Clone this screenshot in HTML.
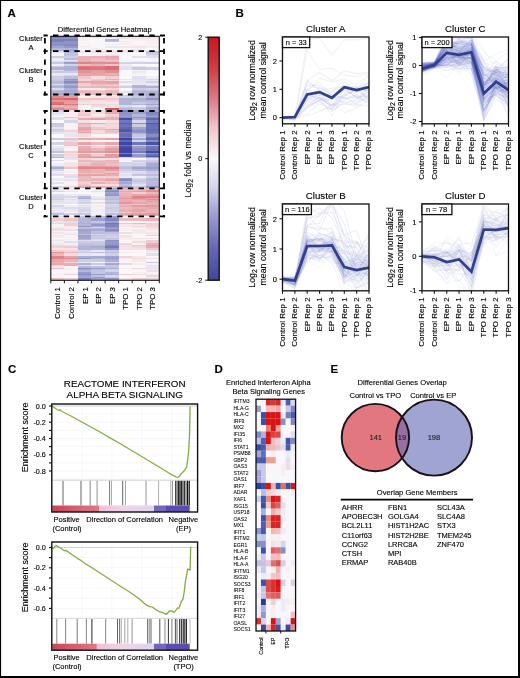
<!DOCTYPE html>
<html><head><meta charset="utf-8"><style>
html,body{margin:0;padding:0;background:#fff;overflow:hidden;}
svg{display:block;font-family:"Liberation Sans", sans-serif;will-change:transform;}
text{stroke:#000;stroke-width:0.12px;}
</style></head><body>
<svg width="520" height="678" viewBox="0 0 520 678">
<rect width="520" height="678" fill="#fff"/>
<text x="7.50" y="17.00" font-size="11.5" text-anchor="start" font-weight="bold" fill="#000" >A</text>
<text x="235.50" y="17.30" font-size="11.5" text-anchor="start" font-weight="bold" fill="#000" >B</text>
<text x="8.00" y="373.00" font-size="11.5" text-anchor="start" font-weight="bold" fill="#000" >C</text>
<text x="214.50" y="372.50" font-size="11.5" text-anchor="start" font-weight="bold" fill="#000" >D</text>
<text x="330.50" y="372.70" font-size="11.5" text-anchor="start" font-weight="bold" fill="#000" >E</text>
<g shape-rendering="crispEdges"><rect x="50.80" y="36.30" width="13.61" height="2.05" fill="#7d83bf"/><rect x="64.36" y="36.30" width="13.61" height="2.05" fill="#8d92c6"/><rect x="77.92" y="36.30" width="13.61" height="2.05" fill="#f6eaec"/><rect x="91.49" y="36.30" width="13.61" height="2.05" fill="#f6e6e9"/><rect x="105.05" y="36.30" width="13.61" height="2.05" fill="#eceaf3"/><rect x="118.61" y="36.30" width="13.61" height="2.05" fill="#f5e3e6"/><rect x="132.18" y="36.30" width="13.61" height="2.05" fill="#f6e7ea"/><rect x="145.74" y="36.30" width="13.61" height="2.05" fill="#f3dde0"/><rect x="50.80" y="38.30" width="13.61" height="0.25" fill="#888dc4"/><rect x="64.36" y="38.30" width="13.61" height="0.25" fill="#8a8fc5"/><rect x="77.92" y="38.30" width="13.61" height="0.25" fill="#f8f0f3"/><rect x="91.49" y="38.30" width="13.61" height="0.25" fill="#f9f5f7"/><rect x="105.05" y="38.30" width="13.61" height="0.25" fill="#ecebf3"/><rect x="118.61" y="38.30" width="13.61" height="0.25" fill="#f5e2e5"/><rect x="132.18" y="38.30" width="13.61" height="0.25" fill="#f4e1e4"/><rect x="145.74" y="38.30" width="13.61" height="0.25" fill="#f6eaec"/><rect x="50.80" y="38.50" width="13.61" height="2.55" fill="#797fbd"/><rect x="64.36" y="38.50" width="13.61" height="2.55" fill="#7b81bd"/><rect x="77.92" y="38.50" width="13.61" height="2.55" fill="#f8f2f4"/><rect x="91.49" y="38.50" width="13.61" height="2.55" fill="#f9f7f9"/><rect x="105.05" y="38.50" width="13.61" height="2.55" fill="#b4b7d9"/><rect x="118.61" y="38.50" width="13.61" height="2.55" fill="#f9f4f6"/><rect x="132.18" y="38.50" width="13.61" height="2.55" fill="#f7eef0"/><rect x="145.74" y="38.50" width="13.61" height="2.55" fill="#f7ebee"/><rect x="50.80" y="41.00" width="13.61" height="0.55" fill="#7d83be"/><rect x="64.36" y="41.00" width="13.61" height="0.55" fill="#8d92c6"/><rect x="77.92" y="41.00" width="13.61" height="0.55" fill="#f7f6f9"/><rect x="91.49" y="41.00" width="13.61" height="0.55" fill="#f6f5f8"/><rect x="105.05" y="41.00" width="13.61" height="0.55" fill="#bdbfdd"/><rect x="118.61" y="41.00" width="13.61" height="0.55" fill="#f7eef0"/><rect x="132.18" y="41.00" width="13.61" height="0.55" fill="#faf8fa"/><rect x="145.74" y="41.00" width="13.61" height="0.55" fill="#f8f3f5"/><rect x="50.80" y="41.50" width="13.61" height="2.55" fill="#8f94c7"/><rect x="64.36" y="41.50" width="13.61" height="2.55" fill="#9095c8"/><rect x="77.92" y="41.50" width="13.61" height="2.55" fill="#f8f2f5"/><rect x="91.49" y="41.50" width="13.61" height="2.55" fill="#f9f7f9"/><rect x="105.05" y="41.50" width="13.61" height="2.55" fill="#faf8fa"/><rect x="118.61" y="41.50" width="13.61" height="2.55" fill="#f4f2f7"/><rect x="132.18" y="41.50" width="13.61" height="2.55" fill="#f9f7f9"/><rect x="145.74" y="41.50" width="13.61" height="2.55" fill="#f1f0f6"/><rect x="50.80" y="44.00" width="13.61" height="1.05" fill="#888dc4"/><rect x="64.36" y="44.00" width="13.61" height="1.05" fill="#888dc4"/><rect x="77.92" y="44.00" width="13.61" height="1.05" fill="#f8f3f5"/><rect x="91.49" y="44.00" width="13.61" height="1.05" fill="#f9f7f9"/><rect x="105.05" y="44.00" width="13.61" height="1.05" fill="#eeedf4"/><rect x="118.61" y="44.00" width="13.61" height="1.05" fill="#f7eef1"/><rect x="132.18" y="44.00" width="13.61" height="1.05" fill="#f9f4f6"/><rect x="145.74" y="44.00" width="13.61" height="1.05" fill="#f9f7f9"/><rect x="50.80" y="45.00" width="13.61" height="1.05" fill="#9195c8"/><rect x="64.36" y="45.00" width="13.61" height="1.05" fill="#8287c1"/><rect x="77.92" y="45.00" width="13.61" height="1.05" fill="#f5f3f7"/><rect x="91.49" y="45.00" width="13.61" height="1.05" fill="#f7f5f8"/><rect x="105.05" y="45.00" width="13.61" height="1.05" fill="#f9f7f9"/><rect x="118.61" y="45.00" width="13.61" height="1.05" fill="#f8f6f9"/><rect x="132.18" y="45.00" width="13.61" height="1.05" fill="#f7eef1"/><rect x="145.74" y="45.00" width="13.61" height="1.05" fill="#f7eff1"/><rect x="50.80" y="46.00" width="13.61" height="2.05" fill="#a1a4cf"/><rect x="64.36" y="46.00" width="13.61" height="2.05" fill="#959aca"/><rect x="77.92" y="46.00" width="13.61" height="2.05" fill="#f7eef1"/><rect x="91.49" y="46.00" width="13.61" height="2.05" fill="#f9f6f8"/><rect x="105.05" y="46.00" width="13.61" height="2.05" fill="#e9e8f2"/><rect x="118.61" y="46.00" width="13.61" height="2.05" fill="#f5e6e9"/><rect x="132.18" y="46.00" width="13.61" height="2.05" fill="#f5e5e8"/><rect x="145.74" y="46.00" width="13.61" height="2.05" fill="#f7ebee"/><rect x="50.80" y="48.00" width="13.61" height="1.55" fill="#b5b8d9"/><rect x="64.36" y="48.00" width="13.61" height="1.55" fill="#b3b5d8"/><rect x="77.92" y="48.00" width="13.61" height="1.55" fill="#f6f4f8"/><rect x="91.49" y="48.00" width="13.61" height="1.55" fill="#f1eff5"/><rect x="105.05" y="48.00" width="13.61" height="1.55" fill="#f8f6f9"/><rect x="118.61" y="48.00" width="13.61" height="1.55" fill="#f9f6f8"/><rect x="132.18" y="48.00" width="13.61" height="1.55" fill="#f2f0f6"/><rect x="145.74" y="48.00" width="13.61" height="1.55" fill="#f8f6f9"/><rect x="50.80" y="49.50" width="13.61" height="1.55" fill="#b1b4d7"/><rect x="64.36" y="49.50" width="13.61" height="1.55" fill="#9b9fcd"/><rect x="77.92" y="49.50" width="13.61" height="1.55" fill="#f7ebed"/><rect x="91.49" y="49.50" width="13.61" height="1.55" fill="#f8f2f5"/><rect x="105.05" y="49.50" width="13.61" height="1.55" fill="#e9e8f2"/><rect x="118.61" y="49.50" width="13.61" height="1.55" fill="#f6e7e9"/><rect x="132.18" y="49.50" width="13.61" height="1.55" fill="#f4dee1"/><rect x="145.74" y="49.50" width="13.61" height="1.55" fill="#f9f5f7"/><rect x="50.80" y="51.00" width="13.61" height="1.55" fill="#e2e1ee"/><rect x="64.36" y="51.00" width="13.61" height="1.55" fill="#b8badb"/><rect x="77.92" y="51.00" width="13.61" height="1.55" fill="#f5e3e6"/><rect x="91.49" y="51.00" width="13.61" height="1.55" fill="#f4dee1"/><rect x="105.05" y="51.00" width="13.61" height="1.55" fill="#f5e3e6"/><rect x="118.61" y="51.00" width="13.61" height="1.55" fill="#edecf4"/><rect x="132.18" y="51.00" width="13.61" height="1.55" fill="#f1f0f6"/><rect x="145.74" y="51.00" width="13.61" height="1.55" fill="#bfc1de"/><rect x="50.80" y="52.50" width="13.61" height="2.05" fill="#f9f7f9"/><rect x="64.36" y="52.50" width="13.61" height="2.05" fill="#c1c2df"/><rect x="77.92" y="52.50" width="13.61" height="2.05" fill="#faf8fa"/><rect x="91.49" y="52.50" width="13.61" height="2.05" fill="#f8f1f3"/><rect x="105.05" y="52.50" width="13.61" height="2.05" fill="#f7edef"/><rect x="118.61" y="52.50" width="13.61" height="2.05" fill="#f7f6f8"/><rect x="132.18" y="52.50" width="13.61" height="2.05" fill="#faf8fa"/><rect x="145.74" y="52.50" width="13.61" height="2.05" fill="#cecfe5"/><rect x="50.80" y="54.50" width="13.61" height="1.55" fill="#f8f6f9"/><rect x="64.36" y="54.50" width="13.61" height="1.55" fill="#c3c5e0"/><rect x="77.92" y="54.50" width="13.61" height="1.55" fill="#f9f7f9"/><rect x="91.49" y="54.50" width="13.61" height="1.55" fill="#f7edef"/><rect x="105.05" y="54.50" width="13.61" height="1.55" fill="#f2d7da"/><rect x="118.61" y="54.50" width="13.61" height="1.55" fill="#f8f3f5"/><rect x="132.18" y="54.50" width="13.61" height="1.55" fill="#faf8fa"/><rect x="145.74" y="54.50" width="13.61" height="1.55" fill="#dcdcec"/><rect x="50.80" y="56.00" width="13.61" height="1.55" fill="#cdcde4"/><rect x="64.36" y="56.00" width="13.61" height="1.55" fill="#cecfe5"/><rect x="77.92" y="56.00" width="13.61" height="1.55" fill="#eab3b7"/><rect x="91.49" y="56.00" width="13.61" height="1.55" fill="#eab2b7"/><rect x="105.05" y="56.00" width="13.61" height="1.55" fill="#e7a7ac"/><rect x="118.61" y="56.00" width="13.61" height="1.55" fill="#faf8fa"/><rect x="132.18" y="56.00" width="13.61" height="1.55" fill="#e2e2ee"/><rect x="145.74" y="56.00" width="13.61" height="1.55" fill="#dedeec"/><rect x="50.80" y="57.50" width="13.61" height="2.05" fill="#edebf3"/><rect x="64.36" y="57.50" width="13.61" height="2.05" fill="#b9bbdb"/><rect x="77.92" y="57.50" width="13.61" height="2.05" fill="#e9b1b5"/><rect x="91.49" y="57.50" width="13.61" height="2.05" fill="#ecbec3"/><rect x="105.05" y="57.50" width="13.61" height="2.05" fill="#e9adb2"/><rect x="118.61" y="57.50" width="13.61" height="2.05" fill="#faf8fa"/><rect x="132.18" y="57.50" width="13.61" height="2.05" fill="#faf8fa"/><rect x="145.74" y="57.50" width="13.61" height="2.05" fill="#f6f4f8"/><rect x="50.80" y="59.50" width="13.61" height="1.55" fill="#f0eef5"/><rect x="64.36" y="59.50" width="13.61" height="1.55" fill="#e4e3ef"/><rect x="77.92" y="59.50" width="13.61" height="1.55" fill="#eab5b9"/><rect x="91.49" y="59.50" width="13.61" height="1.55" fill="#eec5c8"/><rect x="105.05" y="59.50" width="13.61" height="1.55" fill="#eec7cb"/><rect x="118.61" y="59.50" width="13.61" height="1.55" fill="#f1f0f6"/><rect x="132.18" y="59.50" width="13.61" height="1.55" fill="#faf8fa"/><rect x="145.74" y="59.50" width="13.61" height="1.55" fill="#f9f7f9"/><rect x="50.80" y="61.00" width="13.61" height="1.05" fill="#dfdfed"/><rect x="64.36" y="61.00" width="13.61" height="1.05" fill="#d0d0e6"/><rect x="77.92" y="61.00" width="13.61" height="1.05" fill="#e7a9ad"/><rect x="91.49" y="61.00" width="13.61" height="1.05" fill="#e8acb1"/><rect x="105.05" y="61.00" width="13.61" height="1.05" fill="#ebbabe"/><rect x="118.61" y="61.00" width="13.61" height="1.05" fill="#faf8fa"/><rect x="132.18" y="61.00" width="13.61" height="1.05" fill="#ebeaf2"/><rect x="145.74" y="61.00" width="13.61" height="1.05" fill="#f6f5f8"/><rect x="50.80" y="62.00" width="13.61" height="1.55" fill="#c9cae3"/><rect x="64.36" y="62.00" width="13.61" height="1.55" fill="#9b9fcd"/><rect x="77.92" y="62.00" width="13.61" height="1.55" fill="#df848a"/><rect x="91.49" y="62.00" width="13.61" height="1.55" fill="#e18d93"/><rect x="105.05" y="62.00" width="13.61" height="1.55" fill="#e18b91"/><rect x="118.61" y="62.00" width="13.61" height="1.55" fill="#d2d2e7"/><rect x="132.18" y="62.00" width="13.61" height="1.55" fill="#d2d2e7"/><rect x="145.74" y="62.00" width="13.61" height="1.55" fill="#cecfe5"/><rect x="50.80" y="63.50" width="13.61" height="2.05" fill="#f0eef5"/><rect x="64.36" y="63.50" width="13.61" height="2.05" fill="#d3d4e7"/><rect x="77.92" y="63.50" width="13.61" height="2.05" fill="#ecbec2"/><rect x="91.49" y="63.50" width="13.61" height="2.05" fill="#e9afb4"/><rect x="105.05" y="63.50" width="13.61" height="2.05" fill="#eec6ca"/><rect x="118.61" y="63.50" width="13.61" height="2.05" fill="#eeecf4"/><rect x="132.18" y="63.50" width="13.61" height="2.05" fill="#faf8fa"/><rect x="145.74" y="63.50" width="13.61" height="2.05" fill="#faf8fa"/><rect x="50.80" y="65.50" width="13.61" height="0.55" fill="#e1e1ee"/><rect x="64.36" y="65.50" width="13.61" height="0.55" fill="#d3d3e7"/><rect x="77.92" y="65.50" width="13.61" height="0.55" fill="#ebb8bd"/><rect x="91.49" y="65.50" width="13.61" height="0.55" fill="#ebb8bc"/><rect x="105.05" y="65.50" width="13.61" height="0.55" fill="#e4989d"/><rect x="118.61" y="65.50" width="13.61" height="0.55" fill="#e5e4f0"/><rect x="132.18" y="65.50" width="13.61" height="0.55" fill="#e0e0ee"/><rect x="145.74" y="65.50" width="13.61" height="0.55" fill="#d9d9ea"/><rect x="50.80" y="66.00" width="13.61" height="1.05" fill="#cbcce4"/><rect x="64.36" y="66.00" width="13.61" height="1.05" fill="#adb0d5"/><rect x="77.92" y="66.00" width="13.61" height="1.05" fill="#dd7b82"/><rect x="91.49" y="66.00" width="13.61" height="1.05" fill="#df838a"/><rect x="105.05" y="66.00" width="13.61" height="1.05" fill="#d96c73"/><rect x="118.61" y="66.00" width="13.61" height="1.05" fill="#e4e3ef"/><rect x="132.18" y="66.00" width="13.61" height="1.05" fill="#e4e4ef"/><rect x="145.74" y="66.00" width="13.61" height="1.05" fill="#f6f4f8"/><rect x="50.80" y="67.00" width="13.61" height="2.55" fill="#b1b4d7"/><rect x="64.36" y="67.00" width="13.61" height="2.55" fill="#adb0d5"/><rect x="77.92" y="67.00" width="13.61" height="2.55" fill="#da6f76"/><rect x="91.49" y="67.00" width="13.61" height="2.55" fill="#dc767d"/><rect x="105.05" y="67.00" width="13.61" height="2.55" fill="#da6e75"/><rect x="118.61" y="67.00" width="13.61" height="2.55" fill="#e1e0ee"/><rect x="132.18" y="67.00" width="13.61" height="2.55" fill="#c7c8e1"/><rect x="145.74" y="67.00" width="13.61" height="2.55" fill="#cecee5"/><rect x="50.80" y="69.50" width="13.61" height="1.55" fill="#dbdbeb"/><rect x="64.36" y="69.50" width="13.61" height="1.55" fill="#b6b9da"/><rect x="77.92" y="69.50" width="13.61" height="1.55" fill="#e4989e"/><rect x="91.49" y="69.50" width="13.61" height="1.55" fill="#e4999f"/><rect x="105.05" y="69.50" width="13.61" height="1.55" fill="#e18d93"/><rect x="118.61" y="69.50" width="13.61" height="1.55" fill="#faf8fa"/><rect x="132.18" y="69.50" width="13.61" height="1.55" fill="#f5f3f7"/><rect x="145.74" y="69.50" width="13.61" height="1.55" fill="#f5f4f8"/><rect x="50.80" y="71.00" width="13.61" height="1.55" fill="#c9cae2"/><rect x="64.36" y="71.00" width="13.61" height="1.55" fill="#cbcce4"/><rect x="77.92" y="71.00" width="13.61" height="1.55" fill="#e28f95"/><rect x="91.49" y="71.00" width="13.61" height="1.55" fill="#e59ea3"/><rect x="105.05" y="71.00" width="13.61" height="1.55" fill="#e18e94"/><rect x="118.61" y="71.00" width="13.61" height="1.55" fill="#faf8fa"/><rect x="132.18" y="71.00" width="13.61" height="1.55" fill="#eae9f2"/><rect x="145.74" y="71.00" width="13.61" height="1.55" fill="#faf8fa"/><rect x="50.80" y="72.50" width="13.61" height="2.05" fill="#eae9f2"/><rect x="64.36" y="72.50" width="13.61" height="2.05" fill="#e7e6f1"/><rect x="77.92" y="72.50" width="13.61" height="2.05" fill="#e6a4a9"/><rect x="91.49" y="72.50" width="13.61" height="2.05" fill="#e6a2a7"/><rect x="105.05" y="72.50" width="13.61" height="2.05" fill="#e9b0b4"/><rect x="118.61" y="72.50" width="13.61" height="2.05" fill="#faf8fa"/><rect x="132.18" y="72.50" width="13.61" height="2.05" fill="#f4f2f7"/><rect x="145.74" y="72.50" width="13.61" height="2.05" fill="#faf8fa"/><rect x="50.80" y="74.50" width="13.61" height="1.55" fill="#e4e3ef"/><rect x="64.36" y="74.50" width="13.61" height="1.55" fill="#d6d6e9"/><rect x="77.92" y="74.50" width="13.61" height="1.55" fill="#e59fa4"/><rect x="91.49" y="74.50" width="13.61" height="1.55" fill="#e8adb2"/><rect x="105.05" y="74.50" width="13.61" height="1.55" fill="#e7a5aa"/><rect x="118.61" y="74.50" width="13.61" height="1.55" fill="#faf8fa"/><rect x="132.18" y="74.50" width="13.61" height="1.55" fill="#faf8fa"/><rect x="145.74" y="74.50" width="13.61" height="1.55" fill="#faf8fa"/><rect x="50.80" y="76.00" width="13.61" height="2.55" fill="#cdcee4"/><rect x="64.36" y="76.00" width="13.61" height="2.55" fill="#bbbddc"/><rect x="77.92" y="76.00" width="13.61" height="2.55" fill="#efc8cc"/><rect x="91.49" y="76.00" width="13.61" height="2.55" fill="#f4dee1"/><rect x="105.05" y="76.00" width="13.61" height="2.55" fill="#f0ced1"/><rect x="118.61" y="76.00" width="13.61" height="2.55" fill="#faf8fa"/><rect x="132.18" y="76.00" width="13.61" height="2.55" fill="#dfdfed"/><rect x="145.74" y="76.00" width="13.61" height="2.55" fill="#f0eff5"/><rect x="50.80" y="78.50" width="13.61" height="1.05" fill="#c8c9e2"/><rect x="64.36" y="78.50" width="13.61" height="1.05" fill="#9297c9"/><rect x="77.92" y="78.50" width="13.61" height="1.05" fill="#f2d7da"/><rect x="91.49" y="78.50" width="13.61" height="1.05" fill="#efcbcf"/><rect x="105.05" y="78.50" width="13.61" height="1.05" fill="#eab2b7"/><rect x="118.61" y="78.50" width="13.61" height="1.05" fill="#e7e6f1"/><rect x="132.18" y="78.50" width="13.61" height="1.05" fill="#e2e1ee"/><rect x="145.74" y="78.50" width="13.61" height="1.05" fill="#d6d6e9"/><rect x="50.80" y="79.50" width="13.61" height="1.55" fill="#c5c7e1"/><rect x="64.36" y="79.50" width="13.61" height="1.55" fill="#9ea2ce"/><rect x="77.92" y="79.50" width="13.61" height="1.55" fill="#f1d3d6"/><rect x="91.49" y="79.50" width="13.61" height="1.55" fill="#ecbdc1"/><rect x="105.05" y="79.50" width="13.61" height="1.55" fill="#f1d3d6"/><rect x="118.61" y="79.50" width="13.61" height="1.55" fill="#faf8fa"/><rect x="132.18" y="79.50" width="13.61" height="1.55" fill="#e4e3ef"/><rect x="145.74" y="79.50" width="13.61" height="1.55" fill="#e9e8f2"/><rect x="50.80" y="81.00" width="13.61" height="1.55" fill="#b6b8da"/><rect x="64.36" y="81.00" width="13.61" height="1.55" fill="#878dc3"/><rect x="77.92" y="81.00" width="13.61" height="1.55" fill="#e6a3a8"/><rect x="91.49" y="81.00" width="13.61" height="1.55" fill="#e6a3a8"/><rect x="105.05" y="81.00" width="13.61" height="1.55" fill="#e5a0a5"/><rect x="118.61" y="81.00" width="13.61" height="1.55" fill="#dedeed"/><rect x="132.18" y="81.00" width="13.61" height="1.55" fill="#e8e7f1"/><rect x="145.74" y="81.00" width="13.61" height="1.55" fill="#d3d3e7"/><rect x="50.80" y="82.50" width="13.61" height="1.05" fill="#bebfdd"/><rect x="64.36" y="82.50" width="13.61" height="1.05" fill="#989ccb"/><rect x="77.92" y="82.50" width="13.61" height="1.05" fill="#f1d1d4"/><rect x="91.49" y="82.50" width="13.61" height="1.05" fill="#e8adb2"/><rect x="105.05" y="82.50" width="13.61" height="1.05" fill="#e6a4a9"/><rect x="118.61" y="82.50" width="13.61" height="1.05" fill="#f1f0f6"/><rect x="132.18" y="82.50" width="13.61" height="1.05" fill="#e6e5f0"/><rect x="145.74" y="82.50" width="13.61" height="1.05" fill="#e5e5f0"/><rect x="50.80" y="83.50" width="13.61" height="1.55" fill="#d8d8ea"/><rect x="64.36" y="83.50" width="13.61" height="1.55" fill="#b8bada"/><rect x="77.92" y="83.50" width="13.61" height="1.55" fill="#efcace"/><rect x="91.49" y="83.50" width="13.61" height="1.55" fill="#ebbabe"/><rect x="105.05" y="83.50" width="13.61" height="1.55" fill="#ecbcc0"/><rect x="118.61" y="83.50" width="13.61" height="1.55" fill="#f7f5f8"/><rect x="132.18" y="83.50" width="13.61" height="1.55" fill="#ecebf3"/><rect x="145.74" y="83.50" width="13.61" height="1.55" fill="#edecf4"/><rect x="50.80" y="85.00" width="13.61" height="1.05" fill="#bfc1de"/><rect x="64.36" y="85.00" width="13.61" height="1.05" fill="#9fa2cf"/><rect x="77.92" y="85.00" width="13.61" height="1.05" fill="#f2d6d9"/><rect x="91.49" y="85.00" width="13.61" height="1.05" fill="#eec5c9"/><rect x="105.05" y="85.00" width="13.61" height="1.05" fill="#efcbcf"/><rect x="118.61" y="85.00" width="13.61" height="1.05" fill="#e5e4f0"/><rect x="132.18" y="85.00" width="13.61" height="1.05" fill="#b4b6d8"/><rect x="145.74" y="85.00" width="13.61" height="1.05" fill="#d8d8ea"/><rect x="50.80" y="86.00" width="13.61" height="1.55" fill="#b1b4d7"/><rect x="64.36" y="86.00" width="13.61" height="1.55" fill="#9498c9"/><rect x="77.92" y="86.00" width="13.61" height="1.55" fill="#ebb9bd"/><rect x="91.49" y="86.00" width="13.61" height="1.55" fill="#eab5b9"/><rect x="105.05" y="86.00" width="13.61" height="1.55" fill="#eab2b7"/><rect x="118.61" y="86.00" width="13.61" height="1.55" fill="#d0d1e6"/><rect x="132.18" y="86.00" width="13.61" height="1.55" fill="#b0b3d7"/><rect x="145.74" y="86.00" width="13.61" height="1.55" fill="#adb0d5"/><rect x="50.80" y="87.50" width="13.61" height="2.05" fill="#dbdbeb"/><rect x="64.36" y="87.50" width="13.61" height="2.05" fill="#afb2d6"/><rect x="77.92" y="87.50" width="13.61" height="2.05" fill="#f6e7ea"/><rect x="91.49" y="87.50" width="13.61" height="2.05" fill="#f7ebed"/><rect x="105.05" y="87.50" width="13.61" height="2.05" fill="#f2d8db"/><rect x="118.61" y="87.50" width="13.61" height="2.05" fill="#faf8fa"/><rect x="132.18" y="87.50" width="13.61" height="2.05" fill="#c9cae2"/><rect x="145.74" y="87.50" width="13.61" height="2.05" fill="#d3d3e7"/><rect x="50.80" y="89.50" width="13.61" height="1.05" fill="#bcbedc"/><rect x="64.36" y="89.50" width="13.61" height="1.05" fill="#a3a7d1"/><rect x="77.92" y="89.50" width="13.61" height="1.05" fill="#eec4c8"/><rect x="91.49" y="89.50" width="13.61" height="1.05" fill="#f0cdd1"/><rect x="105.05" y="89.50" width="13.61" height="1.05" fill="#ecbec2"/><rect x="118.61" y="89.50" width="13.61" height="1.05" fill="#faf8fa"/><rect x="132.18" y="89.50" width="13.61" height="1.05" fill="#bcbddc"/><rect x="145.74" y="89.50" width="13.61" height="1.05" fill="#c5c6e0"/><rect x="50.80" y="90.50" width="13.61" height="2.55" fill="#b0b2d6"/><rect x="64.36" y="90.50" width="13.61" height="2.55" fill="#a6aad2"/><rect x="77.92" y="90.50" width="13.61" height="2.55" fill="#eab6ba"/><rect x="91.49" y="90.50" width="13.61" height="2.55" fill="#edc1c5"/><rect x="105.05" y="90.50" width="13.61" height="2.55" fill="#ebb7bb"/><rect x="118.61" y="90.50" width="13.61" height="2.55" fill="#e3e3ef"/><rect x="132.18" y="90.50" width="13.61" height="2.55" fill="#b3b5d8"/><rect x="145.74" y="90.50" width="13.61" height="2.55" fill="#afb2d6"/><rect x="50.80" y="93.00" width="13.61" height="1.55" fill="#aaadd4"/><rect x="64.36" y="93.00" width="13.61" height="1.55" fill="#999dcc"/><rect x="77.92" y="93.00" width="13.61" height="1.55" fill="#f1d1d5"/><rect x="91.49" y="93.00" width="13.61" height="1.55" fill="#ebb8bd"/><rect x="105.05" y="93.00" width="13.61" height="1.55" fill="#ecbec2"/><rect x="118.61" y="93.00" width="13.61" height="1.55" fill="#f3f2f7"/><rect x="132.18" y="93.00" width="13.61" height="1.55" fill="#b1b3d7"/><rect x="145.74" y="93.00" width="13.61" height="1.55" fill="#aaadd4"/><rect x="50.80" y="94.50" width="13.61" height="1.05" fill="#e7a9ae"/><rect x="64.36" y="94.50" width="13.61" height="1.05" fill="#e4999f"/><rect x="77.92" y="94.50" width="13.61" height="1.05" fill="#f5e6e9"/><rect x="91.49" y="94.50" width="13.61" height="1.05" fill="#f8f0f3"/><rect x="105.05" y="94.50" width="13.61" height="1.05" fill="#f8f0f2"/><rect x="118.61" y="94.50" width="13.61" height="1.05" fill="#c8c9e2"/><rect x="132.18" y="94.50" width="13.61" height="1.05" fill="#c0c1de"/><rect x="145.74" y="94.50" width="13.61" height="1.05" fill="#a6a9d2"/><rect x="50.80" y="95.50" width="13.61" height="2.55" fill="#e0898f"/><rect x="64.36" y="95.50" width="13.61" height="2.55" fill="#e59da2"/><rect x="77.92" y="95.50" width="13.61" height="2.55" fill="#f7eef0"/><rect x="91.49" y="95.50" width="13.61" height="2.55" fill="#f6e9eb"/><rect x="105.05" y="95.50" width="13.61" height="2.55" fill="#f4e1e3"/><rect x="118.61" y="95.50" width="13.61" height="2.55" fill="#d6d6e9"/><rect x="132.18" y="95.50" width="13.61" height="2.55" fill="#c6c7e1"/><rect x="145.74" y="95.50" width="13.61" height="2.55" fill="#b2b4d7"/><rect x="50.80" y="98.00" width="13.61" height="2.05" fill="#db7178"/><rect x="64.36" y="98.00" width="13.61" height="2.05" fill="#d7626a"/><rect x="77.92" y="98.00" width="13.61" height="2.05" fill="#efc8cb"/><rect x="91.49" y="98.00" width="13.61" height="2.05" fill="#edc1c5"/><rect x="105.05" y="98.00" width="13.61" height="2.05" fill="#f0ccd0"/><rect x="118.61" y="98.00" width="13.61" height="2.05" fill="#aeb1d6"/><rect x="132.18" y="98.00" width="13.61" height="2.05" fill="#abaed4"/><rect x="145.74" y="98.00" width="13.61" height="2.05" fill="#8c91c6"/><rect x="50.80" y="100.00" width="13.61" height="2.05" fill="#e3959a"/><rect x="64.36" y="100.00" width="13.61" height="2.05" fill="#e3979c"/><rect x="77.92" y="100.00" width="13.61" height="2.05" fill="#f2d8db"/><rect x="91.49" y="100.00" width="13.61" height="2.05" fill="#f4e0e3"/><rect x="105.05" y="100.00" width="13.61" height="2.05" fill="#f3dadd"/><rect x="118.61" y="100.00" width="13.61" height="2.05" fill="#b3b5d8"/><rect x="132.18" y="100.00" width="13.61" height="2.05" fill="#b3b5d8"/><rect x="145.74" y="100.00" width="13.61" height="2.05" fill="#b2b4d8"/><rect x="50.80" y="102.00" width="13.61" height="2.05" fill="#db7278"/><rect x="64.36" y="102.00" width="13.61" height="2.05" fill="#e59fa4"/><rect x="77.92" y="102.00" width="13.61" height="2.05" fill="#f5e4e6"/><rect x="91.49" y="102.00" width="13.61" height="2.05" fill="#f5e4e7"/><rect x="105.05" y="102.00" width="13.61" height="2.05" fill="#f6e8eb"/><rect x="118.61" y="102.00" width="13.61" height="2.05" fill="#b2b4d7"/><rect x="132.18" y="102.00" width="13.61" height="2.05" fill="#c9cae2"/><rect x="145.74" y="102.00" width="13.61" height="2.05" fill="#bbbddc"/><rect x="50.80" y="104.00" width="13.61" height="1.05" fill="#d96971"/><rect x="64.36" y="104.00" width="13.61" height="1.05" fill="#dc777e"/><rect x="77.92" y="104.00" width="13.61" height="1.05" fill="#f0cfd2"/><rect x="91.49" y="104.00" width="13.61" height="1.05" fill="#f0ced1"/><rect x="105.05" y="104.00" width="13.61" height="1.05" fill="#f3dbde"/><rect x="118.61" y="104.00" width="13.61" height="1.05" fill="#b2b4d8"/><rect x="132.18" y="104.00" width="13.61" height="1.05" fill="#b0b3d7"/><rect x="145.74" y="104.00" width="13.61" height="1.05" fill="#a1a4cf"/><rect x="50.80" y="105.00" width="13.61" height="1.55" fill="#ebb9bd"/><rect x="64.36" y="105.00" width="13.61" height="1.55" fill="#e7a5aa"/><rect x="77.92" y="105.00" width="13.61" height="1.55" fill="#faf8fa"/><rect x="91.49" y="105.00" width="13.61" height="1.55" fill="#dedeed"/><rect x="105.05" y="105.00" width="13.61" height="1.55" fill="#f3dbde"/><rect x="118.61" y="105.00" width="13.61" height="1.55" fill="#dbdbeb"/><rect x="132.18" y="105.00" width="13.61" height="1.55" fill="#e7e6f1"/><rect x="145.74" y="105.00" width="13.61" height="1.55" fill="#c7c8e1"/><rect x="50.80" y="106.50" width="13.61" height="1.05" fill="#e59da2"/><rect x="64.36" y="106.50" width="13.61" height="1.05" fill="#ebb9bd"/><rect x="77.92" y="106.50" width="13.61" height="1.05" fill="#f7ecee"/><rect x="91.49" y="106.50" width="13.61" height="1.05" fill="#f7ecee"/><rect x="105.05" y="106.50" width="13.61" height="1.05" fill="#faf8fa"/><rect x="118.61" y="106.50" width="13.61" height="1.05" fill="#c4c6e0"/><rect x="132.18" y="106.50" width="13.61" height="1.05" fill="#d4d4e8"/><rect x="145.74" y="106.50" width="13.61" height="1.05" fill="#a9acd3"/><rect x="50.80" y="107.50" width="13.61" height="1.55" fill="#e18b91"/><rect x="64.36" y="107.50" width="13.61" height="1.55" fill="#e59ea3"/><rect x="77.92" y="107.50" width="13.61" height="1.55" fill="#f9f7f9"/><rect x="91.49" y="107.50" width="13.61" height="1.55" fill="#f8f1f3"/><rect x="105.05" y="107.50" width="13.61" height="1.55" fill="#d24c55"/><rect x="118.61" y="107.50" width="13.61" height="1.55" fill="#b6b8d9"/><rect x="132.18" y="107.50" width="13.61" height="1.55" fill="#bfc0de"/><rect x="145.74" y="107.50" width="13.61" height="1.55" fill="#a3a7d1"/><rect x="50.80" y="109.00" width="13.61" height="1.25" fill="#df858b"/><rect x="64.36" y="109.00" width="13.61" height="1.25" fill="#e3979c"/><rect x="77.92" y="109.00" width="13.61" height="1.25" fill="#f7eef1"/><rect x="91.49" y="109.00" width="13.61" height="1.25" fill="#faf8fa"/><rect x="105.05" y="109.00" width="13.61" height="1.25" fill="#d75f67"/><rect x="118.61" y="109.00" width="13.61" height="1.25" fill="#b7b9da"/><rect x="132.18" y="109.00" width="13.61" height="1.25" fill="#cacbe3"/><rect x="145.74" y="109.00" width="13.61" height="1.25" fill="#afb2d6"/><rect x="50.80" y="110.20" width="13.61" height="2.05" fill="#d1d1e6"/><rect x="64.36" y="110.20" width="13.61" height="2.05" fill="#f4e0e3"/><rect x="77.92" y="110.20" width="13.61" height="2.05" fill="#ecbdc1"/><rect x="91.49" y="110.20" width="13.61" height="2.05" fill="#f3d9dd"/><rect x="105.05" y="110.20" width="13.61" height="2.05" fill="#e7a6ab"/><rect x="118.61" y="110.20" width="13.61" height="2.05" fill="#787ebc"/><rect x="132.18" y="110.20" width="13.61" height="2.05" fill="#a6a9d2"/><rect x="145.74" y="110.20" width="13.61" height="2.05" fill="#a4a7d1"/><rect x="50.80" y="112.20" width="13.61" height="2.05" fill="#e1e1ee"/><rect x="64.36" y="112.20" width="13.61" height="2.05" fill="#f7eef0"/><rect x="77.92" y="112.20" width="13.61" height="2.05" fill="#f0d0d3"/><rect x="91.49" y="112.20" width="13.61" height="2.05" fill="#f3d9dc"/><rect x="105.05" y="112.20" width="13.61" height="2.05" fill="#e8acb1"/><rect x="118.61" y="112.20" width="13.61" height="2.05" fill="#8f94c7"/><rect x="132.18" y="112.20" width="13.61" height="2.05" fill="#9b9fcd"/><rect x="145.74" y="112.20" width="13.61" height="2.05" fill="#7e84bf"/><rect x="50.80" y="114.20" width="13.61" height="1.55" fill="#ecebf3"/><rect x="64.36" y="114.20" width="13.61" height="1.55" fill="#f7ecee"/><rect x="77.92" y="114.20" width="13.61" height="1.55" fill="#eec7cb"/><rect x="91.49" y="114.20" width="13.61" height="1.55" fill="#f6eaed"/><rect x="105.05" y="114.20" width="13.61" height="1.55" fill="#f1d3d6"/><rect x="118.61" y="114.20" width="13.61" height="1.55" fill="#9195c8"/><rect x="132.18" y="114.20" width="13.61" height="1.55" fill="#b4b7d9"/><rect x="145.74" y="114.20" width="13.61" height="1.55" fill="#888dc4"/><rect x="50.80" y="115.70" width="13.61" height="1.05" fill="#faf8fa"/><rect x="64.36" y="115.70" width="13.61" height="1.05" fill="#f7ecef"/><rect x="77.92" y="115.70" width="13.61" height="1.05" fill="#f4dfe2"/><rect x="91.49" y="115.70" width="13.61" height="1.05" fill="#f4e0e3"/><rect x="105.05" y="115.70" width="13.61" height="1.05" fill="#f0cdd1"/><rect x="118.61" y="115.70" width="13.61" height="1.05" fill="#989ccb"/><rect x="132.18" y="115.70" width="13.61" height="1.05" fill="#b5b7d9"/><rect x="145.74" y="115.70" width="13.61" height="1.05" fill="#9ca0cd"/><rect x="50.80" y="116.70" width="13.61" height="1.35" fill="#dfdfed"/><rect x="64.36" y="116.70" width="13.61" height="1.35" fill="#edc2c6"/><rect x="77.92" y="116.70" width="13.61" height="1.35" fill="#f3dcdf"/><rect x="91.49" y="116.70" width="13.61" height="1.35" fill="#f1d1d4"/><rect x="105.05" y="116.70" width="13.61" height="1.35" fill="#e9b0b5"/><rect x="118.61" y="116.70" width="13.61" height="1.35" fill="#888dc4"/><rect x="132.18" y="116.70" width="13.61" height="1.35" fill="#9397c9"/><rect x="145.74" y="116.70" width="13.61" height="1.35" fill="#7f84bf"/><rect x="50.80" y="118.00" width="13.61" height="2.05" fill="#e0dfed"/><rect x="64.36" y="118.00" width="13.61" height="2.05" fill="#f6e9ec"/><rect x="77.92" y="118.00" width="13.61" height="2.05" fill="#e8aaaf"/><rect x="91.49" y="118.00" width="13.61" height="2.05" fill="#e59da2"/><rect x="105.05" y="118.00" width="13.61" height="2.05" fill="#e9b1b6"/><rect x="118.61" y="118.00" width="13.61" height="2.05" fill="#424ca3"/><rect x="132.18" y="118.00" width="13.61" height="2.05" fill="#aaadd4"/><rect x="145.74" y="118.00" width="13.61" height="2.05" fill="#5e66b0"/><rect x="50.80" y="120.00" width="13.61" height="2.55" fill="#faf8fa"/><rect x="64.36" y="120.00" width="13.61" height="2.55" fill="#d6d6e9"/><rect x="77.92" y="120.00" width="13.61" height="2.55" fill="#f4e1e4"/><rect x="91.49" y="120.00" width="13.61" height="2.55" fill="#f7edf0"/><rect x="105.05" y="120.00" width="13.61" height="2.55" fill="#f4dfe2"/><rect x="118.61" y="120.00" width="13.61" height="2.55" fill="#6f76b8"/><rect x="132.18" y="120.00" width="13.61" height="2.55" fill="#d9d9ea"/><rect x="145.74" y="120.00" width="13.61" height="2.55" fill="#787ebc"/><rect x="50.80" y="122.50" width="13.61" height="1.55" fill="#c2c3df"/><rect x="64.36" y="122.50" width="13.61" height="1.55" fill="#f8f1f3"/><rect x="77.92" y="122.50" width="13.61" height="1.55" fill="#e7a9ae"/><rect x="91.49" y="122.50" width="13.61" height="1.55" fill="#e7a6ab"/><rect x="105.05" y="122.50" width="13.61" height="1.55" fill="#f1d1d4"/><rect x="118.61" y="122.50" width="13.61" height="1.55" fill="#5860ad"/><rect x="132.18" y="122.50" width="13.61" height="1.55" fill="#898ec4"/><rect x="145.74" y="122.50" width="13.61" height="1.55" fill="#5058a9"/><rect x="50.80" y="124.00" width="13.61" height="2.55" fill="#cbcce3"/><rect x="64.36" y="124.00" width="13.61" height="2.55" fill="#f8f2f5"/><rect x="77.92" y="124.00" width="13.61" height="2.55" fill="#edc1c5"/><rect x="91.49" y="124.00" width="13.61" height="2.55" fill="#f4e0e3"/><rect x="105.05" y="124.00" width="13.61" height="2.55" fill="#f2d8db"/><rect x="118.61" y="124.00" width="13.61" height="2.55" fill="#6c72b6"/><rect x="132.18" y="124.00" width="13.61" height="2.55" fill="#cccde4"/><rect x="145.74" y="124.00" width="13.61" height="2.55" fill="#6870b5"/><rect x="50.80" y="126.50" width="13.61" height="2.05" fill="#e2e2ef"/><rect x="64.36" y="126.50" width="13.61" height="2.05" fill="#f7f5f8"/><rect x="77.92" y="126.50" width="13.61" height="2.05" fill="#e7a6ab"/><rect x="91.49" y="126.50" width="13.61" height="2.05" fill="#efcacd"/><rect x="105.05" y="126.50" width="13.61" height="2.05" fill="#f2d8dc"/><rect x="118.61" y="126.50" width="13.61" height="2.05" fill="#6168b1"/><rect x="132.18" y="126.50" width="13.61" height="2.05" fill="#a2a5d0"/><rect x="145.74" y="126.50" width="13.61" height="2.05" fill="#6a71b6"/><rect x="50.80" y="128.50" width="13.61" height="1.05" fill="#cccde4"/><rect x="64.36" y="128.50" width="13.61" height="1.05" fill="#f5e6e8"/><rect x="77.92" y="128.50" width="13.61" height="1.05" fill="#e49a9f"/><rect x="91.49" y="128.50" width="13.61" height="1.05" fill="#ebb9bd"/><rect x="105.05" y="128.50" width="13.61" height="1.05" fill="#e8acb0"/><rect x="118.61" y="128.50" width="13.61" height="1.05" fill="#545dab"/><rect x="132.18" y="128.50" width="13.61" height="1.05" fill="#9a9ecc"/><rect x="145.74" y="128.50" width="13.61" height="1.05" fill="#5e66b0"/><rect x="50.80" y="129.50" width="13.61" height="2.05" fill="#d3d4e7"/><rect x="64.36" y="129.50" width="13.61" height="2.05" fill="#f1d4d7"/><rect x="77.92" y="129.50" width="13.61" height="2.05" fill="#eab5ba"/><rect x="91.49" y="129.50" width="13.61" height="2.05" fill="#f3d9dc"/><rect x="105.05" y="129.50" width="13.61" height="2.05" fill="#ecbdc1"/><rect x="118.61" y="129.50" width="13.61" height="2.05" fill="#4c55a7"/><rect x="132.18" y="129.50" width="13.61" height="2.05" fill="#8c91c6"/><rect x="145.74" y="129.50" width="13.61" height="2.05" fill="#656db3"/><rect x="50.80" y="131.50" width="13.61" height="1.05" fill="#e7e6f1"/><rect x="64.36" y="131.50" width="13.61" height="1.05" fill="#f5e3e6"/><rect x="77.92" y="131.50" width="13.61" height="1.05" fill="#e6a0a6"/><rect x="91.49" y="131.50" width="13.61" height="1.05" fill="#f3dadd"/><rect x="105.05" y="131.50" width="13.61" height="1.05" fill="#edc0c4"/><rect x="118.61" y="131.50" width="13.61" height="1.05" fill="#777dbc"/><rect x="132.18" y="131.50" width="13.61" height="1.05" fill="#9297c9"/><rect x="145.74" y="131.50" width="13.61" height="1.05" fill="#676fb4"/><rect x="50.80" y="132.50" width="13.61" height="1.55" fill="#e3e3ef"/><rect x="64.36" y="132.50" width="13.61" height="1.55" fill="#f5e6e8"/><rect x="77.92" y="132.50" width="13.61" height="1.55" fill="#f0d0d3"/><rect x="91.49" y="132.50" width="13.61" height="1.55" fill="#f2d7da"/><rect x="105.05" y="132.50" width="13.61" height="1.55" fill="#f2d6d9"/><rect x="118.61" y="132.50" width="13.61" height="1.55" fill="#666eb4"/><rect x="132.18" y="132.50" width="13.61" height="1.55" fill="#aeb1d6"/><rect x="145.74" y="132.50" width="13.61" height="1.55" fill="#737aba"/><rect x="50.80" y="134.00" width="13.61" height="2.55" fill="#faf8fa"/><rect x="64.36" y="134.00" width="13.61" height="2.55" fill="#e6e5f0"/><rect x="77.92" y="134.00" width="13.61" height="2.55" fill="#f3dadd"/><rect x="91.49" y="134.00" width="13.61" height="2.55" fill="#f9f5f7"/><rect x="105.05" y="134.00" width="13.61" height="2.55" fill="#f9f7f9"/><rect x="118.61" y="134.00" width="13.61" height="2.55" fill="#676eb4"/><rect x="132.18" y="134.00" width="13.61" height="2.55" fill="#c6c7e1"/><rect x="145.74" y="134.00" width="13.61" height="2.55" fill="#888dc4"/><rect x="50.80" y="136.50" width="13.61" height="1.55" fill="#faf8fa"/><rect x="64.36" y="136.50" width="13.61" height="1.55" fill="#f5f3f7"/><rect x="77.92" y="136.50" width="13.61" height="1.55" fill="#f9f4f6"/><rect x="91.49" y="136.50" width="13.61" height="1.55" fill="#f5e4e7"/><rect x="105.05" y="136.50" width="13.61" height="1.55" fill="#f8eff1"/><rect x="118.61" y="136.50" width="13.61" height="1.55" fill="#757bbb"/><rect x="132.18" y="136.50" width="13.61" height="1.55" fill="#d7d7e9"/><rect x="145.74" y="136.50" width="13.61" height="1.55" fill="#6c73b7"/><rect x="50.80" y="138.00" width="13.61" height="1.55" fill="#cacbe3"/><rect x="64.36" y="138.00" width="13.61" height="1.55" fill="#edc0c4"/><rect x="77.92" y="138.00" width="13.61" height="1.55" fill="#e8acb1"/><rect x="91.49" y="138.00" width="13.61" height="1.55" fill="#e9b1b6"/><rect x="105.05" y="138.00" width="13.61" height="1.55" fill="#e6a2a7"/><rect x="118.61" y="138.00" width="13.61" height="1.55" fill="#3c46a0"/><rect x="132.18" y="138.00" width="13.61" height="1.55" fill="#a4a7d1"/><rect x="145.74" y="138.00" width="13.61" height="1.55" fill="#6067b1"/><rect x="50.80" y="139.50" width="13.61" height="2.55" fill="#faf8fa"/><rect x="64.36" y="139.50" width="13.61" height="2.55" fill="#dedeed"/><rect x="77.92" y="139.50" width="13.61" height="2.55" fill="#f6e8ea"/><rect x="91.49" y="139.50" width="13.61" height="2.55" fill="#f8f2f4"/><rect x="105.05" y="139.50" width="13.61" height="2.55" fill="#faf8fa"/><rect x="118.61" y="139.50" width="13.61" height="2.55" fill="#6068b1"/><rect x="132.18" y="139.50" width="13.61" height="2.55" fill="#d3d4e7"/><rect x="145.74" y="139.50" width="13.61" height="2.55" fill="#878cc3"/><rect x="50.80" y="142.00" width="13.61" height="2.55" fill="#d3d3e7"/><rect x="64.36" y="142.00" width="13.61" height="2.55" fill="#eec7cb"/><rect x="77.92" y="142.00" width="13.61" height="2.55" fill="#e6a3a8"/><rect x="91.49" y="142.00" width="13.61" height="2.55" fill="#ebb6bb"/><rect x="105.05" y="142.00" width="13.61" height="2.55" fill="#e7a5aa"/><rect x="118.61" y="142.00" width="13.61" height="2.55" fill="#3c46a0"/><rect x="132.18" y="142.00" width="13.61" height="2.55" fill="#7077b9"/><rect x="145.74" y="142.00" width="13.61" height="2.55" fill="#4952a6"/><rect x="50.80" y="144.50" width="13.61" height="0.55" fill="#f7f5f8"/><rect x="64.36" y="144.50" width="13.61" height="0.55" fill="#e5e4f0"/><rect x="77.92" y="144.50" width="13.61" height="0.55" fill="#f0ccd0"/><rect x="91.49" y="144.50" width="13.61" height="0.55" fill="#f5e4e7"/><rect x="105.05" y="144.50" width="13.61" height="0.55" fill="#f6eaed"/><rect x="118.61" y="144.50" width="13.61" height="0.55" fill="#646bb3"/><rect x="132.18" y="144.50" width="13.61" height="0.55" fill="#c7c8e2"/><rect x="145.74" y="144.50" width="13.61" height="0.55" fill="#999dcc"/><rect x="50.80" y="145.00" width="13.61" height="1.05" fill="#faf8fa"/><rect x="64.36" y="145.00" width="13.61" height="1.05" fill="#cacbe3"/><rect x="77.92" y="145.00" width="13.61" height="1.05" fill="#f7eef1"/><rect x="91.49" y="145.00" width="13.61" height="1.05" fill="#faf8fa"/><rect x="105.05" y="145.00" width="13.61" height="1.05" fill="#faf8fa"/><rect x="118.61" y="145.00" width="13.61" height="1.05" fill="#6b72b6"/><rect x="132.18" y="145.00" width="13.61" height="1.05" fill="#d4d4e8"/><rect x="145.74" y="145.00" width="13.61" height="1.05" fill="#acafd5"/><rect x="50.80" y="146.00" width="13.61" height="2.05" fill="#eae9f2"/><rect x="64.36" y="146.00" width="13.61" height="2.05" fill="#f7edf0"/><rect x="77.92" y="146.00" width="13.61" height="2.05" fill="#e9b0b4"/><rect x="91.49" y="146.00" width="13.61" height="2.05" fill="#f1d3d6"/><rect x="105.05" y="146.00" width="13.61" height="2.05" fill="#eab5b9"/><rect x="118.61" y="146.00" width="13.61" height="2.05" fill="#454fa4"/><rect x="132.18" y="146.00" width="13.61" height="2.05" fill="#999dcc"/><rect x="145.74" y="146.00" width="13.61" height="2.05" fill="#7279b9"/><rect x="50.80" y="148.00" width="13.61" height="2.55" fill="#dbdbeb"/><rect x="64.36" y="148.00" width="13.61" height="2.55" fill="#f8f2f4"/><rect x="77.92" y="148.00" width="13.61" height="2.55" fill="#e7a7ac"/><rect x="91.49" y="148.00" width="13.61" height="2.55" fill="#ebb6bb"/><rect x="105.05" y="148.00" width="13.61" height="2.55" fill="#e59da2"/><rect x="118.61" y="148.00" width="13.61" height="2.55" fill="#3c46a0"/><rect x="132.18" y="148.00" width="13.61" height="2.55" fill="#8b90c5"/><rect x="145.74" y="148.00" width="13.61" height="2.55" fill="#6a71b6"/><rect x="50.80" y="150.50" width="13.61" height="2.05" fill="#c0c2de"/><rect x="64.36" y="150.50" width="13.61" height="2.05" fill="#f0ced1"/><rect x="77.92" y="150.50" width="13.61" height="2.05" fill="#e49ba0"/><rect x="91.49" y="150.50" width="13.61" height="2.05" fill="#e59ea3"/><rect x="105.05" y="150.50" width="13.61" height="2.05" fill="#e18e94"/><rect x="118.61" y="150.50" width="13.61" height="2.05" fill="#3c46a0"/><rect x="132.18" y="150.50" width="13.61" height="2.05" fill="#747aba"/><rect x="145.74" y="150.50" width="13.61" height="2.05" fill="#414ba2"/><rect x="50.80" y="152.50" width="13.61" height="1.55" fill="#faf8fa"/><rect x="64.36" y="152.50" width="13.61" height="1.55" fill="#e8e7f1"/><rect x="77.92" y="152.50" width="13.61" height="1.55" fill="#f4e0e3"/><rect x="91.49" y="152.50" width="13.61" height="1.55" fill="#f8eff1"/><rect x="105.05" y="152.50" width="13.61" height="1.55" fill="#f6e7e9"/><rect x="118.61" y="152.50" width="13.61" height="1.55" fill="#7379ba"/><rect x="132.18" y="152.50" width="13.61" height="1.55" fill="#c7c8e2"/><rect x="145.74" y="152.50" width="13.61" height="1.55" fill="#858ac2"/><rect x="50.80" y="154.00" width="13.61" height="1.55" fill="#cacbe3"/><rect x="64.36" y="154.00" width="13.61" height="1.55" fill="#f2d7da"/><rect x="77.92" y="154.00" width="13.61" height="1.55" fill="#e6a4a9"/><rect x="91.49" y="154.00" width="13.61" height="1.55" fill="#efcacd"/><rect x="105.05" y="154.00" width="13.61" height="1.55" fill="#e4989d"/><rect x="118.61" y="154.00" width="13.61" height="1.55" fill="#3c46a0"/><rect x="132.18" y="154.00" width="13.61" height="1.55" fill="#9599ca"/><rect x="145.74" y="154.00" width="13.61" height="1.55" fill="#6a71b5"/><rect x="50.80" y="155.50" width="13.61" height="1.55" fill="#d3d4e7"/><rect x="64.36" y="155.50" width="13.61" height="1.55" fill="#f4e2e4"/><rect x="77.92" y="155.50" width="13.61" height="1.55" fill="#e59ea4"/><rect x="91.49" y="155.50" width="13.61" height="1.55" fill="#eab6ba"/><rect x="105.05" y="155.50" width="13.61" height="1.55" fill="#e5a0a5"/><rect x="118.61" y="155.50" width="13.61" height="1.55" fill="#3c46a0"/><rect x="132.18" y="155.50" width="13.61" height="1.55" fill="#8e93c7"/><rect x="145.74" y="155.50" width="13.61" height="1.55" fill="#4d56a8"/><rect x="50.80" y="157.00" width="13.61" height="1.05" fill="#b4b6d9"/><rect x="64.36" y="157.00" width="13.61" height="1.05" fill="#f1d1d5"/><rect x="77.92" y="157.00" width="13.61" height="1.05" fill="#e6a1a6"/><rect x="91.49" y="157.00" width="13.61" height="1.05" fill="#e08a90"/><rect x="105.05" y="157.00" width="13.61" height="1.05" fill="#e4999e"/><rect x="118.61" y="157.00" width="13.61" height="1.05" fill="#d5d5e8"/><rect x="132.18" y="157.00" width="13.61" height="1.05" fill="#c2c3df"/><rect x="145.74" y="157.00" width="13.61" height="1.05" fill="#a5a9d2"/><rect x="50.80" y="158.00" width="13.61" height="1.55" fill="#faf8fa"/><rect x="64.36" y="158.00" width="13.61" height="1.55" fill="#e5e4f0"/><rect x="77.92" y="158.00" width="13.61" height="1.55" fill="#f0d0d3"/><rect x="91.49" y="158.00" width="13.61" height="1.55" fill="#f4e1e4"/><rect x="105.05" y="158.00" width="13.61" height="1.55" fill="#f3dde0"/><rect x="118.61" y="158.00" width="13.61" height="1.55" fill="#f1f0f6"/><rect x="132.18" y="158.00" width="13.61" height="1.55" fill="#faf8fa"/><rect x="145.74" y="158.00" width="13.61" height="1.55" fill="#ddddec"/><rect x="50.80" y="159.50" width="13.61" height="1.05" fill="#dbdbeb"/><rect x="64.36" y="159.50" width="13.61" height="1.05" fill="#f9f4f6"/><rect x="77.92" y="159.50" width="13.61" height="1.05" fill="#ebb8bd"/><rect x="91.49" y="159.50" width="13.61" height="1.05" fill="#eec6ca"/><rect x="105.05" y="159.50" width="13.61" height="1.05" fill="#e9b0b5"/><rect x="118.61" y="159.50" width="13.61" height="1.05" fill="#f2f0f6"/><rect x="132.18" y="159.50" width="13.61" height="1.05" fill="#d6d6e9"/><rect x="145.74" y="159.50" width="13.61" height="1.05" fill="#cecee5"/><rect x="50.80" y="160.50" width="13.61" height="1.05" fill="#faf8fa"/><rect x="64.36" y="160.50" width="13.61" height="1.05" fill="#f7f6f8"/><rect x="77.92" y="160.50" width="13.61" height="1.05" fill="#eab3b8"/><rect x="91.49" y="160.50" width="13.61" height="1.05" fill="#e9b0b4"/><rect x="105.05" y="160.50" width="13.61" height="1.05" fill="#ecbcc1"/><rect x="118.61" y="160.50" width="13.61" height="1.05" fill="#f7f5f8"/><rect x="132.18" y="160.50" width="13.61" height="1.05" fill="#d1d2e7"/><rect x="145.74" y="160.50" width="13.61" height="1.05" fill="#c5c6e1"/><rect x="50.80" y="161.50" width="13.61" height="1.55" fill="#faf8fa"/><rect x="64.36" y="161.50" width="13.61" height="1.55" fill="#f6e8ea"/><rect x="77.92" y="161.50" width="13.61" height="1.55" fill="#f1d2d6"/><rect x="91.49" y="161.50" width="13.61" height="1.55" fill="#edc0c4"/><rect x="105.05" y="161.50" width="13.61" height="1.55" fill="#eab5b9"/><rect x="118.61" y="161.50" width="13.61" height="1.55" fill="#cfd0e6"/><rect x="132.18" y="161.50" width="13.61" height="1.55" fill="#dbdbeb"/><rect x="145.74" y="161.50" width="13.61" height="1.55" fill="#bcbedd"/><rect x="50.80" y="163.00" width="13.61" height="2.55" fill="#f0eef5"/><rect x="64.36" y="163.00" width="13.61" height="2.55" fill="#f5e5e8"/><rect x="77.92" y="163.00" width="13.61" height="2.55" fill="#eec3c7"/><rect x="91.49" y="163.00" width="13.61" height="2.55" fill="#e9b1b6"/><rect x="105.05" y="163.00" width="13.61" height="2.55" fill="#ecbdc1"/><rect x="118.61" y="163.00" width="13.61" height="2.55" fill="#d4d5e8"/><rect x="132.18" y="163.00" width="13.61" height="2.55" fill="#d3d3e7"/><rect x="145.74" y="163.00" width="13.61" height="2.55" fill="#a6a9d2"/><rect x="50.80" y="165.50" width="13.61" height="1.05" fill="#c7c8e1"/><rect x="64.36" y="165.50" width="13.61" height="1.05" fill="#f2d8db"/><rect x="77.92" y="165.50" width="13.61" height="1.05" fill="#e3979d"/><rect x="91.49" y="165.50" width="13.61" height="1.05" fill="#e59ca1"/><rect x="105.05" y="165.50" width="13.61" height="1.05" fill="#e7a7ac"/><rect x="118.61" y="165.50" width="13.61" height="1.05" fill="#c4c5e0"/><rect x="132.18" y="165.50" width="13.61" height="1.05" fill="#b9bbdb"/><rect x="145.74" y="165.50" width="13.61" height="1.05" fill="#a6aad2"/><rect x="50.80" y="166.50" width="13.61" height="2.55" fill="#abaed5"/><rect x="64.36" y="166.50" width="13.61" height="2.55" fill="#eec5c9"/><rect x="77.92" y="166.50" width="13.61" height="2.55" fill="#e0878d"/><rect x="91.49" y="166.50" width="13.61" height="2.55" fill="#e0888e"/><rect x="105.05" y="166.50" width="13.61" height="2.55" fill="#df838a"/><rect x="118.61" y="166.50" width="13.61" height="2.55" fill="#bbbddc"/><rect x="132.18" y="166.50" width="13.61" height="2.55" fill="#a3a6d1"/><rect x="145.74" y="166.50" width="13.61" height="2.55" fill="#999dcc"/><rect x="50.80" y="169.00" width="13.61" height="1.55" fill="#d7d7e9"/><rect x="64.36" y="169.00" width="13.61" height="1.55" fill="#f9f7f9"/><rect x="77.92" y="169.00" width="13.61" height="1.55" fill="#e7a8ad"/><rect x="91.49" y="169.00" width="13.61" height="1.55" fill="#eab3b8"/><rect x="105.05" y="169.00" width="13.61" height="1.55" fill="#e59fa4"/><rect x="118.61" y="169.00" width="13.61" height="1.55" fill="#cccde4"/><rect x="132.18" y="169.00" width="13.61" height="1.55" fill="#babcdc"/><rect x="145.74" y="169.00" width="13.61" height="1.55" fill="#a9acd3"/><rect x="50.80" y="170.50" width="13.61" height="2.05" fill="#eeedf4"/><rect x="64.36" y="170.50" width="13.61" height="2.05" fill="#f7eef0"/><rect x="77.92" y="170.50" width="13.61" height="2.05" fill="#e9aeb3"/><rect x="91.49" y="170.50" width="13.61" height="2.05" fill="#e9b1b6"/><rect x="105.05" y="170.50" width="13.61" height="2.05" fill="#edc1c5"/><rect x="118.61" y="170.50" width="13.61" height="2.05" fill="#ddddec"/><rect x="132.18" y="170.50" width="13.61" height="2.05" fill="#ddddec"/><rect x="145.74" y="170.50" width="13.61" height="2.05" fill="#cacbe3"/><rect x="50.80" y="172.50" width="13.61" height="1.55" fill="#e8e7f1"/><rect x="64.36" y="172.50" width="13.61" height="1.55" fill="#f8f6f9"/><rect x="77.92" y="172.50" width="13.61" height="1.55" fill="#edbfc3"/><rect x="91.49" y="172.50" width="13.61" height="1.55" fill="#eec4c7"/><rect x="105.05" y="172.50" width="13.61" height="1.55" fill="#e6a1a6"/><rect x="118.61" y="172.50" width="13.61" height="1.55" fill="#e8e7f1"/><rect x="132.18" y="172.50" width="13.61" height="1.55" fill="#dadaea"/><rect x="145.74" y="172.50" width="13.61" height="1.55" fill="#cecfe5"/><rect x="50.80" y="174.00" width="13.61" height="2.05" fill="#dedeec"/><rect x="64.36" y="174.00" width="13.61" height="2.05" fill="#f3dcdf"/><rect x="77.92" y="174.00" width="13.61" height="2.05" fill="#e6a4a9"/><rect x="91.49" y="174.00" width="13.61" height="2.05" fill="#e6a1a6"/><rect x="105.05" y="174.00" width="13.61" height="2.05" fill="#e8acb1"/><rect x="118.61" y="174.00" width="13.61" height="2.05" fill="#e2e1ee"/><rect x="132.18" y="174.00" width="13.61" height="2.05" fill="#c4c5e0"/><rect x="145.74" y="174.00" width="13.61" height="2.05" fill="#babcdb"/><rect x="50.80" y="176.00" width="13.61" height="2.05" fill="#faf8fa"/><rect x="64.36" y="176.00" width="13.61" height="2.05" fill="#dedeec"/><rect x="77.92" y="176.00" width="13.61" height="2.05" fill="#ebb9bd"/><rect x="91.49" y="176.00" width="13.61" height="2.05" fill="#f1d3d7"/><rect x="105.05" y="176.00" width="13.61" height="2.05" fill="#f0cfd2"/><rect x="118.61" y="176.00" width="13.61" height="2.05" fill="#ebeaf3"/><rect x="132.18" y="176.00" width="13.61" height="2.05" fill="#f0eff5"/><rect x="145.74" y="176.00" width="13.61" height="2.05" fill="#d2d2e7"/><rect x="50.80" y="178.00" width="13.61" height="1.05" fill="#efedf4"/><rect x="64.36" y="178.00" width="13.61" height="1.05" fill="#f4f2f7"/><rect x="77.92" y="178.00" width="13.61" height="1.05" fill="#edc1c5"/><rect x="91.49" y="178.00" width="13.61" height="1.05" fill="#ecbec2"/><rect x="105.05" y="178.00" width="13.61" height="1.05" fill="#eab4b8"/><rect x="118.61" y="178.00" width="13.61" height="1.05" fill="#989ccb"/><rect x="132.18" y="178.00" width="13.61" height="1.05" fill="#dbdbeb"/><rect x="145.74" y="178.00" width="13.61" height="1.05" fill="#b7b9da"/><rect x="50.80" y="179.00" width="13.61" height="1.55" fill="#e9e8f2"/><rect x="64.36" y="179.00" width="13.61" height="1.55" fill="#f4e0e2"/><rect x="77.92" y="179.00" width="13.61" height="1.55" fill="#ebb7bc"/><rect x="91.49" y="179.00" width="13.61" height="1.55" fill="#e9b1b6"/><rect x="105.05" y="179.00" width="13.61" height="1.55" fill="#e6a4a9"/><rect x="118.61" y="179.00" width="13.61" height="1.55" fill="#858bc2"/><rect x="132.18" y="179.00" width="13.61" height="1.55" fill="#c9cae3"/><rect x="145.74" y="179.00" width="13.61" height="1.55" fill="#b4b7d9"/><rect x="50.80" y="180.50" width="13.61" height="1.55" fill="#faf8fa"/><rect x="64.36" y="180.50" width="13.61" height="1.55" fill="#f7edef"/><rect x="77.92" y="180.50" width="13.61" height="1.55" fill="#efc9cd"/><rect x="91.49" y="180.50" width="13.61" height="1.55" fill="#f1d4d7"/><rect x="105.05" y="180.50" width="13.61" height="1.55" fill="#eec6ca"/><rect x="118.61" y="180.50" width="13.61" height="1.55" fill="#afb2d6"/><rect x="132.18" y="180.50" width="13.61" height="1.55" fill="#c4c5e0"/><rect x="145.74" y="180.50" width="13.61" height="1.55" fill="#c1c2df"/><rect x="50.80" y="182.00" width="13.61" height="2.05" fill="#e2e1ee"/><rect x="64.36" y="182.00" width="13.61" height="2.05" fill="#f6f4f8"/><rect x="77.92" y="182.00" width="13.61" height="2.05" fill="#f1d2d6"/><rect x="91.49" y="182.00" width="13.61" height="2.05" fill="#e9b0b4"/><rect x="105.05" y="182.00" width="13.61" height="2.05" fill="#edbfc3"/><rect x="118.61" y="182.00" width="13.61" height="2.05" fill="#a5a8d1"/><rect x="132.18" y="182.00" width="13.61" height="2.05" fill="#d2d2e7"/><rect x="145.74" y="182.00" width="13.61" height="2.05" fill="#b8bbdb"/><rect x="50.80" y="184.00" width="13.61" height="2.05" fill="#f6f5f8"/><rect x="64.36" y="184.00" width="13.61" height="2.05" fill="#f7eff1"/><rect x="77.92" y="184.00" width="13.61" height="2.05" fill="#eec5c9"/><rect x="91.49" y="184.00" width="13.61" height="2.05" fill="#f4e1e4"/><rect x="105.05" y="184.00" width="13.61" height="2.05" fill="#f3dde0"/><rect x="118.61" y="184.00" width="13.61" height="2.05" fill="#bcbedc"/><rect x="132.18" y="184.00" width="13.61" height="2.05" fill="#e3e2ef"/><rect x="145.74" y="184.00" width="13.61" height="2.05" fill="#b8badb"/><rect x="50.80" y="186.00" width="13.61" height="1.55" fill="#d7d7e9"/><rect x="64.36" y="186.00" width="13.61" height="1.55" fill="#f3dbde"/><rect x="77.92" y="186.00" width="13.61" height="1.55" fill="#e7a6ab"/><rect x="91.49" y="186.00" width="13.61" height="1.55" fill="#e8adb2"/><rect x="105.05" y="186.00" width="13.61" height="1.55" fill="#ebb9bd"/><rect x="118.61" y="186.00" width="13.61" height="1.55" fill="#a1a5d0"/><rect x="132.18" y="186.00" width="13.61" height="1.55" fill="#c5c7e1"/><rect x="145.74" y="186.00" width="13.61" height="1.55" fill="#9398c9"/><rect x="50.80" y="187.50" width="13.61" height="0.95" fill="#dfdfed"/><rect x="64.36" y="187.50" width="13.61" height="0.95" fill="#edc1c5"/><rect x="77.92" y="187.50" width="13.61" height="0.95" fill="#e49a9f"/><rect x="91.49" y="187.50" width="13.61" height="0.95" fill="#df848a"/><rect x="105.05" y="187.50" width="13.61" height="0.95" fill="#e18e93"/><rect x="118.61" y="187.50" width="13.61" height="0.95" fill="#7379ba"/><rect x="132.18" y="187.50" width="13.61" height="0.95" fill="#c1c3df"/><rect x="145.74" y="187.50" width="13.61" height="0.95" fill="#898ec4"/><rect x="50.80" y="188.40" width="13.61" height="1.55" fill="#eae9f2"/><rect x="64.36" y="188.40" width="13.61" height="1.55" fill="#efeef5"/><rect x="77.92" y="188.40" width="13.61" height="1.55" fill="#faf8fa"/><rect x="91.49" y="188.40" width="13.61" height="1.55" fill="#f8f0f2"/><rect x="105.05" y="188.40" width="13.61" height="1.55" fill="#a8abd3"/><rect x="118.61" y="188.40" width="13.61" height="1.55" fill="#eab4b8"/><rect x="132.18" y="188.40" width="13.61" height="1.55" fill="#edc2c6"/><rect x="145.74" y="188.40" width="13.61" height="1.55" fill="#ebb8bc"/><rect x="50.80" y="189.90" width="13.61" height="1.55" fill="#ecebf3"/><rect x="64.36" y="189.90" width="13.61" height="1.55" fill="#f0eff5"/><rect x="77.92" y="189.90" width="13.61" height="1.55" fill="#faf8fa"/><rect x="91.49" y="189.90" width="13.61" height="1.55" fill="#f8f3f5"/><rect x="105.05" y="189.90" width="13.61" height="1.55" fill="#9599ca"/><rect x="118.61" y="189.90" width="13.61" height="1.55" fill="#edc1c5"/><rect x="132.18" y="189.90" width="13.61" height="1.55" fill="#ebb7bb"/><rect x="145.74" y="189.90" width="13.61" height="1.55" fill="#e29398"/><rect x="50.80" y="191.40" width="13.61" height="1.05" fill="#d4d4e8"/><rect x="64.36" y="191.40" width="13.61" height="1.05" fill="#eae9f2"/><rect x="77.92" y="191.40" width="13.61" height="1.05" fill="#f3f1f6"/><rect x="91.49" y="191.40" width="13.61" height="1.05" fill="#e1e1ee"/><rect x="105.05" y="191.40" width="13.61" height="1.05" fill="#858bc2"/><rect x="118.61" y="191.40" width="13.61" height="1.05" fill="#e7a9ae"/><rect x="132.18" y="191.40" width="13.61" height="1.05" fill="#e6a1a6"/><rect x="145.74" y="191.40" width="13.61" height="1.05" fill="#e18e93"/><rect x="50.80" y="192.40" width="13.61" height="2.05" fill="#f5f4f8"/><rect x="64.36" y="192.40" width="13.61" height="2.05" fill="#faf8fa"/><rect x="77.92" y="192.40" width="13.61" height="2.05" fill="#faf8fa"/><rect x="91.49" y="192.40" width="13.61" height="2.05" fill="#f8f2f4"/><rect x="105.05" y="192.40" width="13.61" height="2.05" fill="#a1a4d0"/><rect x="118.61" y="192.40" width="13.61" height="2.05" fill="#ebb9bd"/><rect x="132.18" y="192.40" width="13.61" height="2.05" fill="#f0ced1"/><rect x="145.74" y="192.40" width="13.61" height="2.05" fill="#ebb9bd"/><rect x="50.80" y="194.40" width="13.61" height="1.65" fill="#ddddec"/><rect x="64.36" y="194.40" width="13.61" height="1.65" fill="#eae9f2"/><rect x="77.92" y="194.40" width="13.61" height="1.65" fill="#e8e7f1"/><rect x="91.49" y="194.40" width="13.61" height="1.65" fill="#f9f7f9"/><rect x="105.05" y="194.40" width="13.61" height="1.65" fill="#9297c9"/><rect x="118.61" y="194.40" width="13.61" height="1.65" fill="#eab2b7"/><rect x="132.18" y="194.40" width="13.61" height="1.65" fill="#e7a8ad"/><rect x="145.74" y="194.40" width="13.61" height="1.65" fill="#e5a0a5"/><rect x="50.80" y="196.00" width="13.61" height="1.55" fill="#d5d5e8"/><rect x="64.36" y="196.00" width="13.61" height="1.55" fill="#d7d7e9"/><rect x="77.92" y="196.00" width="13.61" height="1.55" fill="#b7b9da"/><rect x="91.49" y="196.00" width="13.61" height="1.55" fill="#ebeaf3"/><rect x="105.05" y="196.00" width="13.61" height="1.55" fill="#bec0dd"/><rect x="118.61" y="196.00" width="13.61" height="1.55" fill="#e8aaaf"/><rect x="132.18" y="196.00" width="13.61" height="1.55" fill="#df8288"/><rect x="145.74" y="196.00" width="13.61" height="1.55" fill="#df8289"/><rect x="50.80" y="197.50" width="13.61" height="1.05" fill="#d5d6e8"/><rect x="64.36" y="197.50" width="13.61" height="1.05" fill="#edecf4"/><rect x="77.92" y="197.50" width="13.61" height="1.05" fill="#a9acd3"/><rect x="91.49" y="197.50" width="13.61" height="1.05" fill="#e0e0ee"/><rect x="105.05" y="197.50" width="13.61" height="1.05" fill="#bec0dd"/><rect x="118.61" y="197.50" width="13.61" height="1.05" fill="#e4999e"/><rect x="132.18" y="197.50" width="13.61" height="1.05" fill="#e18d93"/><rect x="145.74" y="197.50" width="13.61" height="1.05" fill="#e7a7ac"/><rect x="50.80" y="198.50" width="13.61" height="1.05" fill="#cdcee4"/><rect x="64.36" y="198.50" width="13.61" height="1.05" fill="#e0dfed"/><rect x="77.92" y="198.50" width="13.61" height="1.05" fill="#d5d6e8"/><rect x="91.49" y="198.50" width="13.61" height="1.05" fill="#dcdceb"/><rect x="105.05" y="198.50" width="13.61" height="1.05" fill="#b8bada"/><rect x="118.61" y="198.50" width="13.61" height="1.05" fill="#e8acb0"/><rect x="132.18" y="198.50" width="13.61" height="1.05" fill="#e59fa4"/><rect x="145.74" y="198.50" width="13.61" height="1.05" fill="#e29197"/><rect x="50.80" y="199.50" width="13.61" height="2.05" fill="#e1e1ee"/><rect x="64.36" y="199.50" width="13.61" height="2.05" fill="#eae9f2"/><rect x="77.92" y="199.50" width="13.61" height="2.05" fill="#d7d7e9"/><rect x="91.49" y="199.50" width="13.61" height="2.05" fill="#f8f2f4"/><rect x="105.05" y="199.50" width="13.61" height="2.05" fill="#c8cae2"/><rect x="118.61" y="199.50" width="13.61" height="2.05" fill="#e8abb0"/><rect x="132.18" y="199.50" width="13.61" height="2.05" fill="#eab4b8"/><rect x="145.74" y="199.50" width="13.61" height="2.05" fill="#e6a4a9"/><rect x="50.80" y="201.50" width="13.61" height="2.55" fill="#e4e4ef"/><rect x="64.36" y="201.50" width="13.61" height="2.55" fill="#e6e5f0"/><rect x="77.92" y="201.50" width="13.61" height="2.55" fill="#d2d3e7"/><rect x="91.49" y="201.50" width="13.61" height="2.55" fill="#e3e2ef"/><rect x="105.05" y="201.50" width="13.61" height="2.55" fill="#bcbedc"/><rect x="118.61" y="201.50" width="13.61" height="2.55" fill="#e3979c"/><rect x="132.18" y="201.50" width="13.61" height="2.55" fill="#e7a8ad"/><rect x="145.74" y="201.50" width="13.61" height="2.55" fill="#e9aeb3"/><rect x="50.80" y="204.00" width="13.61" height="1.05" fill="#f2f0f6"/><rect x="64.36" y="204.00" width="13.61" height="1.05" fill="#faf8fa"/><rect x="77.92" y="204.00" width="13.61" height="1.05" fill="#f0eff5"/><rect x="91.49" y="204.00" width="13.61" height="1.05" fill="#f9f7f9"/><rect x="105.05" y="204.00" width="13.61" height="1.05" fill="#d8d9ea"/><rect x="118.61" y="204.00" width="13.61" height="1.05" fill="#ebb9be"/><rect x="132.18" y="204.00" width="13.61" height="1.05" fill="#edc3c7"/><rect x="145.74" y="204.00" width="13.61" height="1.05" fill="#eab6ba"/><rect x="50.80" y="205.00" width="13.61" height="2.05" fill="#d7d7e9"/><rect x="64.36" y="205.00" width="13.61" height="2.05" fill="#f0eef5"/><rect x="77.92" y="205.00" width="13.61" height="2.05" fill="#e4e3ef"/><rect x="91.49" y="205.00" width="13.61" height="2.05" fill="#f6eaed"/><rect x="105.05" y="205.00" width="13.61" height="2.05" fill="#d3d4e7"/><rect x="118.61" y="205.00" width="13.61" height="2.05" fill="#e9aeb3"/><rect x="132.18" y="205.00" width="13.61" height="2.05" fill="#e59ca1"/><rect x="145.74" y="205.00" width="13.61" height="2.05" fill="#e4999e"/><rect x="50.80" y="207.00" width="13.61" height="2.05" fill="#e3e2ef"/><rect x="64.36" y="207.00" width="13.61" height="2.05" fill="#dddcec"/><rect x="77.92" y="207.00" width="13.61" height="2.05" fill="#dbdbeb"/><rect x="91.49" y="207.00" width="13.61" height="2.05" fill="#f8f1f3"/><rect x="105.05" y="207.00" width="13.61" height="2.05" fill="#cbcce3"/><rect x="118.61" y="207.00" width="13.61" height="2.05" fill="#ebbabe"/><rect x="132.18" y="207.00" width="13.61" height="2.05" fill="#eab2b6"/><rect x="145.74" y="207.00" width="13.61" height="2.05" fill="#e7a9ae"/><rect x="50.80" y="209.00" width="13.61" height="2.55" fill="#edecf4"/><rect x="64.36" y="209.00" width="13.61" height="2.55" fill="#e8e7f1"/><rect x="77.92" y="209.00" width="13.61" height="2.55" fill="#d4d5e8"/><rect x="91.49" y="209.00" width="13.61" height="2.55" fill="#f0eef5"/><rect x="105.05" y="209.00" width="13.61" height="2.55" fill="#d0d1e6"/><rect x="118.61" y="209.00" width="13.61" height="2.55" fill="#e9b1b5"/><rect x="132.18" y="209.00" width="13.61" height="2.55" fill="#e6a4a9"/><rect x="145.74" y="209.00" width="13.61" height="2.55" fill="#eab2b7"/><rect x="50.80" y="211.50" width="13.61" height="1.55" fill="#e1e1ee"/><rect x="64.36" y="211.50" width="13.61" height="1.55" fill="#faf8fa"/><rect x="77.92" y="211.50" width="13.61" height="1.55" fill="#e2e2ef"/><rect x="91.49" y="211.50" width="13.61" height="1.55" fill="#f7eff1"/><rect x="105.05" y="211.50" width="13.61" height="1.55" fill="#dfdeed"/><rect x="118.61" y="211.50" width="13.61" height="1.55" fill="#efcbcf"/><rect x="132.18" y="211.50" width="13.61" height="1.55" fill="#ecbdc1"/><rect x="145.74" y="211.50" width="13.61" height="1.55" fill="#eab3b8"/><rect x="50.80" y="213.00" width="13.61" height="1.55" fill="#c4c6e0"/><rect x="64.36" y="213.00" width="13.61" height="1.55" fill="#d2d2e7"/><rect x="77.92" y="213.00" width="13.61" height="1.55" fill="#c9cae3"/><rect x="91.49" y="213.00" width="13.61" height="1.55" fill="#f1f0f5"/><rect x="105.05" y="213.00" width="13.61" height="1.55" fill="#bec0dd"/><rect x="118.61" y="213.00" width="13.61" height="1.55" fill="#e6a4a9"/><rect x="132.18" y="213.00" width="13.61" height="1.55" fill="#e59ca2"/><rect x="145.74" y="213.00" width="13.61" height="1.55" fill="#e49ba1"/><rect x="50.80" y="214.50" width="13.61" height="1.85" fill="#f0eff5"/><rect x="64.36" y="214.50" width="13.61" height="1.85" fill="#faf8fa"/><rect x="77.92" y="214.50" width="13.61" height="1.85" fill="#f0eef5"/><rect x="91.49" y="214.50" width="13.61" height="1.85" fill="#f6e9ec"/><rect x="105.05" y="214.50" width="13.61" height="1.85" fill="#d7d7e9"/><rect x="118.61" y="214.50" width="13.61" height="1.85" fill="#ebbabe"/><rect x="132.18" y="214.50" width="13.61" height="1.85" fill="#e8abaf"/><rect x="145.74" y="214.50" width="13.61" height="1.85" fill="#e9b1b6"/><rect x="50.80" y="216.30" width="13.61" height="1.05" fill="#dedeed"/><rect x="64.36" y="216.30" width="13.61" height="1.05" fill="#edecf4"/><rect x="77.92" y="216.30" width="13.61" height="1.05" fill="#c9cae3"/><rect x="91.49" y="216.30" width="13.61" height="1.05" fill="#b9bbdb"/><rect x="105.05" y="216.30" width="13.61" height="1.05" fill="#9a9ecc"/><rect x="118.61" y="216.30" width="13.61" height="1.05" fill="#faf8fa"/><rect x="132.18" y="216.30" width="13.61" height="1.05" fill="#faf8fa"/><rect x="145.74" y="216.30" width="13.61" height="1.05" fill="#faf8fa"/><rect x="50.80" y="217.30" width="13.61" height="1.05" fill="#eeedf4"/><rect x="64.36" y="217.30" width="13.61" height="1.05" fill="#f3f1f6"/><rect x="77.92" y="217.30" width="13.61" height="1.05" fill="#c7c8e2"/><rect x="91.49" y="217.30" width="13.61" height="1.05" fill="#b7b9da"/><rect x="105.05" y="217.30" width="13.61" height="1.05" fill="#959aca"/><rect x="118.61" y="217.30" width="13.61" height="1.05" fill="#faf8fa"/><rect x="132.18" y="217.30" width="13.61" height="1.05" fill="#f7ecef"/><rect x="145.74" y="217.30" width="13.61" height="1.05" fill="#faf8fa"/><rect x="50.80" y="218.30" width="13.61" height="2.55" fill="#f0cfd3"/><rect x="64.36" y="218.30" width="13.61" height="2.55" fill="#eec4c8"/><rect x="77.92" y="218.30" width="13.61" height="2.55" fill="#b5b7d9"/><rect x="91.49" y="218.30" width="13.61" height="2.55" fill="#9da0ce"/><rect x="105.05" y="218.30" width="13.61" height="2.55" fill="#8186c0"/><rect x="118.61" y="218.30" width="13.61" height="2.55" fill="#ecbec2"/><rect x="132.18" y="218.30" width="13.61" height="2.55" fill="#ebbabe"/><rect x="145.74" y="218.30" width="13.61" height="2.55" fill="#e9b2b6"/><rect x="50.80" y="220.80" width="13.61" height="2.05" fill="#e7e7f1"/><rect x="64.36" y="220.80" width="13.61" height="2.05" fill="#e1e0ee"/><rect x="77.92" y="220.80" width="13.61" height="2.05" fill="#b2b4d8"/><rect x="91.49" y="220.80" width="13.61" height="2.05" fill="#c5c6e1"/><rect x="105.05" y="220.80" width="13.61" height="2.05" fill="#9fa2ce"/><rect x="118.61" y="220.80" width="13.61" height="2.05" fill="#faf8fa"/><rect x="132.18" y="220.80" width="13.61" height="2.05" fill="#faf8fa"/><rect x="145.74" y="220.80" width="13.61" height="2.05" fill="#f7ecef"/><rect x="50.80" y="222.80" width="13.61" height="1.55" fill="#f2d6d9"/><rect x="64.36" y="222.80" width="13.61" height="1.55" fill="#f0d0d3"/><rect x="77.92" y="222.80" width="13.61" height="1.55" fill="#adb0d5"/><rect x="91.49" y="222.80" width="13.61" height="1.55" fill="#a7aad2"/><rect x="105.05" y="222.80" width="13.61" height="1.55" fill="#6e75b8"/><rect x="118.61" y="222.80" width="13.61" height="1.55" fill="#eec8cb"/><rect x="132.18" y="222.80" width="13.61" height="1.55" fill="#ebbabf"/><rect x="145.74" y="222.80" width="13.61" height="1.55" fill="#f0ced2"/><rect x="50.80" y="224.30" width="13.61" height="1.55" fill="#f8f2f5"/><rect x="64.36" y="224.30" width="13.61" height="1.55" fill="#f0ced2"/><rect x="77.92" y="224.30" width="13.61" height="1.55" fill="#b5b8d9"/><rect x="91.49" y="224.30" width="13.61" height="1.55" fill="#9599ca"/><rect x="105.05" y="224.30" width="13.61" height="1.55" fill="#7e84bf"/><rect x="118.61" y="224.30" width="13.61" height="1.55" fill="#f6e7e9"/><rect x="132.18" y="224.30" width="13.61" height="1.55" fill="#f5e5e7"/><rect x="145.74" y="224.30" width="13.61" height="1.55" fill="#f1d2d5"/><rect x="50.80" y="225.80" width="13.61" height="1.05" fill="#f8f0f2"/><rect x="64.36" y="225.80" width="13.61" height="1.05" fill="#f6e8ea"/><rect x="77.92" y="225.80" width="13.61" height="1.05" fill="#8f94c7"/><rect x="91.49" y="225.80" width="13.61" height="1.05" fill="#a6a9d2"/><rect x="105.05" y="225.80" width="13.61" height="1.05" fill="#8388c1"/><rect x="118.61" y="225.80" width="13.61" height="1.05" fill="#f5e2e5"/><rect x="132.18" y="225.80" width="13.61" height="1.05" fill="#f4dee1"/><rect x="145.74" y="225.80" width="13.61" height="1.05" fill="#f1d4d7"/><rect x="50.80" y="226.80" width="13.61" height="1.05" fill="#f7ebee"/><rect x="64.36" y="226.80" width="13.61" height="1.05" fill="#f7eef0"/><rect x="77.92" y="226.80" width="13.61" height="1.05" fill="#c0c1de"/><rect x="91.49" y="226.80" width="13.61" height="1.05" fill="#d5d6e8"/><rect x="105.05" y="226.80" width="13.61" height="1.05" fill="#8c91c6"/><rect x="118.61" y="226.80" width="13.61" height="1.05" fill="#f9f6f8"/><rect x="132.18" y="226.80" width="13.61" height="1.05" fill="#f5e2e5"/><rect x="145.74" y="226.80" width="13.61" height="1.05" fill="#f4e0e3"/><rect x="50.80" y="227.80" width="13.61" height="1.05" fill="#e2e1ee"/><rect x="64.36" y="227.80" width="13.61" height="1.05" fill="#f7eef1"/><rect x="77.92" y="227.80" width="13.61" height="1.05" fill="#babcdb"/><rect x="91.49" y="227.80" width="13.61" height="1.05" fill="#b1b4d7"/><rect x="105.05" y="227.80" width="13.61" height="1.05" fill="#a1a5d0"/><rect x="118.61" y="227.80" width="13.61" height="1.05" fill="#f7ecef"/><rect x="132.18" y="227.80" width="13.61" height="1.05" fill="#faf8fa"/><rect x="145.74" y="227.80" width="13.61" height="1.05" fill="#f3dbde"/><rect x="50.80" y="228.80" width="13.61" height="2.55" fill="#f3dbde"/><rect x="64.36" y="228.80" width="13.61" height="2.55" fill="#f3dde0"/><rect x="77.92" y="228.80" width="13.61" height="2.55" fill="#9da1ce"/><rect x="91.49" y="228.80" width="13.61" height="2.55" fill="#a8abd3"/><rect x="105.05" y="228.80" width="13.61" height="2.55" fill="#858ac2"/><rect x="118.61" y="228.80" width="13.61" height="2.55" fill="#f8eff2"/><rect x="132.18" y="228.80" width="13.61" height="2.55" fill="#f6e8ea"/><rect x="145.74" y="228.80" width="13.61" height="2.55" fill="#f6eaec"/><rect x="50.80" y="231.30" width="13.61" height="0.75" fill="#f5f3f7"/><rect x="64.36" y="231.30" width="13.61" height="0.75" fill="#f8f6f9"/><rect x="77.92" y="231.30" width="13.61" height="0.75" fill="#a3a7d1"/><rect x="91.49" y="231.30" width="13.61" height="0.75" fill="#bcbedc"/><rect x="105.05" y="231.30" width="13.61" height="0.75" fill="#9b9fcd"/><rect x="118.61" y="231.30" width="13.61" height="0.75" fill="#faf8fa"/><rect x="132.18" y="231.30" width="13.61" height="0.75" fill="#f6e7ea"/><rect x="145.74" y="231.30" width="13.61" height="0.75" fill="#f8f0f2"/><rect x="50.80" y="232.00" width="13.61" height="2.05" fill="#f5e3e6"/><rect x="64.36" y="232.00" width="13.61" height="2.05" fill="#f0eff5"/><rect x="77.92" y="232.00" width="13.61" height="2.05" fill="#a6a9d2"/><rect x="91.49" y="232.00" width="13.61" height="2.05" fill="#bbbddc"/><rect x="105.05" y="232.00" width="13.61" height="2.05" fill="#bfc0de"/><rect x="118.61" y="232.00" width="13.61" height="2.05" fill="#f3dadd"/><rect x="132.18" y="232.00" width="13.61" height="2.05" fill="#f6eaed"/><rect x="145.74" y="232.00" width="13.61" height="2.05" fill="#f6e8ea"/><rect x="50.80" y="234.00" width="13.61" height="1.05" fill="#f9f5f7"/><rect x="64.36" y="234.00" width="13.61" height="1.05" fill="#e5e5f0"/><rect x="77.92" y="234.00" width="13.61" height="1.05" fill="#bcbedc"/><rect x="91.49" y="234.00" width="13.61" height="1.05" fill="#d4d4e8"/><rect x="105.05" y="234.00" width="13.61" height="1.05" fill="#cdcee4"/><rect x="118.61" y="234.00" width="13.61" height="1.05" fill="#faf8fa"/><rect x="132.18" y="234.00" width="13.61" height="1.05" fill="#faf8fa"/><rect x="145.74" y="234.00" width="13.61" height="1.05" fill="#f7ecee"/><rect x="50.80" y="235.00" width="13.61" height="1.05" fill="#f5e4e7"/><rect x="64.36" y="235.00" width="13.61" height="1.05" fill="#f8f3f5"/><rect x="77.92" y="235.00" width="13.61" height="1.05" fill="#999dcc"/><rect x="91.49" y="235.00" width="13.61" height="1.05" fill="#c1c3df"/><rect x="105.05" y="235.00" width="13.61" height="1.05" fill="#c6c7e1"/><rect x="118.61" y="235.00" width="13.61" height="1.05" fill="#f4dee1"/><rect x="132.18" y="235.00" width="13.61" height="1.05" fill="#f9f6f8"/><rect x="145.74" y="235.00" width="13.61" height="1.05" fill="#f0cdd1"/><rect x="50.80" y="236.00" width="13.61" height="2.05" fill="#f1eff5"/><rect x="64.36" y="236.00" width="13.61" height="2.05" fill="#f8f2f4"/><rect x="77.92" y="236.00" width="13.61" height="2.05" fill="#9ea2ce"/><rect x="91.49" y="236.00" width="13.61" height="2.05" fill="#cbcce3"/><rect x="105.05" y="236.00" width="13.61" height="2.05" fill="#d1d1e6"/><rect x="118.61" y="236.00" width="13.61" height="2.05" fill="#f5e3e6"/><rect x="132.18" y="236.00" width="13.61" height="2.05" fill="#faf8fa"/><rect x="145.74" y="236.00" width="13.61" height="2.05" fill="#faf8fa"/><rect x="50.80" y="238.00" width="13.61" height="1.05" fill="#f9f7f9"/><rect x="64.36" y="238.00" width="13.61" height="1.05" fill="#f9f7f9"/><rect x="77.92" y="238.00" width="13.61" height="1.05" fill="#a1a4cf"/><rect x="91.49" y="238.00" width="13.61" height="1.05" fill="#c4c5e0"/><rect x="105.05" y="238.00" width="13.61" height="1.05" fill="#c1c2df"/><rect x="118.61" y="238.00" width="13.61" height="1.05" fill="#f7ecef"/><rect x="132.18" y="238.00" width="13.61" height="1.05" fill="#f5e2e5"/><rect x="145.74" y="238.00" width="13.61" height="1.05" fill="#f4e0e3"/><rect x="50.80" y="239.00" width="13.61" height="1.05" fill="#f7edf0"/><rect x="64.36" y="239.00" width="13.61" height="1.05" fill="#f0eff5"/><rect x="77.92" y="239.00" width="13.61" height="1.05" fill="#b2b4d8"/><rect x="91.49" y="239.00" width="13.61" height="1.05" fill="#d7d7e9"/><rect x="105.05" y="239.00" width="13.61" height="1.05" fill="#c5c6e1"/><rect x="118.61" y="239.00" width="13.61" height="1.05" fill="#f7edf0"/><rect x="132.18" y="239.00" width="13.61" height="1.05" fill="#f8f2f4"/><rect x="145.74" y="239.00" width="13.61" height="1.05" fill="#faf8fa"/><rect x="50.80" y="240.00" width="13.61" height="1.05" fill="#e8e7f1"/><rect x="64.36" y="240.00" width="13.61" height="1.05" fill="#f6f4f8"/><rect x="77.92" y="240.00" width="13.61" height="1.05" fill="#dcdcec"/><rect x="91.49" y="240.00" width="13.61" height="1.05" fill="#e2e2ee"/><rect x="105.05" y="240.00" width="13.61" height="1.05" fill="#8d92c6"/><rect x="118.61" y="240.00" width="13.61" height="1.05" fill="#faf8fa"/><rect x="132.18" y="240.00" width="13.61" height="1.05" fill="#f8eff1"/><rect x="145.74" y="240.00" width="13.61" height="1.05" fill="#f0cdd1"/><rect x="50.80" y="241.00" width="13.61" height="2.05" fill="#f2f1f6"/><rect x="64.36" y="241.00" width="13.61" height="2.05" fill="#dedeec"/><rect x="77.92" y="241.00" width="13.61" height="2.05" fill="#cecfe5"/><rect x="91.49" y="241.00" width="13.61" height="2.05" fill="#c9cae3"/><rect x="105.05" y="241.00" width="13.61" height="2.05" fill="#979bcb"/><rect x="118.61" y="241.00" width="13.61" height="2.05" fill="#faf8fa"/><rect x="132.18" y="241.00" width="13.61" height="2.05" fill="#f3dadd"/><rect x="145.74" y="241.00" width="13.61" height="2.05" fill="#f0cdd0"/><rect x="50.80" y="243.00" width="13.61" height="1.55" fill="#f6e9eb"/><rect x="64.36" y="243.00" width="13.61" height="1.55" fill="#f2f0f6"/><rect x="77.92" y="243.00" width="13.61" height="1.55" fill="#c1c2df"/><rect x="91.49" y="243.00" width="13.61" height="1.55" fill="#c3c4e0"/><rect x="105.05" y="243.00" width="13.61" height="1.55" fill="#9397c9"/><rect x="118.61" y="243.00" width="13.61" height="1.55" fill="#f2d6d9"/><rect x="132.18" y="243.00" width="13.61" height="1.55" fill="#f8f0f2"/><rect x="145.74" y="243.00" width="13.61" height="1.55" fill="#e9b1b6"/><rect x="50.80" y="244.50" width="13.61" height="1.05" fill="#f1d3d6"/><rect x="64.36" y="244.50" width="13.61" height="1.05" fill="#f4e1e4"/><rect x="77.92" y="244.50" width="13.61" height="1.05" fill="#b9bbdb"/><rect x="91.49" y="244.50" width="13.61" height="1.05" fill="#b9bbdb"/><rect x="105.05" y="244.50" width="13.61" height="1.05" fill="#8287c1"/><rect x="118.61" y="244.50" width="13.61" height="1.05" fill="#f4e0e3"/><rect x="132.18" y="244.50" width="13.61" height="1.05" fill="#efcace"/><rect x="145.74" y="244.50" width="13.61" height="1.05" fill="#e6a2a7"/><rect x="50.80" y="245.50" width="13.61" height="2.05" fill="#f1d2d6"/><rect x="64.36" y="245.50" width="13.61" height="2.05" fill="#efc9cd"/><rect x="77.92" y="245.50" width="13.61" height="2.05" fill="#b2b5d8"/><rect x="91.49" y="245.50" width="13.61" height="2.05" fill="#a9add4"/><rect x="105.05" y="245.50" width="13.61" height="2.05" fill="#7379ba"/><rect x="118.61" y="245.50" width="13.61" height="2.05" fill="#f5e3e6"/><rect x="132.18" y="245.50" width="13.61" height="2.05" fill="#f3d9dc"/><rect x="145.74" y="245.50" width="13.61" height="2.05" fill="#e8aaaf"/><rect x="50.80" y="247.50" width="13.61" height="2.55" fill="#f5e2e5"/><rect x="64.36" y="247.50" width="13.61" height="2.55" fill="#f5e3e6"/><rect x="77.92" y="247.50" width="13.61" height="2.55" fill="#b1b4d7"/><rect x="91.49" y="247.50" width="13.61" height="2.55" fill="#b4b6d8"/><rect x="105.05" y="247.50" width="13.61" height="2.55" fill="#9095c7"/><rect x="118.61" y="247.50" width="13.61" height="2.55" fill="#f5e2e5"/><rect x="132.18" y="247.50" width="13.61" height="2.55" fill="#f5e4e7"/><rect x="145.74" y="247.50" width="13.61" height="2.55" fill="#eec7cb"/><rect x="50.80" y="250.00" width="13.61" height="1.55" fill="#f0cdd1"/><rect x="64.36" y="250.00" width="13.61" height="1.55" fill="#f2d6d9"/><rect x="77.92" y="250.00" width="13.61" height="1.55" fill="#d7d7e9"/><rect x="91.49" y="250.00" width="13.61" height="1.55" fill="#e9e8f2"/><rect x="105.05" y="250.00" width="13.61" height="1.55" fill="#cacbe3"/><rect x="118.61" y="250.00" width="13.61" height="1.55" fill="#faf8fa"/><rect x="132.18" y="250.00" width="13.61" height="1.55" fill="#faf8fa"/><rect x="145.74" y="250.00" width="13.61" height="1.55" fill="#ebeaf3"/><rect x="50.80" y="251.50" width="13.61" height="1.55" fill="#e3979c"/><rect x="64.36" y="251.50" width="13.61" height="1.55" fill="#ebb6bb"/><rect x="77.92" y="251.50" width="13.61" height="1.55" fill="#c9cae2"/><rect x="91.49" y="251.50" width="13.61" height="1.55" fill="#bcbedc"/><rect x="105.05" y="251.50" width="13.61" height="1.55" fill="#bbbddc"/><rect x="118.61" y="251.50" width="13.61" height="1.55" fill="#f6e9ec"/><rect x="132.18" y="251.50" width="13.61" height="1.55" fill="#f8f2f5"/><rect x="145.74" y="251.50" width="13.61" height="1.55" fill="#f2f1f6"/><rect x="50.80" y="253.00" width="13.61" height="2.55" fill="#eab5b9"/><rect x="64.36" y="253.00" width="13.61" height="2.55" fill="#f3dcdf"/><rect x="77.92" y="253.00" width="13.61" height="2.55" fill="#e5e5f0"/><rect x="91.49" y="253.00" width="13.61" height="2.55" fill="#e9e9f2"/><rect x="105.05" y="253.00" width="13.61" height="2.55" fill="#cfd0e5"/><rect x="118.61" y="253.00" width="13.61" height="2.55" fill="#faf8fa"/><rect x="132.18" y="253.00" width="13.61" height="2.55" fill="#faf8fa"/><rect x="145.74" y="253.00" width="13.61" height="2.55" fill="#e1e0ee"/><rect x="50.80" y="255.50" width="13.61" height="2.05" fill="#df848b"/><rect x="64.36" y="255.50" width="13.61" height="2.05" fill="#e6a3a8"/><rect x="77.92" y="255.50" width="13.61" height="2.05" fill="#acafd5"/><rect x="91.49" y="255.50" width="13.61" height="2.05" fill="#a7aad2"/><rect x="105.05" y="255.50" width="13.61" height="2.05" fill="#9da1ce"/><rect x="118.61" y="255.50" width="13.61" height="2.05" fill="#f1d3d7"/><rect x="132.18" y="255.50" width="13.61" height="2.05" fill="#f6e7e9"/><rect x="145.74" y="255.50" width="13.61" height="2.05" fill="#f9f7f9"/><rect x="50.80" y="257.50" width="13.61" height="1.55" fill="#de8188"/><rect x="64.36" y="257.50" width="13.61" height="1.55" fill="#e08a90"/><rect x="77.92" y="257.50" width="13.61" height="1.55" fill="#9297c9"/><rect x="91.49" y="257.50" width="13.61" height="1.55" fill="#b0b3d7"/><rect x="105.05" y="257.50" width="13.61" height="1.55" fill="#989ccb"/><rect x="118.61" y="257.50" width="13.61" height="1.55" fill="#f6e8ea"/><rect x="132.18" y="257.50" width="13.61" height="1.55" fill="#f3dadd"/><rect x="145.74" y="257.50" width="13.61" height="1.55" fill="#f4e0e2"/><rect x="50.80" y="259.00" width="13.61" height="2.55" fill="#e7a6ab"/><rect x="64.36" y="259.00" width="13.61" height="2.55" fill="#eab3b8"/><rect x="77.92" y="259.00" width="13.61" height="2.55" fill="#cdcde4"/><rect x="91.49" y="259.00" width="13.61" height="2.55" fill="#c9cae3"/><rect x="105.05" y="259.00" width="13.61" height="2.55" fill="#aaadd4"/><rect x="118.61" y="259.00" width="13.61" height="2.55" fill="#f9f5f7"/><rect x="132.18" y="259.00" width="13.61" height="2.55" fill="#f6e8eb"/><rect x="145.74" y="259.00" width="13.61" height="2.55" fill="#f9f7f9"/><rect x="50.80" y="261.50" width="13.61" height="1.55" fill="#eab5b9"/><rect x="64.36" y="261.50" width="13.61" height="1.55" fill="#f2d7db"/><rect x="77.92" y="261.50" width="13.61" height="1.55" fill="#e9e8f2"/><rect x="91.49" y="261.50" width="13.61" height="1.55" fill="#f7f5f8"/><rect x="105.05" y="261.50" width="13.61" height="1.55" fill="#e0e0ee"/><rect x="118.61" y="261.50" width="13.61" height="1.55" fill="#faf8fa"/><rect x="132.18" y="261.50" width="13.61" height="1.55" fill="#faf8fa"/><rect x="145.74" y="261.50" width="13.61" height="1.55" fill="#cbcce3"/><rect x="50.80" y="263.00" width="13.61" height="1.55" fill="#e7a7ac"/><rect x="64.36" y="263.00" width="13.61" height="1.55" fill="#e8acb1"/><rect x="77.92" y="263.00" width="13.61" height="1.55" fill="#aeb0d6"/><rect x="91.49" y="263.00" width="13.61" height="1.55" fill="#c9cae3"/><rect x="105.05" y="263.00" width="13.61" height="1.55" fill="#a2a5d0"/><rect x="118.61" y="263.00" width="13.61" height="1.55" fill="#f2d6d9"/><rect x="132.18" y="263.00" width="13.61" height="1.55" fill="#f7ebed"/><rect x="145.74" y="263.00" width="13.61" height="1.55" fill="#f6f4f8"/><rect x="50.80" y="264.50" width="13.61" height="1.55" fill="#f1d2d5"/><rect x="64.36" y="264.50" width="13.61" height="1.55" fill="#e9aeb3"/><rect x="77.92" y="264.50" width="13.61" height="1.55" fill="#ddddec"/><rect x="91.49" y="264.50" width="13.61" height="1.55" fill="#efedf4"/><rect x="105.05" y="264.50" width="13.61" height="1.55" fill="#cbcce3"/><rect x="118.61" y="264.50" width="13.61" height="1.55" fill="#faf8fa"/><rect x="132.18" y="264.50" width="13.61" height="1.55" fill="#faf8fa"/><rect x="145.74" y="264.50" width="13.61" height="1.55" fill="#e4e4f0"/><rect x="50.80" y="266.00" width="13.61" height="2.05" fill="#f5e6e9"/><rect x="64.36" y="266.00" width="13.61" height="2.05" fill="#faf8fa"/><rect x="77.92" y="266.00" width="13.61" height="2.05" fill="#b7b9da"/><rect x="91.49" y="266.00" width="13.61" height="2.05" fill="#bfc0de"/><rect x="105.05" y="266.00" width="13.61" height="2.05" fill="#c2c4df"/><rect x="118.61" y="266.00" width="13.61" height="2.05" fill="#faf8fa"/><rect x="132.18" y="266.00" width="13.61" height="2.05" fill="#faf8fa"/><rect x="145.74" y="266.00" width="13.61" height="2.05" fill="#e9e8f2"/><rect x="50.80" y="268.00" width="13.61" height="1.05" fill="#edc1c5"/><rect x="64.36" y="268.00" width="13.61" height="1.05" fill="#f7eef0"/><rect x="77.92" y="268.00" width="13.61" height="1.05" fill="#8b90c5"/><rect x="91.49" y="268.00" width="13.61" height="1.05" fill="#9a9ecc"/><rect x="105.05" y="268.00" width="13.61" height="1.05" fill="#acafd5"/><rect x="118.61" y="268.00" width="13.61" height="1.05" fill="#f7eef0"/><rect x="132.18" y="268.00" width="13.61" height="1.05" fill="#f3d9dc"/><rect x="145.74" y="268.00" width="13.61" height="1.05" fill="#f4dfe2"/><rect x="50.80" y="269.00" width="13.61" height="1.05" fill="#f8f3f5"/><rect x="64.36" y="269.00" width="13.61" height="1.05" fill="#f7ebee"/><rect x="77.92" y="269.00" width="13.61" height="1.05" fill="#a6a9d2"/><rect x="91.49" y="269.00" width="13.61" height="1.05" fill="#bbbddc"/><rect x="105.05" y="269.00" width="13.61" height="1.05" fill="#d0d1e6"/><rect x="118.61" y="269.00" width="13.61" height="1.05" fill="#faf8fa"/><rect x="132.18" y="269.00" width="13.61" height="1.05" fill="#f8f1f4"/><rect x="145.74" y="269.00" width="13.61" height="1.05" fill="#f6e9eb"/><rect x="50.80" y="270.00" width="13.61" height="1.55" fill="#faf8fa"/><rect x="64.36" y="270.00" width="13.61" height="1.55" fill="#faf8fa"/><rect x="77.92" y="270.00" width="13.61" height="1.55" fill="#b2b4d8"/><rect x="91.49" y="270.00" width="13.61" height="1.55" fill="#c3c4e0"/><rect x="105.05" y="270.00" width="13.61" height="1.55" fill="#d3d4e7"/><rect x="118.61" y="270.00" width="13.61" height="1.55" fill="#faf8fa"/><rect x="132.18" y="270.00" width="13.61" height="1.55" fill="#faf8fa"/><rect x="145.74" y="270.00" width="13.61" height="1.55" fill="#e4e3ef"/><rect x="50.80" y="271.50" width="13.61" height="2.55" fill="#faf8fa"/><rect x="64.36" y="271.50" width="13.61" height="2.55" fill="#f8f2f4"/><rect x="77.92" y="271.50" width="13.61" height="2.55" fill="#969aca"/><rect x="91.49" y="271.50" width="13.61" height="2.55" fill="#c4c5e0"/><rect x="105.05" y="271.50" width="13.61" height="2.55" fill="#b3b6d8"/><rect x="118.61" y="271.50" width="13.61" height="2.55" fill="#faf8fa"/><rect x="132.18" y="271.50" width="13.61" height="2.55" fill="#f7eef1"/><rect x="145.74" y="271.50" width="13.61" height="2.55" fill="#f8f2f5"/><rect x="50.80" y="274.00" width="13.61" height="1.05" fill="#f7ebee"/><rect x="64.36" y="274.00" width="13.61" height="1.05" fill="#f1d3d6"/><rect x="77.92" y="274.00" width="13.61" height="1.05" fill="#888dc4"/><rect x="91.49" y="274.00" width="13.61" height="1.05" fill="#999dcc"/><rect x="105.05" y="274.00" width="13.61" height="1.05" fill="#adb0d5"/><rect x="118.61" y="274.00" width="13.61" height="1.05" fill="#f0cfd3"/><rect x="132.18" y="274.00" width="13.61" height="1.05" fill="#f3dde0"/><rect x="145.74" y="274.00" width="13.61" height="1.05" fill="#f6e8eb"/><rect x="50.80" y="275.00" width="13.61" height="2.05" fill="#faf8fa"/><rect x="64.36" y="275.00" width="13.61" height="2.05" fill="#faf8fa"/><rect x="77.92" y="275.00" width="13.61" height="2.05" fill="#9fa2ce"/><rect x="91.49" y="275.00" width="13.61" height="2.05" fill="#c0c2de"/><rect x="105.05" y="275.00" width="13.61" height="2.05" fill="#d4d5e8"/><rect x="118.61" y="275.00" width="13.61" height="2.05" fill="#faf8fa"/><rect x="132.18" y="275.00" width="13.61" height="2.05" fill="#faf8fa"/><rect x="145.74" y="275.00" width="13.61" height="2.05" fill="#dcdceb"/><rect x="50.80" y="277.00" width="13.61" height="1.05" fill="#f9f4f6"/><rect x="64.36" y="277.00" width="13.61" height="1.05" fill="#faf8fa"/><rect x="77.92" y="277.00" width="13.61" height="1.05" fill="#abaed4"/><rect x="91.49" y="277.00" width="13.61" height="1.05" fill="#9b9fcd"/><rect x="105.05" y="277.00" width="13.61" height="1.05" fill="#cbcce3"/><rect x="118.61" y="277.00" width="13.61" height="1.05" fill="#faf8fa"/><rect x="132.18" y="277.00" width="13.61" height="1.05" fill="#faf8fa"/><rect x="145.74" y="277.00" width="13.61" height="1.05" fill="#eceaf3"/><rect x="50.80" y="278.00" width="13.61" height="1.55" fill="#ecbdc1"/><rect x="64.36" y="278.00" width="13.61" height="1.55" fill="#f0d0d4"/><rect x="77.92" y="278.00" width="13.61" height="1.55" fill="#777dbc"/><rect x="91.49" y="278.00" width="13.61" height="1.55" fill="#9ca0cd"/><rect x="105.05" y="278.00" width="13.61" height="1.55" fill="#9095c8"/><rect x="118.61" y="278.00" width="13.61" height="1.55" fill="#f4e0e3"/><rect x="132.18" y="278.00" width="13.61" height="1.55" fill="#efcccf"/><rect x="145.74" y="278.00" width="13.61" height="1.55" fill="#f1d1d5"/><rect x="50.80" y="279.50" width="13.61" height="0.85" fill="#f9f5f7"/><rect x="64.36" y="279.50" width="13.61" height="0.85" fill="#f7eef1"/><rect x="77.92" y="279.50" width="13.61" height="0.85" fill="#b0b3d7"/><rect x="91.49" y="279.50" width="13.61" height="0.85" fill="#c1c2df"/><rect x="105.05" y="279.50" width="13.61" height="0.85" fill="#b9bbdb"/><rect x="118.61" y="279.50" width="13.61" height="0.85" fill="#f9f3f5"/><rect x="132.18" y="279.50" width="13.61" height="0.85" fill="#faf8fa"/><rect x="145.74" y="279.50" width="13.61" height="0.85" fill="#f4e1e4"/></g>
<rect x="50.8" y="36.3" width="108.50000000000001" height="244.0" fill="none" stroke="#111" stroke-width="1.1"/>
<line x1="50.80" y1="280.3" x2="50.80" y2="283.3" stroke="#111" stroke-width="1"/>
<line x1="64.36" y1="280.3" x2="64.36" y2="283.3" stroke="#111" stroke-width="1"/>
<line x1="77.92" y1="280.3" x2="77.92" y2="283.3" stroke="#111" stroke-width="1"/>
<line x1="91.49" y1="280.3" x2="91.49" y2="283.3" stroke="#111" stroke-width="1"/>
<line x1="105.05" y1="280.3" x2="105.05" y2="283.3" stroke="#111" stroke-width="1"/>
<line x1="118.61" y1="280.3" x2="118.61" y2="283.3" stroke="#111" stroke-width="1"/>
<line x1="132.18" y1="280.3" x2="132.18" y2="283.3" stroke="#111" stroke-width="1"/>
<line x1="145.74" y1="280.3" x2="145.74" y2="283.3" stroke="#111" stroke-width="1"/>
<line x1="159.30" y1="280.3" x2="159.30" y2="283.3" stroke="#111" stroke-width="1"/>
<line x1="43.5" y1="35.5" x2="165" y2="35.5" stroke="#000" stroke-width="1.8" stroke-dasharray="5.4 5.3" fill="none" stroke-dashoffset="-9.5"/>
<line x1="43.5" y1="51.1" x2="165" y2="51.1" stroke="#000" stroke-width="1.8" stroke-dasharray="5.4 5.3" fill="none" stroke-dashoffset="-9.5"/>
<line x1="43.5" y1="94.5" x2="165" y2="94.5" stroke="#000" stroke-width="1.8" stroke-dasharray="5.4 5.3" fill="none" stroke-dashoffset="-9.5"/>
<line x1="43.5" y1="111" x2="165" y2="111" stroke="#000" stroke-width="1.8" stroke-dasharray="5.4 5.3" fill="none" stroke-dashoffset="-9.5"/>
<line x1="43.5" y1="188.4" x2="165" y2="188.4" stroke="#000" stroke-width="1.8" stroke-dasharray="5.4 5.3" fill="none" stroke-dashoffset="-9.5"/>
<line x1="43.5" y1="216.3" x2="165" y2="216.3" stroke="#000" stroke-width="1.8" stroke-dasharray="5.4 5.3" fill="none" stroke-dashoffset="-9.5"/>
<line x1="44.9" y1="34.5" x2="44.9" y2="95.5" stroke="#000" stroke-width="1.8" stroke-dasharray="5.4 5.3" fill="none" stroke-dashoffset="7.2"/>
<line x1="44.9" y1="110" x2="44.9" y2="217.3" stroke="#000" stroke-width="1.8" stroke-dasharray="5.4 5.3" fill="none" stroke-dashoffset="1.9"/>
<line x1="164.0" y1="34.5" x2="164.0" y2="95.5" stroke="#000" stroke-width="1.8" stroke-dasharray="5.4 5.3" fill="none" stroke-dashoffset="7.2"/>
<line x1="164.0" y1="110" x2="164.0" y2="217.3" stroke="#000" stroke-width="1.8" stroke-dasharray="5.4 5.3" fill="none" stroke-dashoffset="1.9"/>
<text x="104.80" y="32.10" font-size="7.63" text-anchor="middle" font-weight="normal" fill="#000" >Differential Genes Heatmap</text>
<text x="30.90" y="41.00" font-size="7.5" text-anchor="middle" font-weight="normal" fill="#000" >Cluster</text>
<text x="30.90" y="49.60" font-size="7.5" text-anchor="middle" font-weight="normal" fill="#000" >A</text>
<text x="30.90" y="73.30" font-size="7.5" text-anchor="middle" font-weight="normal" fill="#000" >Cluster</text>
<text x="30.90" y="82.00" font-size="7.5" text-anchor="middle" font-weight="normal" fill="#000" >B</text>
<text x="30.90" y="149.40" font-size="7.5" text-anchor="middle" font-weight="normal" fill="#000" >Cluster</text>
<text x="30.90" y="158.00" font-size="7.5" text-anchor="middle" font-weight="normal" fill="#000" >C</text>
<text x="30.90" y="200.10" font-size="7.5" text-anchor="middle" font-weight="normal" fill="#000" >Cluster</text>
<text x="30.90" y="209.00" font-size="7.5" text-anchor="middle" font-weight="normal" fill="#000" >D</text>
<text transform="translate(60.48,287.00) rotate(-90)" font-size="7.9" text-anchor="end" fill="#000" >Control 1</text>
<text transform="translate(74.04,287.00) rotate(-90)" font-size="7.9" text-anchor="end" fill="#000" >Control 2</text>
<text transform="translate(87.61,287.00) rotate(-90)" font-size="7.9" text-anchor="end" fill="#000" >EP 1</text>
<text transform="translate(101.17,287.00) rotate(-90)" font-size="7.9" text-anchor="end" fill="#000" >EP 2</text>
<text transform="translate(114.73,287.00) rotate(-90)" font-size="7.9" text-anchor="end" fill="#000" >EP 3</text>
<text transform="translate(128.29,287.00) rotate(-90)" font-size="7.9" text-anchor="end" fill="#000" >TPO 1</text>
<text transform="translate(141.86,287.00) rotate(-90)" font-size="7.9" text-anchor="end" fill="#000" >TPO 2</text>
<text transform="translate(155.42,287.00) rotate(-90)" font-size="7.9" text-anchor="end" fill="#000" >TPO 3</text>
<defs><linearGradient id="cb" x1="0" y1="0" x2="0" y2="1"><stop offset="0" stop-color="#cc1420"/><stop offset="0.125" stop-color="#d03c46"/><stop offset="0.25" stop-color="#dc7882"/><stop offset="0.375" stop-color="#f0c6cc"/><stop offset="0.5" stop-color="#faf8fa"/><stop offset="0.625" stop-color="#d2d2ee"/><stop offset="0.75" stop-color="#9494d0"/><stop offset="0.875" stop-color="#6464b4"/><stop offset="1" stop-color="#40479c"/></linearGradient></defs>
<rect x="208.2" y="37.2" width="11" height="243" fill="url(#cb)" stroke="#111" stroke-width="1.4"/>
<line x1="205.2" y1="37.2" x2="208.2" y2="37.2" stroke="#111" stroke-width="1"/>
<text x="202.20" y="39.80" font-size="7.2" text-anchor="end" font-weight="normal" fill="#000" >2</text>
<line x1="205.2" y1="158.7" x2="208.2" y2="158.7" stroke="#111" stroke-width="1"/>
<text x="202.20" y="161.30" font-size="7.2" text-anchor="end" font-weight="normal" fill="#000" >0</text>
<line x1="205.2" y1="280.2" x2="208.2" y2="280.2" stroke="#111" stroke-width="1"/>
<text x="202.20" y="282.80" font-size="7.2" text-anchor="end" font-weight="normal" fill="#000" >-2</text>
<text transform="translate(191.2,158.6) rotate(-90)" font-size="8.8" text-anchor="middle" fill="#111">Log<tspan font-size="6.9" dy="2.2">2</tspan><tspan dy="-2.2"> fold vs median</tspan></text>
<defs><clipPath id="cpA"><rect x="282.5" y="37.0" width="86.5" height="86.8"/></clipPath></defs>
<g clip-path="url(#cpA)" fill="none"><polyline points="282.5,117.6 294.9,116.6 307.2,86.0 319.6,88.2 331.9,94.1 344.3,87.5 356.6,91.7 369.0,85.3" stroke="#a4acd6" stroke-opacity="0.3" stroke-width="0.6"/><polyline points="282.5,117.3 294.9,117.7 307.2,102.2 319.6,97.3 331.9,106.1 344.3,93.5 356.6,92.0 369.0,90.2" stroke="#a4acd6" stroke-opacity="0.3" stroke-width="0.6"/><polyline points="282.5,117.8 294.9,117.0 307.2,95.2 319.6,98.8 331.9,97.5 344.3,89.9 356.6,88.2 369.0,91.4" stroke="#a4acd6" stroke-opacity="0.3" stroke-width="0.6"/><polyline points="282.5,118.1 294.9,119.3 307.2,97.3 319.6,101.6 331.9,111.7 344.3,101.1 356.6,104.8 369.0,106.0" stroke="#a4acd6" stroke-opacity="0.3" stroke-width="0.6"/><polyline points="282.5,117.7 294.9,117.9 307.2,99.3 319.6,95.4 331.9,105.4 344.3,96.1 356.6,88.0 369.0,90.9" stroke="#a4acd6" stroke-opacity="0.3" stroke-width="0.6"/><polyline points="282.5,117.7 294.9,118.1 307.2,106.2 319.6,101.0 331.9,98.1 344.3,96.8 356.6,103.9 369.0,94.5" stroke="#a4acd6" stroke-opacity="0.3" stroke-width="0.6"/><polyline points="282.5,117.9 294.9,117.8 307.2,100.8 319.6,86.2 331.9,96.2 344.3,103.5 356.6,100.1 369.0,91.4" stroke="#a4acd6" stroke-opacity="0.3" stroke-width="0.6"/><polyline points="282.5,117.7 294.9,119.3 307.2,94.0 319.6,94.9 331.9,97.5 344.3,98.1 356.6,95.9 369.0,93.0" stroke="#a4acd6" stroke-opacity="0.3" stroke-width="0.6"/><polyline points="282.5,119.2 294.9,118.7 307.2,108.5 319.6,99.4 331.9,105.3 344.3,100.3 356.6,94.3 369.0,105.6" stroke="#a4acd6" stroke-opacity="0.3" stroke-width="0.6"/><polyline points="282.5,117.1 294.9,117.5 307.2,93.3 319.6,100.4 331.9,91.6 344.3,80.7 356.6,91.6 369.0,82.3" stroke="#a4acd6" stroke-opacity="0.3" stroke-width="0.6"/><polyline points="282.5,118.2 294.9,117.6 307.2,113.8 319.6,103.1 331.9,109.6 344.3,89.5 356.6,97.0 369.0,101.1" stroke="#a4acd6" stroke-opacity="0.3" stroke-width="0.6"/><polyline points="282.5,118.4 294.9,118.4 307.2,115.9 319.6,111.4 331.9,104.9 344.3,104.5 356.6,104.1 369.0,87.1" stroke="#a4acd6" stroke-opacity="0.3" stroke-width="0.6"/><polyline points="282.5,118.1 294.9,116.5 307.2,84.7 319.6,85.6 331.9,92.3 344.3,86.8 356.6,86.3 369.0,99.6" stroke="#a4acd6" stroke-opacity="0.3" stroke-width="0.6"/><polyline points="282.5,117.8 294.9,117.1 307.2,94.6 319.6,98.4 331.9,100.5 344.3,82.0 356.6,96.3 369.0,96.2" stroke="#a4acd6" stroke-opacity="0.3" stroke-width="0.6"/><polyline points="282.5,118.7 294.9,119.4 307.2,107.8 319.6,99.2 331.9,102.4 344.3,112.8 356.6,107.9 369.0,99.3" stroke="#a4acd6" stroke-opacity="0.3" stroke-width="0.6"/><polyline points="282.5,117.6 294.9,115.4 307.2,89.5 319.6,82.5 331.9,96.2 344.3,89.1 356.6,87.8 369.0,82.7" stroke="#a4acd6" stroke-opacity="0.3" stroke-width="0.6"/><polyline points="282.5,117.3 294.9,115.9 307.2,91.4 319.6,78.0 331.9,82.0 344.3,78.9 356.6,84.9 369.0,74.5" stroke="#a4acd6" stroke-opacity="0.3" stroke-width="0.6"/><polyline points="282.5,118.3 294.9,118.4 307.2,105.1 319.6,96.7 331.9,108.6 344.3,93.9 356.6,100.2 369.0,86.6" stroke="#a4acd6" stroke-opacity="0.3" stroke-width="0.6"/><polyline points="282.5,118.9 294.9,118.2 307.2,97.7 319.6,105.1 331.9,98.4 344.3,87.4 356.6,98.1 369.0,88.7" stroke="#a4acd6" stroke-opacity="0.3" stroke-width="0.6"/><polyline points="282.5,118.0 294.9,117.8 307.2,97.2 319.6,93.0 331.9,105.7 344.3,86.6 356.6,92.9 369.0,81.6" stroke="#a4acd6" stroke-opacity="0.3" stroke-width="0.6"/><polyline points="282.5,117.4 294.9,118.0 307.2,95.9 319.6,89.7 331.9,98.3 344.3,95.5 356.6,89.5 369.0,98.6" stroke="#a4acd6" stroke-opacity="0.3" stroke-width="0.6"/><polyline points="282.5,116.9 294.9,116.7 307.2,82.0 319.6,89.4 331.9,88.4 344.3,86.5 356.6,87.4 369.0,83.1" stroke="#a4acd6" stroke-opacity="0.3" stroke-width="0.6"/><polyline points="282.5,117.6 294.9,117.9 307.2,89.5 319.6,92.4 331.9,99.1 344.3,86.7 356.6,97.6 369.0,94.0" stroke="#a4acd6" stroke-opacity="0.3" stroke-width="0.6"/><polyline points="282.5,117.5 294.9,118.3 307.2,93.7 319.6,93.7 331.9,109.3 344.3,96.8 356.6,88.5 369.0,86.0" stroke="#a4acd6" stroke-opacity="0.3" stroke-width="0.6"/><polyline points="282.5,117.3 294.9,119.6 307.2,106.4 319.6,100.6 331.9,110.4 344.3,102.6 356.6,107.0 369.0,94.2" stroke="#a4acd6" stroke-opacity="0.3" stroke-width="0.6"/><polyline points="282.5,118.0 294.9,120.5 307.2,99.8 319.6,110.2 331.9,107.6 344.3,98.7 356.6,101.8 369.0,98.0" stroke="#a4acd6" stroke-opacity="0.3" stroke-width="0.6"/><polyline points="282.5,117.4 294.9,115.7 307.2,79.8 319.6,91.1 331.9,91.0 344.3,85.1 356.6,90.0 369.0,74.8" stroke="#a4acd6" stroke-opacity="0.3" stroke-width="0.6"/><polyline points="282.5,117.5 294.9,118.1 307.2,89.4 319.6,98.2 331.9,106.4 344.3,89.5 356.6,97.7 369.0,103.1" stroke="#a4acd6" stroke-opacity="0.3" stroke-width="0.6"/><polyline points="282.5,117.8 294.9,118.1 307.2,98.7 319.6,94.9 331.9,94.7 344.3,98.2 356.6,97.8 369.0,96.2" stroke="#a4acd6" stroke-opacity="0.3" stroke-width="0.6"/><polyline points="282.5,118.2 294.9,117.9 307.2,106.1 319.6,97.0 331.9,116.0 344.3,92.8 356.6,89.1 369.0,100.7" stroke="#a4acd6" stroke-opacity="0.3" stroke-width="0.6"/><polyline points="282.5,117.6 294.9,117.0 307.2,39.8 319.6,38.4 331.9,55.3 344.3,39.8 356.6,39.8 369.0,38.4" stroke="#e0e2ea" stroke-opacity="0.9" stroke-width="0.6"/><polyline points="282.5,117.6 294.9,117.6 307.2,80.8 319.6,72.3 331.9,80.8 344.3,70.9 356.6,73.7 369.0,72.3" stroke="#d8dbe8" stroke-opacity="0.9" stroke-width="0.6"/><polyline points="282.5,117.6 294.9,117.0 307.2,49.7 319.6,69.5 331.9,68.1 344.3,75.1 356.6,76.6 369.0,73.7" stroke="#e2e4ec" stroke-opacity="0.9" stroke-width="0.6"/><polyline points="282.5,117.6 294.9,117.0 307.2,94.4 319.6,92.1 331.9,97.8 344.3,87.3 356.6,90.1 369.0,87.0" stroke="#343f8c" stroke-width="2.7" stroke-linejoin="miter"/></g>
<rect x="282.5" y="37.0" width="86.5" height="86.8" fill="none" stroke="#111" stroke-width="1.3"/>
<rect x="282.5" y="37.0" width="27.2" height="10.6" fill="#fff" stroke="#111" stroke-width="1.3"/>
<text x="285.70" y="44.60" font-size="7.5" text-anchor="start" font-weight="normal" fill="#000" >n = 33</text>
<text x="325.75" y="31.70" font-size="9.7" text-anchor="middle" font-weight="normal" fill="#000" >Cluster A</text>
<line x1="279.5" y1="61.00" x2="282.5" y2="61.00" stroke="#111" stroke-width="1.1"/>
<text x="277.00" y="63.70" font-size="7.5" text-anchor="end" font-weight="normal" fill="#000" >2</text>
<line x1="279.5" y1="89.30" x2="282.5" y2="89.30" stroke="#111" stroke-width="1.1"/>
<text x="277.00" y="92.00" font-size="7.5" text-anchor="end" font-weight="normal" fill="#000" >1</text>
<line x1="279.5" y1="117.60" x2="282.5" y2="117.60" stroke="#111" stroke-width="1.1"/>
<text x="277.00" y="120.30" font-size="7.5" text-anchor="end" font-weight="normal" fill="#000" >0</text>
<line x1="282.50" y1="123.8" x2="282.50" y2="126.8" stroke="#111" stroke-width="1.1"/>
<text transform="translate(284.80,130.40) rotate(-90)" font-size="8.0" text-anchor="end" fill="#000" >Control Rep 1</text>
<line x1="294.86" y1="123.8" x2="294.86" y2="126.8" stroke="#111" stroke-width="1.1"/>
<text transform="translate(297.16,130.40) rotate(-90)" font-size="8.0" text-anchor="end" fill="#000" >Control Rep 2</text>
<line x1="307.21" y1="123.8" x2="307.21" y2="126.8" stroke="#111" stroke-width="1.1"/>
<text transform="translate(309.51,130.40) rotate(-90)" font-size="8.0" text-anchor="end" fill="#000" >EP Rep 2</text>
<line x1="319.57" y1="123.8" x2="319.57" y2="126.8" stroke="#111" stroke-width="1.1"/>
<text transform="translate(321.87,130.40) rotate(-90)" font-size="8.0" text-anchor="end" fill="#000" >EP Rep 1</text>
<line x1="331.93" y1="123.8" x2="331.93" y2="126.8" stroke="#111" stroke-width="1.1"/>
<text transform="translate(334.23,130.40) rotate(-90)" font-size="8.0" text-anchor="end" fill="#000" >EP Rep 3</text>
<line x1="344.29" y1="123.8" x2="344.29" y2="126.8" stroke="#111" stroke-width="1.1"/>
<text transform="translate(346.59,130.40) rotate(-90)" font-size="8.0" text-anchor="end" fill="#000" >TPO Rep 1</text>
<line x1="356.64" y1="123.8" x2="356.64" y2="126.8" stroke="#111" stroke-width="1.1"/>
<text transform="translate(358.94,130.40) rotate(-90)" font-size="8.0" text-anchor="end" fill="#000" >TPO Rep 2</text>
<line x1="369.00" y1="123.8" x2="369.00" y2="126.8" stroke="#111" stroke-width="1.1"/>
<text transform="translate(371.30,130.40) rotate(-90)" font-size="8.0" text-anchor="end" fill="#000" >TPO Rep 3</text>
<text transform="translate(255.10,80.40) rotate(-90)" font-size="8.8" text-anchor="middle" fill="#000">Log<tspan font-size="6.9" dy="2.2">2</tspan><tspan dy="-2.2"> row normalized</tspan></text>
<text transform="translate(265.70,80.40) rotate(-90)" font-size="8.8" text-anchor="middle" fill="#000">mean control signal</text>
<defs><clipPath id="cpC"><rect x="422.0" y="37.0" width="86.5" height="86.8"/></clipPath></defs>
<g clip-path="url(#cpC)" fill="none"><polyline points="422.0,71.8 434.4,67.2 446.7,70.2 459.1,67.8 471.4,68.6 483.8,119.5 496.1,99.9 508.5,105.9" stroke="#5a6cc4" stroke-opacity="0.11" stroke-width="0.7"/><polyline points="422.0,67.9 434.4,67.4 446.7,65.4 459.1,65.3 471.4,52.0 483.8,98.5 496.1,95.1 508.5,97.6" stroke="#5a6cc4" stroke-opacity="0.11" stroke-width="0.7"/><polyline points="422.0,65.1 434.4,64.8 446.7,40.9 459.1,47.2 471.4,42.5 483.8,74.4 496.1,79.5 508.5,76.0" stroke="#5a6cc4" stroke-opacity="0.11" stroke-width="0.7"/><polyline points="422.0,65.9 434.4,63.8 446.7,51.1 459.1,50.5 471.4,45.4 483.8,86.0 496.1,70.3 508.5,74.3" stroke="#5a6cc4" stroke-opacity="0.11" stroke-width="0.7"/><polyline points="422.0,68.9 434.4,66.8 446.7,57.4 459.1,55.5 471.4,67.4 483.8,110.6 496.1,88.8 508.5,83.4" stroke="#5a6cc4" stroke-opacity="0.11" stroke-width="0.7"/><polyline points="422.0,63.4 434.4,63.8 446.7,45.5 459.1,42.9 471.4,44.3 483.8,68.2 496.1,75.5 508.5,74.2" stroke="#5a6cc4" stroke-opacity="0.11" stroke-width="0.7"/><polyline points="422.0,68.7 434.4,62.7 446.7,38.0 459.1,50.7 471.4,41.0 483.8,83.0 496.1,71.5 508.5,70.3" stroke="#5a6cc4" stroke-opacity="0.11" stroke-width="0.7"/><polyline points="422.0,73.3 434.4,66.8 446.7,63.5 459.1,68.6 471.4,68.5 483.8,110.1 496.1,93.9 508.5,114.1" stroke="#5a6cc4" stroke-opacity="0.11" stroke-width="0.7"/><polyline points="422.0,66.5 434.4,66.1 446.7,58.0 459.1,47.5 471.4,57.1 483.8,88.1 496.1,83.7 508.5,79.3" stroke="#5a6cc4" stroke-opacity="0.11" stroke-width="0.7"/><polyline points="422.0,66.0 434.4,64.1 446.7,45.6 459.1,46.0 471.4,46.9 483.8,86.2 496.1,66.3 508.5,89.0" stroke="#5a6cc4" stroke-opacity="0.11" stroke-width="0.7"/><polyline points="422.0,70.0 434.4,66.2 446.7,52.0 459.1,58.4 471.4,59.2 483.8,111.6 496.1,82.6 508.5,88.1" stroke="#5a6cc4" stroke-opacity="0.11" stroke-width="0.7"/><polyline points="422.0,65.3 434.4,62.6 446.7,44.1 459.1,47.0 471.4,46.9 483.8,87.5 496.1,69.9 508.5,81.6" stroke="#5a6cc4" stroke-opacity="0.11" stroke-width="0.7"/><polyline points="422.0,64.2 434.4,61.5 446.7,34.7 459.1,37.9 471.4,26.8 483.8,50.0 496.1,68.6 508.5,59.1" stroke="#5a6cc4" stroke-opacity="0.11" stroke-width="0.7"/><polyline points="422.0,68.8 434.4,66.4 446.7,53.0 459.1,55.7 471.4,59.9 483.8,99.5 496.1,86.9 508.5,98.6" stroke="#5a6cc4" stroke-opacity="0.11" stroke-width="0.7"/><polyline points="422.0,67.0 434.4,65.3 446.7,54.9 459.1,56.6 471.4,46.3 483.8,87.5 496.1,81.1 508.5,76.5" stroke="#5a6cc4" stroke-opacity="0.11" stroke-width="0.7"/><polyline points="422.0,69.6 434.4,64.2 446.7,61.5 459.1,63.5 471.4,56.9 483.8,88.4 496.1,87.6 508.5,90.7" stroke="#5a6cc4" stroke-opacity="0.11" stroke-width="0.7"/><polyline points="422.0,65.8 434.4,65.6 446.7,49.1 459.1,51.8 471.4,52.5 483.8,72.8 496.1,70.7 508.5,88.1" stroke="#5a6cc4" stroke-opacity="0.11" stroke-width="0.7"/><polyline points="422.0,67.8 434.4,63.9 446.7,59.1 459.1,54.4 471.4,52.7 483.8,91.9 496.1,87.7 508.5,95.9" stroke="#5a6cc4" stroke-opacity="0.11" stroke-width="0.7"/><polyline points="422.0,71.5 434.4,64.0 446.7,57.4 459.1,57.3 471.4,58.3 483.8,114.8 496.1,82.9 508.5,99.3" stroke="#5a6cc4" stroke-opacity="0.11" stroke-width="0.7"/><polyline points="422.0,76.5 434.4,68.0 446.7,67.7 459.1,62.3 471.4,69.1 483.8,113.1 496.1,89.5 508.5,95.3" stroke="#5a6cc4" stroke-opacity="0.11" stroke-width="0.7"/><polyline points="422.0,67.8 434.4,66.4 446.7,61.8 459.1,60.0 471.4,58.5 483.8,105.5 496.1,86.5 508.5,99.8" stroke="#5a6cc4" stroke-opacity="0.11" stroke-width="0.7"/><polyline points="422.0,70.6 434.4,65.2 446.7,51.6 459.1,58.6 471.4,43.0 483.8,89.5 496.1,83.9 508.5,92.4" stroke="#5a6cc4" stroke-opacity="0.11" stroke-width="0.7"/><polyline points="422.0,67.4 434.4,62.9 446.7,50.2 459.1,54.4 471.4,52.7 483.8,75.2 496.1,73.7 508.5,77.4" stroke="#5a6cc4" stroke-opacity="0.11" stroke-width="0.7"/><polyline points="422.0,67.4 434.4,64.6 446.7,48.6 459.1,50.5 471.4,50.7 483.8,85.4 496.1,68.4 508.5,89.3" stroke="#5a6cc4" stroke-opacity="0.11" stroke-width="0.7"/><polyline points="422.0,67.4 434.4,66.2 446.7,56.9 459.1,57.6 471.4,47.8 483.8,71.4 496.1,86.3 508.5,88.2" stroke="#5a6cc4" stroke-opacity="0.11" stroke-width="0.7"/><polyline points="422.0,68.8 434.4,66.7 446.7,56.7 459.1,51.4 471.4,56.1 483.8,99.1 496.1,88.7 508.5,84.3" stroke="#5a6cc4" stroke-opacity="0.11" stroke-width="0.7"/><polyline points="422.0,68.3 434.4,66.8 446.7,57.0 459.1,63.3 471.4,63.0 483.8,107.8 496.1,88.0 508.5,116.2" stroke="#5a6cc4" stroke-opacity="0.11" stroke-width="0.7"/><polyline points="422.0,72.5 434.4,64.6 446.7,51.4 459.1,48.8 471.4,59.4 483.8,91.1 496.1,87.7 508.5,79.6" stroke="#5a6cc4" stroke-opacity="0.11" stroke-width="0.7"/><polyline points="422.0,67.0 434.4,63.8 446.7,51.5 459.1,57.5 471.4,54.7 483.8,94.0 496.1,85.8 508.5,82.7" stroke="#5a6cc4" stroke-opacity="0.11" stroke-width="0.7"/><polyline points="422.0,69.4 434.4,66.9 446.7,50.8 459.1,60.2 471.4,53.0 483.8,101.9 496.1,88.1 508.5,96.9" stroke="#5a6cc4" stroke-opacity="0.11" stroke-width="0.7"/><polyline points="422.0,64.6 434.4,64.8 446.7,40.7 459.1,43.4 471.4,44.0 483.8,60.4 496.1,86.3 508.5,84.0" stroke="#5a6cc4" stroke-opacity="0.11" stroke-width="0.7"/><polyline points="422.0,66.4 434.4,64.3 446.7,45.5 459.1,43.7 471.4,48.3 483.8,67.9 496.1,66.8 508.5,69.4" stroke="#5a6cc4" stroke-opacity="0.11" stroke-width="0.7"/><polyline points="422.0,66.5 434.4,63.9 446.7,52.4 459.1,52.2 471.4,50.2 483.8,75.2 496.1,83.5 508.5,82.9" stroke="#5a6cc4" stroke-opacity="0.11" stroke-width="0.7"/><polyline points="422.0,66.9 434.4,63.1 446.7,52.8 459.1,52.3 471.4,37.9 483.8,78.6 496.1,69.2 508.5,78.8" stroke="#5a6cc4" stroke-opacity="0.11" stroke-width="0.7"/><polyline points="422.0,66.6 434.4,65.1 446.7,60.6 459.1,59.5 471.4,52.4 483.8,90.3 496.1,88.0 508.5,80.9" stroke="#5a6cc4" stroke-opacity="0.11" stroke-width="0.7"/><polyline points="422.0,68.3 434.4,64.5 446.7,44.2 459.1,57.9 471.4,53.0 483.8,92.8 496.1,83.3 508.5,74.6" stroke="#5a6cc4" stroke-opacity="0.11" stroke-width="0.7"/><polyline points="422.0,66.6 434.4,65.8 446.7,49.0 459.1,65.6 471.4,51.3 483.8,94.9 496.1,89.3 508.5,91.8" stroke="#5a6cc4" stroke-opacity="0.11" stroke-width="0.7"/><polyline points="422.0,68.4 434.4,65.7 446.7,50.6 459.1,53.7 471.4,51.2 483.8,80.0 496.1,88.2 508.5,86.0" stroke="#5a6cc4" stroke-opacity="0.11" stroke-width="0.7"/><polyline points="422.0,67.0 434.4,64.0 446.7,44.5 459.1,57.8 471.4,43.9 483.8,74.5 496.1,81.4 508.5,85.8" stroke="#5a6cc4" stroke-opacity="0.11" stroke-width="0.7"/><polyline points="422.0,69.9 434.4,66.2 446.7,64.6 459.1,63.2 471.4,63.9 483.8,101.8 496.1,94.5 508.5,105.0" stroke="#5a6cc4" stroke-opacity="0.11" stroke-width="0.7"/><polyline points="422.0,67.4 434.4,68.6 446.7,62.4 459.1,67.2 471.4,65.6 483.8,101.5 496.1,93.5 508.5,92.7" stroke="#5a6cc4" stroke-opacity="0.11" stroke-width="0.7"/><polyline points="422.0,67.2 434.4,65.3 446.7,52.1 459.1,54.5 471.4,62.1 483.8,106.4 496.1,85.8 508.5,93.2" stroke="#5a6cc4" stroke-opacity="0.11" stroke-width="0.7"/><polyline points="422.0,64.2 434.4,64.9 446.7,46.0 459.1,45.6 471.4,40.4 483.8,69.6 496.1,69.5 508.5,67.2" stroke="#5a6cc4" stroke-opacity="0.11" stroke-width="0.7"/><polyline points="422.0,67.4 434.4,63.9 446.7,37.8 459.1,47.7 471.4,40.0 483.8,67.8 496.1,72.4 508.5,75.1" stroke="#5a6cc4" stroke-opacity="0.11" stroke-width="0.7"/><polyline points="422.0,70.6 434.4,65.9 446.7,60.5 459.1,56.7 471.4,62.2 483.8,111.3 496.1,88.2 508.5,94.1" stroke="#5a6cc4" stroke-opacity="0.11" stroke-width="0.7"/><polyline points="422.0,71.7 434.4,67.5 446.7,59.9 459.1,60.6 471.4,61.8 483.8,102.6 496.1,98.1 508.5,108.5" stroke="#5a6cc4" stroke-opacity="0.11" stroke-width="0.7"/><polyline points="422.0,67.2 434.4,64.1 446.7,44.0 459.1,48.5 471.4,49.6 483.8,96.8 496.1,72.9 508.5,81.3" stroke="#5a6cc4" stroke-opacity="0.11" stroke-width="0.7"/><polyline points="422.0,67.4 434.4,64.2 446.7,48.7 459.1,48.0 471.4,51.5 483.8,87.4 496.1,76.3 508.5,91.2" stroke="#5a6cc4" stroke-opacity="0.11" stroke-width="0.7"/><polyline points="422.0,68.6 434.4,63.9 446.7,66.5 459.1,51.9 471.4,53.7 483.8,101.8 496.1,92.0 508.5,98.2" stroke="#5a6cc4" stroke-opacity="0.11" stroke-width="0.7"/><polyline points="422.0,66.7 434.4,64.5 446.7,47.9 459.1,52.4 471.4,46.5 483.8,76.3 496.1,66.1 508.5,81.2" stroke="#5a6cc4" stroke-opacity="0.11" stroke-width="0.7"/><polyline points="422.0,68.5 434.4,66.7 446.7,49.2 459.1,63.1 471.4,51.1 483.8,89.2 496.1,87.7 508.5,86.0" stroke="#5a6cc4" stroke-opacity="0.11" stroke-width="0.7"/><polyline points="422.0,70.7 434.4,65.1 446.7,60.4 459.1,54.3 471.4,57.0 483.8,94.8 496.1,84.3 508.5,97.1" stroke="#5a6cc4" stroke-opacity="0.11" stroke-width="0.7"/><polyline points="422.0,65.9 434.4,65.9 446.7,52.3 459.1,56.6 471.4,51.2 483.8,82.5 496.1,81.5 508.5,85.6" stroke="#5a6cc4" stroke-opacity="0.11" stroke-width="0.7"/><polyline points="422.0,68.5 434.4,63.7 446.7,53.1 459.1,52.9 471.4,52.2 483.8,82.7 496.1,72.1 508.5,89.7" stroke="#5a6cc4" stroke-opacity="0.11" stroke-width="0.7"/><polyline points="422.0,62.5 434.4,62.0 446.7,33.9 459.1,26.0 471.4,30.7 483.8,60.8 496.1,53.7 508.5,49.2" stroke="#5a6cc4" stroke-opacity="0.11" stroke-width="0.7"/><polyline points="422.0,65.4 434.4,63.9 446.7,40.0 459.1,53.0 471.4,44.3 483.8,78.1 496.1,73.0 508.5,79.6" stroke="#5a6cc4" stroke-opacity="0.11" stroke-width="0.7"/><polyline points="422.0,64.0 434.4,63.7 446.7,50.6 459.1,43.4 471.4,38.6 483.8,69.3 496.1,70.9 508.5,62.0" stroke="#5a6cc4" stroke-opacity="0.11" stroke-width="0.7"/><polyline points="422.0,69.8 434.4,66.5 446.7,59.6 459.1,62.7 471.4,60.8 483.8,84.7 496.1,91.6 508.5,91.1" stroke="#5a6cc4" stroke-opacity="0.11" stroke-width="0.7"/><polyline points="422.0,67.9 434.4,65.1 446.7,53.8 459.1,42.4 471.4,57.1 483.8,78.7 496.1,71.8 508.5,77.8" stroke="#5a6cc4" stroke-opacity="0.11" stroke-width="0.7"/><polyline points="422.0,70.7 434.4,66.7 446.7,64.3 459.1,69.5 471.4,57.0 483.8,105.6 496.1,89.3 508.5,101.3" stroke="#5a6cc4" stroke-opacity="0.11" stroke-width="0.7"/><polyline points="422.0,66.9 434.4,65.6 446.7,56.5 459.1,57.9 471.4,58.3 483.8,98.5 496.1,86.0 508.5,88.2" stroke="#5a6cc4" stroke-opacity="0.11" stroke-width="0.7"/><polyline points="422.0,69.2 434.4,66.7 446.7,65.1 459.1,66.9 471.4,59.6 483.8,98.2 496.1,91.6 508.5,91.6" stroke="#5a6cc4" stroke-opacity="0.11" stroke-width="0.7"/><polyline points="422.0,65.9 434.4,65.2 446.7,49.3 459.1,38.8 471.4,37.9 483.8,84.5 496.1,80.9 508.5,68.3" stroke="#5a6cc4" stroke-opacity="0.11" stroke-width="0.7"/><polyline points="422.0,71.4 434.4,68.1 446.7,59.8 459.1,61.9 471.4,62.3 483.8,86.6 496.1,94.3 508.5,82.6" stroke="#5a6cc4" stroke-opacity="0.11" stroke-width="0.7"/><polyline points="422.0,69.6 434.4,65.4 446.7,62.6 459.1,62.8 471.4,55.9 483.8,117.3 496.1,80.5 508.5,105.1" stroke="#5a6cc4" stroke-opacity="0.11" stroke-width="0.7"/><polyline points="422.0,69.6 434.4,64.6 446.7,47.0 459.1,58.1 471.4,57.7 483.8,86.4 496.1,76.4 508.5,73.9" stroke="#5a6cc4" stroke-opacity="0.11" stroke-width="0.7"/><polyline points="422.0,67.9 434.4,64.4 446.7,46.0 459.1,38.7 471.4,48.5 483.8,83.1 496.1,75.0 508.5,71.6" stroke="#5a6cc4" stroke-opacity="0.11" stroke-width="0.7"/><polyline points="422.0,64.3 434.4,62.6 446.7,39.9 459.1,45.0 471.4,43.6 483.8,69.6 496.1,72.1 508.5,75.9" stroke="#5a6cc4" stroke-opacity="0.11" stroke-width="0.7"/><polyline points="422.0,70.5 434.4,66.8 446.7,55.1 459.1,49.6 471.4,55.1 483.8,86.3 496.1,78.4 508.5,91.7" stroke="#5a6cc4" stroke-opacity="0.11" stroke-width="0.7"/><polyline points="422.0,69.5 434.4,66.6 446.7,55.9 459.1,50.6 471.4,51.8 483.8,89.0 496.1,77.0 508.5,94.7" stroke="#5a6cc4" stroke-opacity="0.11" stroke-width="0.7"/><polyline points="422.0,60.4 434.4,62.7 446.7,46.7 459.1,41.7 471.4,34.4 483.8,62.1 496.1,69.2 508.5,58.7" stroke="#5a6cc4" stroke-opacity="0.11" stroke-width="0.7"/><polyline points="422.0,66.7 434.4,63.9 446.7,53.7 459.1,38.4 471.4,45.6 483.8,75.1 496.1,80.8 508.5,83.7" stroke="#5a6cc4" stroke-opacity="0.11" stroke-width="0.7"/><polyline points="422.0,68.6 434.4,67.6 446.7,52.1 459.1,64.5 471.4,53.5 483.8,99.3 496.1,75.3 508.5,89.9" stroke="#5a6cc4" stroke-opacity="0.11" stroke-width="0.7"/><polyline points="422.0,62.7 434.4,63.6 446.7,42.3 459.1,49.0 471.4,44.1 483.8,70.4 496.1,72.3 508.5,64.6" stroke="#5a6cc4" stroke-opacity="0.11" stroke-width="0.7"/><polyline points="422.0,70.7 434.4,65.3 446.7,55.8 459.1,55.6 471.4,54.7 483.8,95.1 496.1,80.4 508.5,99.8" stroke="#5a6cc4" stroke-opacity="0.11" stroke-width="0.7"/><polyline points="422.0,67.0 434.4,63.1 446.7,41.2 459.1,43.7 471.4,40.5 483.8,75.3 496.1,71.3 508.5,74.0" stroke="#5a6cc4" stroke-opacity="0.11" stroke-width="0.7"/><polyline points="422.0,70.3 434.4,65.5 446.7,54.0 459.1,49.7 471.4,60.8 483.8,95.7 496.1,83.1 508.5,82.1" stroke="#5a6cc4" stroke-opacity="0.11" stroke-width="0.7"/><polyline points="422.0,58.9 434.4,65.4 446.7,46.7 459.1,45.8 471.4,43.7 483.8,68.1 496.1,75.0 508.5,98.4" stroke="#5a6cc4" stroke-opacity="0.11" stroke-width="0.7"/><polyline points="422.0,71.7 434.4,65.8 446.7,57.6 459.1,57.2 471.4,54.4 483.8,120.9 496.1,80.3 508.5,92.0" stroke="#5a6cc4" stroke-opacity="0.11" stroke-width="0.7"/><polyline points="422.0,69.5 434.4,65.2 446.7,52.3 459.1,59.1 471.4,55.5 483.8,108.3 496.1,86.2 508.5,92.7" stroke="#5a6cc4" stroke-opacity="0.11" stroke-width="0.7"/><polyline points="422.0,63.5 434.4,63.0 446.7,44.1 459.1,31.8 471.4,41.7 483.8,66.7 496.1,62.6 508.5,73.7" stroke="#5a6cc4" stroke-opacity="0.11" stroke-width="0.7"/><polyline points="422.0,66.8 434.4,66.1 446.7,57.6 459.1,56.2 471.4,57.8 483.8,91.3 496.1,86.4 508.5,82.3" stroke="#5a6cc4" stroke-opacity="0.11" stroke-width="0.7"/><polyline points="422.0,69.3 434.4,66.3 446.7,51.6 459.1,49.0 471.4,50.6 483.8,95.1 496.1,88.6 508.5,94.9" stroke="#5a6cc4" stroke-opacity="0.11" stroke-width="0.7"/><polyline points="422.0,71.6 434.4,65.8 446.7,61.7 459.1,63.9 471.4,55.5 483.8,109.2 496.1,95.6 508.5,105.9" stroke="#5a6cc4" stroke-opacity="0.11" stroke-width="0.7"/><polyline points="422.0,64.4 434.4,64.8 446.7,53.7 459.1,58.0 471.4,53.5 483.8,78.7 496.1,80.7 508.5,83.5" stroke="#5a6cc4" stroke-opacity="0.11" stroke-width="0.7"/><polyline points="422.0,65.4 434.4,63.1 446.7,42.3 459.1,47.7 471.4,45.1 483.8,83.2 496.1,69.1 508.5,85.2" stroke="#5a6cc4" stroke-opacity="0.11" stroke-width="0.7"/><polyline points="422.0,64.2 434.4,64.5 446.7,52.6 459.1,56.5 471.4,46.9 483.8,87.4 496.1,85.1 508.5,74.1" stroke="#5a6cc4" stroke-opacity="0.11" stroke-width="0.7"/><polyline points="422.0,67.8 434.4,66.7 446.7,56.8 459.1,61.6 471.4,63.0 483.8,97.3 496.1,79.0 508.5,106.6" stroke="#5a6cc4" stroke-opacity="0.11" stroke-width="0.7"/><polyline points="422.0,74.8 434.4,67.9 446.7,65.4 459.1,68.7 471.4,70.1 483.8,103.9 496.1,94.4 508.5,105.4" stroke="#5a6cc4" stroke-opacity="0.11" stroke-width="0.7"/><polyline points="422.0,69.2 434.4,64.0 446.7,53.7 459.1,53.0 471.4,44.3 483.8,85.1 496.1,74.7 508.5,87.9" stroke="#5a6cc4" stroke-opacity="0.11" stroke-width="0.7"/><polyline points="422.0,66.2 434.4,64.2 446.7,51.4 459.1,48.3 471.4,49.9 483.8,74.7 496.1,72.4 508.5,86.9" stroke="#5a6cc4" stroke-opacity="0.11" stroke-width="0.7"/><polyline points="422.0,64.4 434.4,65.4 446.7,47.9 459.1,50.0 471.4,47.4 483.8,74.6 496.1,82.0 508.5,80.4" stroke="#5a6cc4" stroke-opacity="0.11" stroke-width="0.7"/><polyline points="422.0,67.8 434.4,65.4 446.7,62.0 459.1,61.9 471.4,53.7 483.8,99.1 496.1,86.9 508.5,88.7" stroke="#5a6cc4" stroke-opacity="0.11" stroke-width="0.7"/><polyline points="422.0,70.2 434.4,64.4 446.7,40.6 459.1,55.0 471.4,63.3 483.8,88.3 496.1,85.9 508.5,89.9" stroke="#5a6cc4" stroke-opacity="0.11" stroke-width="0.7"/><polyline points="422.0,66.9 434.4,63.4 446.7,57.4 459.1,59.1 471.4,60.9 483.8,95.1 496.1,83.3 508.5,75.4" stroke="#5a6cc4" stroke-opacity="0.11" stroke-width="0.7"/><polyline points="422.0,68.0 434.4,64.1 446.7,37.0 459.1,52.0 471.4,58.3 483.8,88.8 496.1,71.1 508.5,84.2" stroke="#5a6cc4" stroke-opacity="0.11" stroke-width="0.7"/><polyline points="422.0,63.9 434.4,64.2 446.7,49.9 459.1,38.7 471.4,55.0 483.8,78.6 496.1,77.5 508.5,73.2" stroke="#5a6cc4" stroke-opacity="0.11" stroke-width="0.7"/><polyline points="422.0,63.7 434.4,62.2 446.7,40.4 459.1,38.3 471.4,30.8 483.8,52.7 496.1,60.6 508.5,52.1" stroke="#5a6cc4" stroke-opacity="0.11" stroke-width="0.7"/><polyline points="422.0,69.5 434.4,67.0 446.7,51.4 459.1,57.0 471.4,49.0 483.8,96.7 496.1,81.4 508.5,87.5" stroke="#5a6cc4" stroke-opacity="0.11" stroke-width="0.7"/><polyline points="422.0,65.0 434.4,63.4 446.7,39.6 459.1,43.3 471.4,40.0 483.8,64.4 496.1,61.2 508.5,68.5" stroke="#5a6cc4" stroke-opacity="0.11" stroke-width="0.7"/><polyline points="422.0,71.4 434.4,65.4 446.7,54.9 459.1,52.9 471.4,65.8 483.8,98.0 496.1,87.4 508.5,105.0" stroke="#5a6cc4" stroke-opacity="0.11" stroke-width="0.7"/><polyline points="422.0,64.0 434.4,63.4 446.7,48.0 459.1,54.0 471.4,47.6 483.8,87.2 496.1,64.3 508.5,73.7" stroke="#5a6cc4" stroke-opacity="0.11" stroke-width="0.7"/><polyline points="422.0,67.6 434.4,65.1 446.7,59.4 459.1,52.2 471.4,61.5 483.8,101.7 496.1,77.4 508.5,97.7" stroke="#5a6cc4" stroke-opacity="0.11" stroke-width="0.7"/><polyline points="422.0,71.4 434.4,68.0 446.7,58.0 459.1,72.2 471.4,61.7 483.8,109.9 496.1,90.9 508.5,89.4" stroke="#5a6cc4" stroke-opacity="0.11" stroke-width="0.7"/><polyline points="422.0,70.3 434.4,66.6 446.7,50.9 459.1,51.5 471.4,58.5 483.8,86.4 496.1,77.6 508.5,90.9" stroke="#5a6cc4" stroke-opacity="0.11" stroke-width="0.7"/><polyline points="422.0,67.2 434.4,65.3 446.7,41.2 459.1,44.1 471.4,37.6 483.8,79.8 496.1,73.2 508.5,68.9" stroke="#5a6cc4" stroke-opacity="0.11" stroke-width="0.7"/><polyline points="422.0,72.7 434.4,68.3 446.7,77.9 459.1,63.3 471.4,74.4 483.8,120.6 496.1,96.5 508.5,103.0" stroke="#5a6cc4" stroke-opacity="0.11" stroke-width="0.7"/><polyline points="422.0,69.3 434.4,67.0 446.7,57.9 459.1,58.4 471.4,52.2 483.8,95.0 496.1,82.9 508.5,96.7" stroke="#5a6cc4" stroke-opacity="0.11" stroke-width="0.7"/><polyline points="422.0,68.8 434.4,65.4 446.7,54.3 459.1,56.3 471.4,54.3 483.8,80.6 496.1,79.8 508.5,100.1" stroke="#5a6cc4" stroke-opacity="0.11" stroke-width="0.7"/><polyline points="422.0,68.0 434.4,65.7 446.7,58.3 459.1,59.9 471.4,57.8 483.8,95.7 496.1,90.8 508.5,80.8" stroke="#5a6cc4" stroke-opacity="0.11" stroke-width="0.7"/><polyline points="422.0,64.9 434.4,64.8 446.7,51.0 459.1,42.1 471.4,35.8 483.8,75.5 496.1,74.9 508.5,85.1" stroke="#5a6cc4" stroke-opacity="0.11" stroke-width="0.7"/><polyline points="422.0,68.6 434.4,66.3 446.7,50.9 459.1,65.6 471.4,55.6 483.8,100.7 496.1,91.6 508.5,101.4" stroke="#5a6cc4" stroke-opacity="0.11" stroke-width="0.7"/><polyline points="422.0,69.4 434.4,66.2 446.7,64.5 459.1,60.0 471.4,61.0 483.8,120.3 496.1,92.5 508.5,102.6" stroke="#5a6cc4" stroke-opacity="0.11" stroke-width="0.7"/><polyline points="422.0,67.5 434.4,63.1 446.7,46.0 459.1,51.5 471.4,40.8 483.8,82.3 496.1,74.7 508.5,70.6" stroke="#5a6cc4" stroke-opacity="0.11" stroke-width="0.7"/><polyline points="422.0,68.5 434.4,63.3 446.7,48.5 459.1,55.0 471.4,54.6 483.8,87.3 496.1,84.4 508.5,87.9" stroke="#5a6cc4" stroke-opacity="0.11" stroke-width="0.7"/><polyline points="422.0,65.8 434.4,63.3 446.7,48.7 459.1,48.8 471.4,41.0 483.8,100.3 496.1,69.7 508.5,70.4" stroke="#5a6cc4" stroke-opacity="0.11" stroke-width="0.7"/><polyline points="422.0,70.1 434.4,66.4 446.7,70.8 459.1,64.9 471.4,63.1 483.8,110.5 496.1,88.1 508.5,107.3" stroke="#5a6cc4" stroke-opacity="0.11" stroke-width="0.7"/><polyline points="422.0,65.0 434.4,65.2 446.7,36.9 459.1,52.3 471.4,42.1 483.8,84.2 496.1,76.1 508.5,65.8" stroke="#5a6cc4" stroke-opacity="0.11" stroke-width="0.7"/><polyline points="422.0,70.7 434.4,66.6 446.7,54.5 459.1,62.7 471.4,67.7 483.8,106.5 496.1,84.9 508.5,93.3" stroke="#5a6cc4" stroke-opacity="0.11" stroke-width="0.7"/><polyline points="422.0,64.2 434.4,64.5 446.7,44.8 459.1,56.6 471.4,52.9 483.8,81.7 496.1,87.5 508.5,74.0" stroke="#5a6cc4" stroke-opacity="0.11" stroke-width="0.7"/><polyline points="422.0,68.3 434.4,66.0 446.7,60.8 459.1,53.4 471.4,58.3 483.8,100.5 496.1,83.3 508.5,99.1" stroke="#5a6cc4" stroke-opacity="0.11" stroke-width="0.7"/><polyline points="422.0,66.3 434.4,62.2 446.7,60.8 459.1,47.9 471.4,44.6 483.8,88.1 496.1,65.8 508.5,82.8" stroke="#5a6cc4" stroke-opacity="0.11" stroke-width="0.7"/><polyline points="422.0,66.8 434.4,64.5 446.7,47.3 459.1,40.6 471.4,48.6 483.8,83.5 496.1,72.5 508.5,94.8" stroke="#5a6cc4" stroke-opacity="0.11" stroke-width="0.7"/><polyline points="422.0,71.2 434.4,66.5 446.7,61.7 459.1,74.7 471.4,63.2 483.8,109.8 496.1,91.5 508.5,108.0" stroke="#5a6cc4" stroke-opacity="0.11" stroke-width="0.7"/><polyline points="422.0,68.5 434.4,64.3 446.7,59.3 459.1,56.7 471.4,58.4 483.8,91.1 496.1,86.0 508.5,93.6" stroke="#5a6cc4" stroke-opacity="0.11" stroke-width="0.7"/><polyline points="422.0,66.9 434.4,62.6 446.7,50.3 459.1,45.7 471.4,51.0 483.8,70.6 496.1,75.6 508.5,82.3" stroke="#5a6cc4" stroke-opacity="0.11" stroke-width="0.7"/><polyline points="422.0,67.1 434.4,66.6 446.7,61.9 459.1,62.2 471.4,60.3 483.8,94.0 496.1,83.3 508.5,105.5" stroke="#5a6cc4" stroke-opacity="0.11" stroke-width="0.7"/><polyline points="422.0,69.4 434.4,66.0 446.7,56.2 459.1,60.2 471.4,47.3 483.8,83.7 496.1,79.5 508.5,94.3" stroke="#5a6cc4" stroke-opacity="0.11" stroke-width="0.7"/><polyline points="422.0,66.1 434.4,65.3 446.7,49.9 459.1,64.8 471.4,52.1 483.8,97.1 496.1,77.7 508.5,77.5" stroke="#5a6cc4" stroke-opacity="0.11" stroke-width="0.7"/><polyline points="422.0,64.7 434.4,65.4 446.7,50.1 459.1,55.6 471.4,46.0 483.8,84.7 496.1,77.4 508.5,86.9" stroke="#5a6cc4" stroke-opacity="0.11" stroke-width="0.7"/><polyline points="422.0,66.5 434.4,62.8 446.7,45.9 459.1,46.2 471.4,49.2 483.8,83.2 496.1,74.9 508.5,85.9" stroke="#5a6cc4" stroke-opacity="0.11" stroke-width="0.7"/><polyline points="422.0,68.1 434.4,63.9 446.7,43.0 459.1,53.1 471.4,51.4 483.8,78.0 496.1,84.3 508.5,86.1" stroke="#5a6cc4" stroke-opacity="0.11" stroke-width="0.7"/><polyline points="422.0,63.2 434.4,62.7 446.7,52.4 459.1,42.0 471.4,50.0 483.8,77.6 496.1,67.5 508.5,67.4" stroke="#5a6cc4" stroke-opacity="0.11" stroke-width="0.7"/><polyline points="422.0,68.6 434.4,67.6 446.7,50.2 459.1,61.7 471.4,47.1 483.8,84.5 496.1,73.3 508.5,85.2" stroke="#5a6cc4" stroke-opacity="0.11" stroke-width="0.7"/><polyline points="422.0,68.9 434.4,66.5 446.7,65.0 459.1,64.2 471.4,64.3 483.8,109.6 496.1,91.4 508.5,100.6" stroke="#5a6cc4" stroke-opacity="0.11" stroke-width="0.7"/><polyline points="422.0,70.9 434.4,65.1 446.7,65.8 459.1,53.9 471.4,55.8 483.8,115.8 496.1,88.6 508.5,92.6" stroke="#5a6cc4" stroke-opacity="0.11" stroke-width="0.7"/><polyline points="422.0,66.2 434.4,64.9 446.7,55.6 459.1,41.0 471.4,43.2 483.8,90.4 496.1,85.8 508.5,79.0" stroke="#5a6cc4" stroke-opacity="0.11" stroke-width="0.7"/><polyline points="422.0,67.7 434.4,67.2 446.7,62.0 459.1,54.0 471.4,75.1 483.8,111.9 496.1,78.2 508.5,88.9" stroke="#5a6cc4" stroke-opacity="0.11" stroke-width="0.7"/><polyline points="422.0,67.9 434.4,65.0 446.7,51.7 459.1,58.6 471.4,57.9 483.8,97.0 496.1,86.9 508.5,78.0" stroke="#5a6cc4" stroke-opacity="0.11" stroke-width="0.7"/><polyline points="422.0,71.3 434.4,67.2 446.7,59.3 459.1,54.3 471.4,53.1 483.8,103.2 496.1,92.6 508.5,86.6" stroke="#5a6cc4" stroke-opacity="0.11" stroke-width="0.7"/><polyline points="422.0,68.1 434.4,66.2 446.7,62.7 459.1,61.2 471.4,49.8 483.8,97.9 496.1,81.3 508.5,95.6" stroke="#5a6cc4" stroke-opacity="0.11" stroke-width="0.7"/><polyline points="422.0,69.2 434.4,65.8 446.7,49.0 459.1,47.8 471.4,48.6 483.8,87.3 496.1,87.6 508.5,84.4" stroke="#5a6cc4" stroke-opacity="0.11" stroke-width="0.7"/><polyline points="422.0,71.1 434.4,65.7 446.7,62.4 459.1,60.4 471.4,58.3 483.8,99.8 496.1,80.0 508.5,97.3" stroke="#5a6cc4" stroke-opacity="0.11" stroke-width="0.7"/><polyline points="422.0,64.0 434.4,63.9 446.7,45.5 459.1,41.0 471.4,50.2 483.8,77.7 496.1,70.1 508.5,74.1" stroke="#5a6cc4" stroke-opacity="0.11" stroke-width="0.7"/><polyline points="422.0,66.3 434.4,63.7 446.7,58.6 459.1,49.9 471.4,51.8 483.8,66.8 496.1,72.8 508.5,72.3" stroke="#5a6cc4" stroke-opacity="0.11" stroke-width="0.7"/><polyline points="422.0,69.2 434.4,65.6 446.7,53.5 459.1,45.9 471.4,48.9 483.8,83.1 496.1,71.9 508.5,90.1" stroke="#5a6cc4" stroke-opacity="0.11" stroke-width="0.7"/><polyline points="422.0,68.7 434.4,64.8 446.7,45.5 459.1,51.6 471.4,51.8 483.8,99.7 496.1,79.7 508.5,80.5" stroke="#5a6cc4" stroke-opacity="0.11" stroke-width="0.7"/><polyline points="422.0,68.8 434.4,66.0 446.7,67.5 459.1,62.7 471.4,57.8 483.8,104.2 496.1,81.6 508.5,91.7" stroke="#5a6cc4" stroke-opacity="0.11" stroke-width="0.7"/><polyline points="422.0,65.0 434.4,63.0 446.7,40.4 459.1,44.4 471.4,45.9 483.8,75.7 496.1,67.9 508.5,73.2" stroke="#5a6cc4" stroke-opacity="0.11" stroke-width="0.7"/><polyline points="422.0,69.4 434.4,64.6 446.7,57.5 459.1,56.3 471.4,51.1 483.8,102.4 496.1,77.3 508.5,89.1" stroke="#5a6cc4" stroke-opacity="0.11" stroke-width="0.7"/><polyline points="422.0,67.8 434.4,66.0 446.7,47.5 459.1,50.2 471.4,45.3 483.8,77.9 496.1,83.2 508.5,83.1" stroke="#5a6cc4" stroke-opacity="0.11" stroke-width="0.7"/><polyline points="422.0,71.0 434.4,66.4 446.7,59.1 459.1,65.1 471.4,66.7 483.8,105.9 496.1,91.3 508.5,104.2" stroke="#5a6cc4" stroke-opacity="0.11" stroke-width="0.7"/><polyline points="422.0,70.9 434.4,65.5 446.7,58.2 459.1,64.4 471.4,63.9 483.8,116.3 496.1,82.5 508.5,99.4" stroke="#5a6cc4" stroke-opacity="0.11" stroke-width="0.7"/><polyline points="422.0,69.5 434.4,65.0 446.7,63.9 459.1,57.1 471.4,58.5 483.8,93.8 496.1,84.4 508.5,84.0" stroke="#5a6cc4" stroke-opacity="0.11" stroke-width="0.7"/><polyline points="422.0,65.8 434.4,63.6 446.7,46.6 459.1,41.2 471.4,45.3 483.8,87.1 496.1,69.1 508.5,80.2" stroke="#5a6cc4" stroke-opacity="0.11" stroke-width="0.7"/><polyline points="422.0,70.2 434.4,66.5 446.7,53.3 459.1,66.4 471.4,58.2 483.8,103.5 496.1,94.2 508.5,97.2" stroke="#5a6cc4" stroke-opacity="0.11" stroke-width="0.7"/><polyline points="422.0,61.8 434.4,64.8 446.7,51.6 459.1,50.2 471.4,51.1 483.8,80.2 496.1,72.8 508.5,78.2" stroke="#5a6cc4" stroke-opacity="0.11" stroke-width="0.7"/><polyline points="422.0,66.4 434.4,64.1 446.7,53.3 459.1,62.4 471.4,47.0 483.8,92.6 496.1,84.0 508.5,94.1" stroke="#5a6cc4" stroke-opacity="0.11" stroke-width="0.7"/><polyline points="422.0,64.5 434.4,64.6 446.7,60.0 459.1,55.2 471.4,51.0 483.8,83.7 496.1,87.2 508.5,91.4" stroke="#5a6cc4" stroke-opacity="0.11" stroke-width="0.7"/><polyline points="422.0,67.8 434.4,64.7 446.7,50.3 459.1,54.0 471.4,49.2 483.8,102.0 496.1,87.0 508.5,85.0" stroke="#5a6cc4" stroke-opacity="0.11" stroke-width="0.7"/><polyline points="422.0,67.1 434.4,62.9 446.7,40.4 459.1,52.0 471.4,39.2 483.8,61.5 496.1,76.7 508.5,75.6" stroke="#5a6cc4" stroke-opacity="0.11" stroke-width="0.7"/><polyline points="422.0,71.7 434.4,66.1 446.7,66.6 459.1,65.7 471.4,55.6 483.8,110.7 496.1,90.2 508.5,82.2" stroke="#5a6cc4" stroke-opacity="0.11" stroke-width="0.7"/><polyline points="422.0,67.5 434.4,65.6 446.7,47.6 459.1,57.3 471.4,57.3 483.8,89.2 496.1,80.1 508.5,92.3" stroke="#5a6cc4" stroke-opacity="0.11" stroke-width="0.7"/><polyline points="422.0,64.3 434.4,63.8 446.7,48.9 459.1,51.3 471.4,49.9 483.8,88.0 496.1,69.0 508.5,75.2" stroke="#5a6cc4" stroke-opacity="0.11" stroke-width="0.7"/><polyline points="422.0,63.5 434.4,61.6 446.7,48.4 459.1,41.4 471.4,36.8 483.8,73.5 496.1,61.7 508.5,70.8" stroke="#5a6cc4" stroke-opacity="0.11" stroke-width="0.7"/><polyline points="422.0,72.1 434.4,65.4 446.7,56.4 459.1,69.7 471.4,60.6 483.8,100.2 496.1,87.9 508.5,94.0" stroke="#5a6cc4" stroke-opacity="0.11" stroke-width="0.7"/><polyline points="422.0,66.3 434.4,63.8 446.7,45.0 459.1,47.7 471.4,43.8 483.8,89.4 496.1,75.6 508.5,82.7" stroke="#5a6cc4" stroke-opacity="0.11" stroke-width="0.7"/><polyline points="422.0,65.4 434.4,65.9 446.7,51.4 459.1,57.3 471.4,49.9 483.8,89.3 496.1,75.5 508.5,77.5" stroke="#5a6cc4" stroke-opacity="0.11" stroke-width="0.7"/><polyline points="422.0,67.0 434.4,65.4 446.7,53.5 459.1,54.2 471.4,55.4 483.8,84.5 496.1,80.7 508.5,85.6" stroke="#5a6cc4" stroke-opacity="0.11" stroke-width="0.7"/><polyline points="422.0,72.9 434.4,65.8 446.7,63.3 459.1,64.9 471.4,69.1 483.8,120.0 496.1,93.8 508.5,96.0" stroke="#5a6cc4" stroke-opacity="0.11" stroke-width="0.7"/><polyline points="422.0,65.7 434.4,63.9 446.7,45.7 459.1,54.7 471.4,49.6 483.8,82.5 496.1,69.8 508.5,76.3" stroke="#5a6cc4" stroke-opacity="0.11" stroke-width="0.7"/><polyline points="422.0,66.0 434.4,64.9 446.7,65.6 459.1,58.1 471.4,44.2 483.8,94.4 496.1,83.3 508.5,85.8" stroke="#5a6cc4" stroke-opacity="0.11" stroke-width="0.7"/><polyline points="422.0,66.4 434.4,63.1 446.7,47.3 459.1,52.7 471.4,53.0 483.8,85.1 496.1,80.4 508.5,76.9" stroke="#5a6cc4" stroke-opacity="0.11" stroke-width="0.7"/><polyline points="422.0,62.2 434.4,63.1 446.7,43.3 459.1,44.7 471.4,43.3 483.8,72.2 496.1,70.7 508.5,75.4" stroke="#5a6cc4" stroke-opacity="0.11" stroke-width="0.7"/><polyline points="422.0,64.7 434.4,66.4 446.7,53.2 459.1,53.0 471.4,53.6 483.8,90.5 496.1,78.3 508.5,83.3" stroke="#5a6cc4" stroke-opacity="0.11" stroke-width="0.7"/><polyline points="422.0,63.3 434.4,62.4 446.7,34.3 459.1,38.7 471.4,43.7 483.8,73.4 496.1,74.0 508.5,57.3" stroke="#5a6cc4" stroke-opacity="0.11" stroke-width="0.7"/><polyline points="422.0,68.0 434.4,64.8 446.7,55.3 459.1,56.9 471.4,52.2 483.8,84.4 496.1,89.3 508.5,81.6" stroke="#5a6cc4" stroke-opacity="0.11" stroke-width="0.7"/><polyline points="422.0,63.9 434.4,63.7 446.7,37.9 459.1,39.5 471.4,36.7 483.8,66.5 496.1,70.0 508.5,67.9" stroke="#5a6cc4" stroke-opacity="0.11" stroke-width="0.7"/><polyline points="422.0,64.0 434.4,62.0 446.7,40.7 459.1,41.4 471.4,42.6 483.8,85.8 496.1,67.9 508.5,66.7" stroke="#5a6cc4" stroke-opacity="0.11" stroke-width="0.7"/><polyline points="422.0,67.6 434.4,66.1 446.7,53.7 459.1,61.7 471.4,54.4 483.8,79.1 496.1,83.2 508.5,86.5" stroke="#5a6cc4" stroke-opacity="0.11" stroke-width="0.7"/><polyline points="422.0,71.0 434.4,67.1 446.7,67.2 459.1,71.3 471.4,59.2 483.8,99.3 496.1,95.7 508.5,102.0" stroke="#5a6cc4" stroke-opacity="0.11" stroke-width="0.7"/><polyline points="422.0,72.1 434.4,67.4 446.7,53.9 459.1,59.7 471.4,58.6 483.8,117.6 496.1,88.2 508.5,102.6" stroke="#5a6cc4" stroke-opacity="0.11" stroke-width="0.7"/><polyline points="422.0,71.3 434.4,65.4 446.7,64.8 459.1,52.0 471.4,64.0 483.8,89.8 496.1,86.3 508.5,103.8" stroke="#5a6cc4" stroke-opacity="0.11" stroke-width="0.7"/><polyline points="422.0,65.6 434.4,64.7 446.7,56.0 459.1,40.1 471.4,45.5 483.8,67.2 496.1,72.7 508.5,88.4" stroke="#5a6cc4" stroke-opacity="0.11" stroke-width="0.7"/><polyline points="422.0,66.8 434.4,64.2 446.7,43.0 459.1,58.3 471.4,54.0 483.8,72.7 496.1,78.9 508.5,83.5" stroke="#5a6cc4" stroke-opacity="0.11" stroke-width="0.7"/><polyline points="422.0,65.5 434.4,63.6 446.7,45.5 459.1,48.8 471.4,50.6 483.8,83.8 496.1,86.3 508.5,64.5" stroke="#5a6cc4" stroke-opacity="0.11" stroke-width="0.7"/><polyline points="422.0,62.7 434.4,64.9 446.7,44.0 459.1,48.7 471.4,43.4 483.8,86.0 496.1,78.9 508.5,74.0" stroke="#5a6cc4" stroke-opacity="0.11" stroke-width="0.7"/><polyline points="422.0,69.6 434.4,65.2 446.7,54.6 459.1,54.3 471.4,52.2 483.8,111.9 496.1,80.7 508.5,93.3" stroke="#5a6cc4" stroke-opacity="0.11" stroke-width="0.7"/><polyline points="422.0,66.5 434.4,65.6 446.7,65.3 459.1,51.8 471.4,68.4 483.8,99.7 496.1,86.6 508.5,92.2" stroke="#5a6cc4" stroke-opacity="0.11" stroke-width="0.7"/><polyline points="422.0,68.5 434.4,64.3 446.7,59.9 459.1,63.7 471.4,61.3 483.8,115.2 496.1,84.4 508.5,101.0" stroke="#5a6cc4" stroke-opacity="0.11" stroke-width="0.7"/><polyline points="422.0,69.1 434.4,65.2 446.7,58.6 459.1,61.4 471.4,51.1 483.8,95.6 496.1,79.1 508.5,90.6" stroke="#5a6cc4" stroke-opacity="0.11" stroke-width="0.7"/><polyline points="422.0,66.6 434.4,65.3 446.7,38.9 459.1,52.3 471.4,40.0 483.8,75.6 496.1,83.3 508.5,78.7" stroke="#5a6cc4" stroke-opacity="0.11" stroke-width="0.7"/><polyline points="422.0,62.8 434.4,62.3 446.7,40.9 459.1,43.8 471.4,35.7 483.8,71.4 496.1,66.6 508.5,74.2" stroke="#5a6cc4" stroke-opacity="0.11" stroke-width="0.7"/><polyline points="422.0,67.5 434.4,66.0 446.7,45.7 459.1,58.4 471.4,57.4 483.8,91.7 496.1,80.3 508.5,96.6" stroke="#5a6cc4" stroke-opacity="0.11" stroke-width="0.7"/><polyline points="422.0,66.4 434.4,66.3 446.7,56.4 459.1,52.8 471.4,50.9 483.8,82.1 496.1,77.7 508.5,87.5" stroke="#5a6cc4" stroke-opacity="0.11" stroke-width="0.7"/><polyline points="422.0,64.9 434.4,64.2 446.7,58.7 459.1,60.9 471.4,49.7 483.8,94.0 496.1,79.2 508.5,92.6" stroke="#5a6cc4" stroke-opacity="0.11" stroke-width="0.7"/><polyline points="422.0,68.1 434.4,63.3 446.7,47.1 459.1,47.7 471.4,50.5 483.8,81.7 496.1,78.5 508.5,84.2" stroke="#5a6cc4" stroke-opacity="0.11" stroke-width="0.7"/><polyline points="422.0,66.7 434.4,65.3 446.7,56.8 459.1,53.7 471.4,43.9 483.8,84.4 496.1,74.3 508.5,81.4" stroke="#5a6cc4" stroke-opacity="0.11" stroke-width="0.7"/><polyline points="422.0,67.0 434.4,65.4 446.7,54.9 459.1,54.6 471.4,42.1 483.8,84.2 496.1,71.0 508.5,76.6" stroke="#5a6cc4" stroke-opacity="0.11" stroke-width="0.7"/><polyline points="422.0,67.3 434.4,64.9 446.7,64.5 459.1,65.8 471.4,62.2 483.8,98.8 496.1,87.5 508.5,97.5" stroke="#5a6cc4" stroke-opacity="0.11" stroke-width="0.7"/><polyline points="422.0,68.9 434.4,64.9 446.7,52.9 459.1,54.9 471.4,52.3 483.8,93.5 496.1,81.7 508.5,90.1" stroke="#343f8c" stroke-width="2.7" stroke-linejoin="miter"/></g>
<rect x="422.0" y="37.0" width="86.5" height="86.8" fill="none" stroke="#111" stroke-width="1.3"/>
<rect x="422.0" y="37.0" width="30.0" height="10.6" fill="#fff" stroke="#111" stroke-width="1.3"/>
<text x="424.40" y="44.60" font-size="7.5" text-anchor="start" font-weight="normal" fill="#000" >n = 200</text>
<text x="465.25" y="31.70" font-size="9.7" text-anchor="middle" font-weight="normal" fill="#000" >Cluster C</text>
<line x1="419.0" y1="37.50" x2="422.0" y2="37.50" stroke="#111" stroke-width="1.1"/>
<text x="416.50" y="40.20" font-size="7.5" text-anchor="end" font-weight="normal" fill="#000" >1</text>
<line x1="419.0" y1="65.50" x2="422.0" y2="65.50" stroke="#111" stroke-width="1.1"/>
<text x="416.50" y="68.20" font-size="7.5" text-anchor="end" font-weight="normal" fill="#000" >0</text>
<line x1="419.0" y1="93.50" x2="422.0" y2="93.50" stroke="#111" stroke-width="1.1"/>
<text x="416.50" y="96.20" font-size="7.5" text-anchor="end" font-weight="normal" fill="#000" >-1</text>
<line x1="419.0" y1="121.50" x2="422.0" y2="121.50" stroke="#111" stroke-width="1.1"/>
<text x="416.50" y="124.20" font-size="7.5" text-anchor="end" font-weight="normal" fill="#000" >-2</text>
<line x1="422.00" y1="123.8" x2="422.00" y2="126.8" stroke="#111" stroke-width="1.1"/>
<text transform="translate(424.30,130.40) rotate(-90)" font-size="8.0" text-anchor="end" fill="#000" >Control Rep 1</text>
<line x1="434.36" y1="123.8" x2="434.36" y2="126.8" stroke="#111" stroke-width="1.1"/>
<text transform="translate(436.66,130.40) rotate(-90)" font-size="8.0" text-anchor="end" fill="#000" >Control Rep 2</text>
<line x1="446.71" y1="123.8" x2="446.71" y2="126.8" stroke="#111" stroke-width="1.1"/>
<text transform="translate(449.01,130.40) rotate(-90)" font-size="8.0" text-anchor="end" fill="#000" >EP Rep 2</text>
<line x1="459.07" y1="123.8" x2="459.07" y2="126.8" stroke="#111" stroke-width="1.1"/>
<text transform="translate(461.37,130.40) rotate(-90)" font-size="8.0" text-anchor="end" fill="#000" >EP Rep 1</text>
<line x1="471.43" y1="123.8" x2="471.43" y2="126.8" stroke="#111" stroke-width="1.1"/>
<text transform="translate(473.73,130.40) rotate(-90)" font-size="8.0" text-anchor="end" fill="#000" >EP Rep 3</text>
<line x1="483.79" y1="123.8" x2="483.79" y2="126.8" stroke="#111" stroke-width="1.1"/>
<text transform="translate(486.09,130.40) rotate(-90)" font-size="8.0" text-anchor="end" fill="#000" >TPO Rep 1</text>
<line x1="496.14" y1="123.8" x2="496.14" y2="126.8" stroke="#111" stroke-width="1.1"/>
<text transform="translate(498.44,130.40) rotate(-90)" font-size="8.0" text-anchor="end" fill="#000" >TPO Rep 2</text>
<line x1="508.50" y1="123.8" x2="508.50" y2="126.8" stroke="#111" stroke-width="1.1"/>
<text transform="translate(510.80,130.40) rotate(-90)" font-size="8.0" text-anchor="end" fill="#000" >TPO Rep 3</text>
<text transform="translate(392.70,80.40) rotate(-90)" font-size="8.8" text-anchor="middle" fill="#000">Log<tspan font-size="6.9" dy="2.2">2</tspan><tspan dy="-2.2"> row normalized</tspan></text>
<text transform="translate(403.30,80.40) rotate(-90)" font-size="8.8" text-anchor="middle" fill="#000">mean control signal</text>
<defs><clipPath id="cpB"><rect x="282.5" y="204.0" width="86.5" height="86.80000000000001"/></clipPath></defs>
<g clip-path="url(#cpB)" fill="none"><polyline points="282.5,278.1 294.9,284.3 307.2,257.1 319.6,249.7 331.9,246.0 344.3,279.7 356.6,261.9 369.0,280.9" stroke="#6e7cc8" stroke-opacity="0.12" stroke-width="0.6"/><polyline points="282.5,277.7 294.9,280.1 307.2,241.3 319.6,240.2 331.9,248.4 344.3,258.0 356.6,263.2 369.0,246.1" stroke="#6e7cc8" stroke-opacity="0.12" stroke-width="0.6"/><polyline points="282.5,278.8 294.9,282.1 307.2,263.9 319.6,250.1 331.9,251.5 344.3,273.9 356.6,298.2 369.0,286.3" stroke="#6e7cc8" stroke-opacity="0.12" stroke-width="0.6"/><polyline points="282.5,281.2 294.9,285.2 307.2,260.5 319.6,268.0 331.9,254.1 344.3,280.3 356.6,279.3 369.0,298.2" stroke="#6e7cc8" stroke-opacity="0.12" stroke-width="0.6"/><polyline points="282.5,279.6 294.9,282.4 307.2,243.6 319.6,237.8 331.9,249.7 344.3,250.7 356.6,253.1 369.0,278.9" stroke="#6e7cc8" stroke-opacity="0.12" stroke-width="0.6"/><polyline points="282.5,278.1 294.9,277.7 307.2,245.4 319.6,251.7 331.9,239.1 344.3,254.1 356.6,264.3 369.0,259.3" stroke="#6e7cc8" stroke-opacity="0.12" stroke-width="0.6"/><polyline points="282.5,279.6 294.9,283.5 307.2,259.8 319.6,254.8 331.9,259.4 344.3,267.0 356.6,269.5 369.0,268.1" stroke="#6e7cc8" stroke-opacity="0.12" stroke-width="0.6"/><polyline points="282.5,279.2 294.9,281.6 307.2,235.4 319.6,246.8 331.9,244.3 344.3,275.3 356.6,276.6 369.0,259.5" stroke="#6e7cc8" stroke-opacity="0.12" stroke-width="0.6"/><polyline points="282.5,279.2 294.9,277.4 307.2,248.1 319.6,241.7 331.9,249.7 344.3,272.2 356.6,263.4 369.0,254.5" stroke="#6e7cc8" stroke-opacity="0.12" stroke-width="0.6"/><polyline points="282.5,280.6 294.9,280.5 307.2,247.5 319.6,250.7 331.9,242.0 344.3,268.5 356.6,257.3 369.0,255.8" stroke="#6e7cc8" stroke-opacity="0.12" stroke-width="0.6"/><polyline points="282.5,277.8 294.9,280.9 307.2,251.5 319.6,260.8 331.9,245.1 344.3,274.6 356.6,273.0 369.0,254.2" stroke="#6e7cc8" stroke-opacity="0.12" stroke-width="0.6"/><polyline points="282.5,280.1 294.9,280.6 307.2,248.8 319.6,232.6 331.9,237.9 344.3,265.9 356.6,265.2 369.0,253.5" stroke="#6e7cc8" stroke-opacity="0.12" stroke-width="0.6"/><polyline points="282.5,279.6 294.9,278.1 307.2,245.9 319.6,245.6 331.9,247.9 344.3,254.1 356.6,251.7 369.0,264.5" stroke="#6e7cc8" stroke-opacity="0.12" stroke-width="0.6"/><polyline points="282.5,277.4 294.9,280.1 307.2,239.0 319.6,239.8 331.9,251.4 344.3,241.1 356.6,271.2 369.0,251.5" stroke="#6e7cc8" stroke-opacity="0.12" stroke-width="0.6"/><polyline points="282.5,279.2 294.9,282.9 307.2,240.2 319.6,247.6 331.9,248.2 344.3,271.2 356.6,275.3 369.0,285.1" stroke="#6e7cc8" stroke-opacity="0.12" stroke-width="0.6"/><polyline points="282.5,276.9 294.9,281.3 307.2,237.7 319.6,233.3 331.9,237.3 344.3,251.3 356.6,259.1 369.0,260.6" stroke="#6e7cc8" stroke-opacity="0.12" stroke-width="0.6"/><polyline points="282.5,279.2 294.9,280.7 307.2,255.5 319.6,246.2 331.9,254.8 344.3,259.3 356.6,253.6 369.0,261.5" stroke="#6e7cc8" stroke-opacity="0.12" stroke-width="0.6"/><polyline points="282.5,279.9 294.9,283.6 307.2,251.0 319.6,258.2 331.9,244.7 344.3,271.5 356.6,288.9 369.0,264.5" stroke="#6e7cc8" stroke-opacity="0.12" stroke-width="0.6"/><polyline points="282.5,281.7 294.9,286.5 307.2,254.0 319.6,257.4 331.9,256.9 344.3,279.2 356.6,270.1 369.0,264.2" stroke="#6e7cc8" stroke-opacity="0.12" stroke-width="0.6"/><polyline points="282.5,278.5 294.9,281.6 307.2,232.3 319.6,239.4 331.9,239.7 344.3,264.8 356.6,255.0 369.0,264.4" stroke="#6e7cc8" stroke-opacity="0.12" stroke-width="0.6"/><polyline points="282.5,279.1 294.9,278.1 307.2,239.3 319.6,246.8 331.9,230.4 344.3,238.7 356.6,263.8 369.0,265.7" stroke="#6e7cc8" stroke-opacity="0.12" stroke-width="0.6"/><polyline points="282.5,280.1 294.9,280.6 307.2,254.7 319.6,258.3 331.9,245.1 344.3,259.5 356.6,265.6 369.0,277.2" stroke="#6e7cc8" stroke-opacity="0.12" stroke-width="0.6"/><polyline points="282.5,280.7 294.9,278.7 307.2,235.1 319.6,248.1 331.9,243.4 344.3,251.3 356.6,257.6 369.0,266.4" stroke="#6e7cc8" stroke-opacity="0.12" stroke-width="0.6"/><polyline points="282.5,278.1 294.9,287.1 307.2,238.5 319.6,241.8 331.9,244.1 344.3,253.9 356.6,254.4 369.0,275.7" stroke="#6e7cc8" stroke-opacity="0.12" stroke-width="0.6"/><polyline points="282.5,278.7 294.9,286.6 307.2,248.0 319.6,249.7 331.9,250.1 344.3,269.5 356.6,266.6 369.0,269.4" stroke="#6e7cc8" stroke-opacity="0.12" stroke-width="0.6"/><polyline points="282.5,277.7 294.9,285.9 307.2,255.1 319.6,245.6 331.9,240.2 344.3,275.6 356.6,258.7 369.0,276.6" stroke="#6e7cc8" stroke-opacity="0.12" stroke-width="0.6"/><polyline points="282.5,281.5 294.9,283.8 307.2,257.1 319.6,261.0 331.9,263.0 344.3,263.9 356.6,281.7 369.0,296.2" stroke="#6e7cc8" stroke-opacity="0.12" stroke-width="0.6"/><polyline points="282.5,279.2 294.9,281.5 307.2,249.9 319.6,244.4 331.9,247.0 344.3,278.4 356.6,264.7 369.0,263.8" stroke="#6e7cc8" stroke-opacity="0.12" stroke-width="0.6"/><polyline points="282.5,281.5 294.9,284.2 307.2,245.8 319.6,257.4 331.9,257.6 344.3,274.6 356.6,284.6 369.0,269.6" stroke="#6e7cc8" stroke-opacity="0.12" stroke-width="0.6"/><polyline points="282.5,281.3 294.9,278.6 307.2,237.2 319.6,249.0 331.9,239.1 344.3,262.2 356.6,276.4 369.0,270.7" stroke="#6e7cc8" stroke-opacity="0.12" stroke-width="0.6"/><polyline points="282.5,277.7 294.9,284.7 307.2,238.8 319.6,239.9 331.9,251.6 344.3,250.8 356.6,256.7 369.0,269.1" stroke="#6e7cc8" stroke-opacity="0.12" stroke-width="0.6"/><polyline points="282.5,280.0 294.9,279.8 307.2,242.7 319.6,249.4 331.9,245.8 344.3,270.6 356.6,258.5 369.0,266.3" stroke="#6e7cc8" stroke-opacity="0.12" stroke-width="0.6"/><polyline points="282.5,277.3 294.9,282.2 307.2,247.0 319.6,249.1 331.9,242.0 344.3,262.2 356.6,269.4 369.0,269.6" stroke="#6e7cc8" stroke-opacity="0.12" stroke-width="0.6"/><polyline points="282.5,279.5 294.9,281.3 307.2,241.8 319.6,238.2 331.9,241.8 344.3,267.5 356.6,268.9 369.0,276.7" stroke="#6e7cc8" stroke-opacity="0.12" stroke-width="0.6"/><polyline points="282.5,283.3 294.9,285.2 307.2,255.6 319.6,262.4 331.9,254.4 344.3,272.4 356.6,276.7 369.0,259.8" stroke="#6e7cc8" stroke-opacity="0.12" stroke-width="0.6"/><polyline points="282.5,280.5 294.9,284.8 307.2,259.0 319.6,252.9 331.9,264.0 344.3,283.7 356.6,287.9 369.0,278.1" stroke="#6e7cc8" stroke-opacity="0.12" stroke-width="0.6"/><polyline points="282.5,278.8 294.9,282.6 307.2,253.9 319.6,243.9 331.9,239.1 344.3,241.2 356.6,268.4 369.0,269.6" stroke="#6e7cc8" stroke-opacity="0.12" stroke-width="0.6"/><polyline points="282.5,279.4 294.9,285.9 307.2,247.3 319.6,247.7 331.9,239.2 344.3,262.9 356.6,273.5 369.0,273.2" stroke="#6e7cc8" stroke-opacity="0.12" stroke-width="0.6"/><polyline points="282.5,278.6 294.9,275.6 307.2,235.6 319.6,239.4 331.9,233.5 344.3,239.7 356.6,244.4 369.0,252.4" stroke="#6e7cc8" stroke-opacity="0.12" stroke-width="0.6"/><polyline points="282.5,279.9 294.9,281.2 307.2,240.6 319.6,236.1 331.9,250.6 344.3,276.6 356.6,280.6 369.0,278.3" stroke="#6e7cc8" stroke-opacity="0.12" stroke-width="0.6"/><polyline points="282.5,280.2 294.9,281.5 307.2,247.4 319.6,251.5 331.9,247.2 344.3,274.4 356.6,270.8 369.0,266.3" stroke="#6e7cc8" stroke-opacity="0.12" stroke-width="0.6"/><polyline points="282.5,279.2 294.9,283.3 307.2,248.1 319.6,245.0 331.9,245.5 344.3,263.9 356.6,263.7 369.0,274.3" stroke="#6e7cc8" stroke-opacity="0.12" stroke-width="0.6"/><polyline points="282.5,279.1 294.9,280.3 307.2,243.3 319.6,247.2 331.9,245.2 344.3,271.2 356.6,275.8 369.0,250.8" stroke="#6e7cc8" stroke-opacity="0.12" stroke-width="0.6"/><polyline points="282.5,282.3 294.9,284.5 307.2,258.4 319.6,258.9 331.9,250.4 344.3,260.6 356.6,268.1 369.0,285.2" stroke="#6e7cc8" stroke-opacity="0.12" stroke-width="0.6"/><polyline points="282.5,279.5 294.9,279.8 307.2,251.6 319.6,251.6 331.9,250.7 344.3,262.4 356.6,274.7 369.0,276.5" stroke="#6e7cc8" stroke-opacity="0.12" stroke-width="0.6"/><polyline points="282.5,278.1 294.9,280.6 307.2,238.0 319.6,249.4 331.9,248.8 344.3,269.7 356.6,264.0 369.0,266.4" stroke="#6e7cc8" stroke-opacity="0.12" stroke-width="0.6"/><polyline points="282.5,278.7 294.9,281.6 307.2,243.3 319.6,245.6 331.9,251.0 344.3,259.0 356.6,264.2 369.0,276.6" stroke="#6e7cc8" stroke-opacity="0.12" stroke-width="0.6"/><polyline points="282.5,280.6 294.9,284.9 307.2,240.6 319.6,258.5 331.9,260.5 344.3,264.5 356.6,273.7 369.0,262.6" stroke="#6e7cc8" stroke-opacity="0.12" stroke-width="0.6"/><polyline points="282.5,280.0 294.9,277.6 307.2,248.5 319.6,243.7 331.9,251.9 344.3,270.4 356.6,265.1 369.0,279.8" stroke="#6e7cc8" stroke-opacity="0.12" stroke-width="0.6"/><polyline points="282.5,277.4 294.9,278.3 307.2,243.4 319.6,236.3 331.9,247.4 344.3,268.1 356.6,255.7 369.0,255.3" stroke="#6e7cc8" stroke-opacity="0.12" stroke-width="0.6"/><polyline points="282.5,280.4 294.9,281.6 307.2,240.9 319.6,238.8 331.9,242.5 344.3,261.0 356.6,268.6 369.0,264.1" stroke="#6e7cc8" stroke-opacity="0.12" stroke-width="0.6"/><polyline points="282.5,279.1 294.9,281.1 307.2,245.5 319.6,240.0 331.9,231.7 344.3,271.1 356.6,271.6 369.0,254.4" stroke="#6e7cc8" stroke-opacity="0.12" stroke-width="0.6"/><polyline points="282.5,277.8 294.9,280.9 307.2,249.6 319.6,240.1 331.9,236.5 344.3,246.7 356.6,278.6 369.0,255.5" stroke="#6e7cc8" stroke-opacity="0.12" stroke-width="0.6"/><polyline points="282.5,277.4 294.9,278.7 307.2,245.5 319.6,248.0 331.9,237.1 344.3,270.7 356.6,255.2 369.0,236.0" stroke="#6e7cc8" stroke-opacity="0.12" stroke-width="0.6"/><polyline points="282.5,279.1 294.9,279.9 307.2,243.4 319.6,249.7 331.9,242.7 344.3,276.8 356.6,267.0 369.0,258.1" stroke="#6e7cc8" stroke-opacity="0.12" stroke-width="0.6"/><polyline points="282.5,279.4 294.9,279.8 307.2,254.8 319.6,240.9 331.9,236.5 344.3,263.4 356.6,256.6 369.0,257.6" stroke="#6e7cc8" stroke-opacity="0.12" stroke-width="0.6"/><polyline points="282.5,278.2 294.9,281.7 307.2,242.1 319.6,240.9 331.9,244.2 344.3,273.4 356.6,268.9 369.0,295.8" stroke="#6e7cc8" stroke-opacity="0.12" stroke-width="0.6"/><polyline points="282.5,281.2 294.9,288.4 307.2,256.2 319.6,259.5 331.9,254.7 344.3,287.8 356.6,299.5 369.0,290.3" stroke="#6e7cc8" stroke-opacity="0.12" stroke-width="0.6"/><polyline points="282.5,277.5 294.9,284.8 307.2,238.9 319.6,240.9 331.9,243.9 344.3,252.1 356.6,272.3 369.0,253.1" stroke="#6e7cc8" stroke-opacity="0.12" stroke-width="0.6"/><polyline points="282.5,278.6 294.9,281.4 307.2,245.8 319.6,250.1 331.9,243.7 344.3,249.6 356.6,275.6 369.0,273.9" stroke="#6e7cc8" stroke-opacity="0.12" stroke-width="0.6"/><polyline points="282.5,278.8 294.9,279.3 307.2,241.4 319.6,245.9 331.9,247.3 344.3,257.1 356.6,262.7 369.0,262.2" stroke="#6e7cc8" stroke-opacity="0.12" stroke-width="0.6"/><polyline points="282.5,277.7 294.9,281.3 307.2,231.8 319.6,239.6 331.9,246.4 344.3,270.2 356.6,262.8 369.0,261.7" stroke="#6e7cc8" stroke-opacity="0.12" stroke-width="0.6"/><polyline points="282.5,280.4 294.9,288.9 307.2,251.7 319.6,258.4 331.9,239.6 344.3,276.0 356.6,288.0 369.0,281.9" stroke="#6e7cc8" stroke-opacity="0.12" stroke-width="0.6"/><polyline points="282.5,278.3 294.9,280.1 307.2,240.5 319.6,238.6 331.9,244.7 344.3,259.4 356.6,275.3 369.0,249.3" stroke="#6e7cc8" stroke-opacity="0.12" stroke-width="0.6"/><polyline points="282.5,280.9 294.9,280.7 307.2,235.1 319.6,244.7 331.9,240.5 344.3,272.5 356.6,255.2 369.0,270.2" stroke="#6e7cc8" stroke-opacity="0.12" stroke-width="0.6"/><polyline points="282.5,276.3 294.9,276.5 307.2,229.2 319.6,226.6 331.9,233.0 344.3,252.2 356.6,245.1 369.0,250.1" stroke="#6e7cc8" stroke-opacity="0.12" stroke-width="0.6"/><polyline points="282.5,279.4 294.9,279.9 307.2,252.0 319.6,251.9 331.9,243.2 344.3,268.5 356.6,261.7 369.0,270.4" stroke="#6e7cc8" stroke-opacity="0.12" stroke-width="0.6"/><polyline points="282.5,281.6 294.9,279.9 307.2,245.2 319.6,248.3 331.9,251.7 344.3,253.9 356.6,266.7 369.0,261.2" stroke="#6e7cc8" stroke-opacity="0.12" stroke-width="0.6"/><polyline points="282.5,276.5 294.9,277.8 307.2,241.8 319.6,241.3 331.9,238.8 344.3,240.8 356.6,243.4 369.0,239.5" stroke="#6e7cc8" stroke-opacity="0.12" stroke-width="0.6"/><polyline points="282.5,278.6 294.9,281.0 307.2,242.1 319.6,261.6 331.9,246.0 344.3,270.7 356.6,271.2 369.0,274.6" stroke="#6e7cc8" stroke-opacity="0.12" stroke-width="0.6"/><polyline points="282.5,278.6 294.9,282.4 307.2,241.9 319.6,249.8 331.9,252.1 344.3,272.4 356.6,271.2 369.0,275.0" stroke="#6e7cc8" stroke-opacity="0.12" stroke-width="0.6"/><polyline points="282.5,279.6 294.9,283.5 307.2,253.7 319.6,247.5 331.9,252.9 344.3,260.5 356.6,268.8 369.0,258.0" stroke="#6e7cc8" stroke-opacity="0.12" stroke-width="0.6"/><polyline points="282.5,279.6 294.9,279.6 307.2,242.4 319.6,233.7 331.9,238.4 344.3,243.9 356.6,267.2 369.0,240.8" stroke="#6e7cc8" stroke-opacity="0.12" stroke-width="0.6"/><polyline points="282.5,278.4 294.9,278.6 307.2,238.3 319.6,246.6 331.9,248.1 344.3,246.7 356.6,246.7 369.0,267.0" stroke="#6e7cc8" stroke-opacity="0.12" stroke-width="0.6"/><polyline points="282.5,279.9 294.9,277.6 307.2,254.1 319.6,238.7 331.9,242.8 344.3,283.3 356.6,278.2 369.0,264.3" stroke="#6e7cc8" stroke-opacity="0.12" stroke-width="0.6"/><polyline points="282.5,279.1 294.9,276.5 307.2,244.6 319.6,235.3 331.9,252.1 344.3,228.5 356.6,269.5 369.0,269.7" stroke="#6e7cc8" stroke-opacity="0.12" stroke-width="0.6"/><polyline points="282.5,277.4 294.9,277.5 307.2,246.8 319.6,245.4 331.9,246.0 344.3,265.4 356.6,258.8 369.0,266.5" stroke="#6e7cc8" stroke-opacity="0.12" stroke-width="0.6"/><polyline points="282.5,279.4 294.9,284.0 307.2,244.7 319.6,255.9 331.9,251.7 344.3,283.1 356.6,274.1 369.0,265.9" stroke="#6e7cc8" stroke-opacity="0.12" stroke-width="0.6"/><polyline points="282.5,280.5 294.9,284.2 307.2,250.9 319.6,249.7 331.9,241.6 344.3,269.9 356.6,281.7 369.0,264.0" stroke="#6e7cc8" stroke-opacity="0.12" stroke-width="0.6"/><polyline points="282.5,280.2 294.9,283.4 307.2,261.0 319.6,250.7 331.9,252.2 344.3,279.7 356.6,269.2 369.0,283.4" stroke="#6e7cc8" stroke-opacity="0.12" stroke-width="0.6"/><polyline points="282.5,279.6 294.9,280.1 307.2,250.8 319.6,251.4 331.9,254.0 344.3,276.0 356.6,272.5 369.0,267.3" stroke="#6e7cc8" stroke-opacity="0.12" stroke-width="0.6"/><polyline points="282.5,277.0 294.9,279.1 307.2,233.8 319.6,235.7 331.9,232.3 344.3,244.0 356.6,255.8 369.0,249.7" stroke="#6e7cc8" stroke-opacity="0.12" stroke-width="0.6"/><polyline points="282.5,279.0 294.9,282.7 307.2,260.7 319.6,255.6 331.9,237.5 344.3,270.9 356.6,266.0 369.0,268.0" stroke="#6e7cc8" stroke-opacity="0.12" stroke-width="0.6"/><polyline points="282.5,278.5 294.9,281.5 307.2,242.5 319.6,249.6 331.9,248.4 344.3,264.5 356.6,288.1 369.0,281.4" stroke="#6e7cc8" stroke-opacity="0.12" stroke-width="0.6"/><polyline points="282.5,280.3 294.9,279.2 307.2,248.5 319.6,243.8 331.9,241.9 344.3,261.6 356.6,260.7 369.0,264.9" stroke="#6e7cc8" stroke-opacity="0.12" stroke-width="0.6"/><polyline points="282.5,278.0 294.9,278.3 307.2,252.3 319.6,244.4 331.9,242.5 344.3,277.5 356.6,263.7 369.0,274.7" stroke="#6e7cc8" stroke-opacity="0.12" stroke-width="0.6"/><polyline points="282.5,279.3 294.9,280.6 307.2,249.0 319.6,244.1 331.9,252.0 344.3,267.0 356.6,280.1 369.0,275.5" stroke="#6e7cc8" stroke-opacity="0.12" stroke-width="0.6"/><polyline points="282.5,278.6 294.9,281.3 307.2,240.6 319.6,246.3 331.9,244.5 344.3,251.8 356.6,275.1 369.0,266.0" stroke="#6e7cc8" stroke-opacity="0.12" stroke-width="0.6"/><polyline points="282.5,275.1 294.9,274.5 307.2,240.4 319.6,238.7 331.9,238.0 344.3,263.0 356.6,256.8 369.0,260.2" stroke="#6e7cc8" stroke-opacity="0.12" stroke-width="0.6"/><polyline points="282.5,281.3 294.9,288.4 307.2,260.0 319.6,250.4 331.9,257.3 344.3,263.7 356.6,283.8 369.0,272.2" stroke="#6e7cc8" stroke-opacity="0.12" stroke-width="0.6"/><polyline points="282.5,278.8 294.9,280.9 307.2,241.4 319.6,248.4 331.9,246.4 344.3,276.1 356.6,257.8 369.0,272.8" stroke="#6e7cc8" stroke-opacity="0.12" stroke-width="0.6"/><polyline points="282.5,281.8 294.9,288.1 307.2,258.3 319.6,255.4 331.9,261.1 344.3,295.9 356.6,288.3 369.0,282.0" stroke="#6e7cc8" stroke-opacity="0.12" stroke-width="0.6"/><polyline points="282.5,280.0 294.9,284.8 307.2,241.0 319.6,239.0 331.9,246.0 344.3,265.2 356.6,275.5 369.0,260.6" stroke="#6e7cc8" stroke-opacity="0.12" stroke-width="0.6"/><polyline points="282.5,281.0 294.9,284.3 307.2,255.0 319.6,257.6 331.9,252.0 344.3,283.1 356.6,269.0 369.0,295.9" stroke="#6e7cc8" stroke-opacity="0.12" stroke-width="0.6"/><polyline points="282.5,279.7 294.9,282.6 307.2,249.8 319.6,254.5 331.9,257.0 344.3,273.5 356.6,278.2 369.0,274.2" stroke="#6e7cc8" stroke-opacity="0.12" stroke-width="0.6"/><polyline points="282.5,279.8 294.9,285.0 307.2,247.1 319.6,248.4 331.9,239.3 344.3,274.0 356.6,282.4 369.0,269.6" stroke="#6e7cc8" stroke-opacity="0.12" stroke-width="0.6"/><polyline points="282.5,278.2 294.9,284.9 307.2,254.1 319.6,250.3 331.9,244.5 344.3,267.4 356.6,287.6 369.0,284.6" stroke="#6e7cc8" stroke-opacity="0.12" stroke-width="0.6"/><polyline points="282.5,278.8 294.9,277.5 307.2,226.5 319.6,230.5 331.9,228.9 344.3,256.1 356.6,259.8 369.0,248.9" stroke="#6e7cc8" stroke-opacity="0.12" stroke-width="0.6"/><polyline points="282.5,276.6 294.9,280.0 307.2,248.2 319.6,239.7 331.9,232.6 344.3,258.8 356.6,281.7 369.0,277.7" stroke="#6e7cc8" stroke-opacity="0.12" stroke-width="0.6"/><polyline points="282.5,281.0 294.9,281.7 307.2,239.3 319.6,244.8 331.9,242.0 344.3,278.3 356.6,255.9 369.0,267.3" stroke="#6e7cc8" stroke-opacity="0.12" stroke-width="0.6"/><polyline points="282.5,278.3 294.9,281.0 307.2,256.9 319.6,251.1 331.9,251.0 344.3,264.5 356.6,273.9 369.0,280.3" stroke="#6e7cc8" stroke-opacity="0.12" stroke-width="0.6"/><polyline points="282.5,277.7 294.9,277.9 307.2,219.6 319.6,234.0 331.9,237.3 344.3,243.3 356.6,240.8 369.0,268.5" stroke="#6e7cc8" stroke-opacity="0.12" stroke-width="0.6"/><polyline points="282.5,278.2 294.9,283.9 307.2,246.2 319.6,248.2 331.9,248.7 344.3,277.1 356.6,285.3 369.0,268.9" stroke="#6e7cc8" stroke-opacity="0.12" stroke-width="0.6"/><polyline points="282.5,278.9 294.9,286.4 307.2,254.8 319.6,255.1 331.9,250.4 344.3,281.6 356.6,275.2 369.0,271.4" stroke="#6e7cc8" stroke-opacity="0.12" stroke-width="0.6"/><polyline points="282.5,280.2 294.9,285.2 307.2,249.6 319.6,250.9 331.9,242.0 344.3,275.6 356.6,278.7 369.0,269.8" stroke="#6e7cc8" stroke-opacity="0.12" stroke-width="0.6"/><polyline points="282.5,280.4 294.9,279.0 307.2,239.9 319.6,259.5 331.9,243.1 344.3,277.9 356.6,258.8 369.0,277.8" stroke="#6e7cc8" stroke-opacity="0.12" stroke-width="0.6"/><polyline points="282.5,280.1 294.9,276.1 307.2,240.3 319.6,247.2 331.9,235.4 344.3,242.9 356.6,267.6 369.0,255.6" stroke="#6e7cc8" stroke-opacity="0.12" stroke-width="0.6"/><polyline points="282.5,277.2 294.9,278.0 307.2,244.0 319.6,245.8 331.9,249.8 344.3,253.2 356.6,269.1 369.0,264.1" stroke="#6e7cc8" stroke-opacity="0.12" stroke-width="0.6"/><polyline points="282.5,279.4 294.9,280.6 307.2,235.7 319.6,247.3 331.9,235.4 344.3,247.3 356.6,268.3 369.0,262.1" stroke="#6e7cc8" stroke-opacity="0.12" stroke-width="0.6"/><polyline points="282.5,277.4 294.9,282.8 307.2,249.4 319.6,232.0 331.9,257.2 344.3,277.6 356.6,259.0 369.0,261.4" stroke="#6e7cc8" stroke-opacity="0.12" stroke-width="0.6"/><polyline points="282.5,279.2 294.9,279.9 307.2,218.7 319.6,213.3 331.9,204.0 344.3,223.6 356.6,261.5 369.0,240.7" stroke="#c4c8e0" stroke-opacity="0.55" stroke-width="0.6"/><polyline points="282.5,280.5 294.9,282.2 307.2,224.5 319.6,223.4 331.9,196.5 344.3,211.0 356.6,256.0 369.0,250.4" stroke="#c4c8e0" stroke-opacity="0.55" stroke-width="0.6"/><polyline points="282.5,280.1 294.9,280.1 307.2,214.6 319.6,228.6 331.9,227.9 344.3,282.9 356.6,241.3 369.0,265.0" stroke="#c4c8e0" stroke-opacity="0.55" stroke-width="0.6"/><polyline points="282.5,279.7 294.9,281.5 307.2,227.4 319.6,214.7 331.9,206.7 344.3,249.2 356.6,241.5 369.0,259.0" stroke="#c4c8e0" stroke-opacity="0.55" stroke-width="0.6"/><polyline points="282.5,279.3 294.9,279.5 307.2,226.1 319.6,230.0 331.9,202.1 344.3,235.3 356.6,256.6 369.0,233.2" stroke="#c4c8e0" stroke-opacity="0.55" stroke-width="0.6"/><polyline points="282.5,278.8 294.9,281.0 307.2,218.0 319.6,216.3 331.9,203.2 344.3,235.2 356.6,230.0 369.0,265.6" stroke="#c4c8e0" stroke-opacity="0.55" stroke-width="0.6"/><polyline points="282.5,280.6 294.9,280.7 307.2,206.5 319.6,213.8 331.9,211.9 344.3,236.5 356.6,243.1 369.0,247.7" stroke="#c4c8e0" stroke-opacity="0.55" stroke-width="0.6"/><polyline points="282.5,279.6 294.9,282.3 307.2,214.4 319.6,207.9 331.9,217.6 344.3,245.8 356.6,247.7 369.0,274.5" stroke="#c4c8e0" stroke-opacity="0.55" stroke-width="0.6"/><polyline points="282.5,279.2 294.9,280.7 307.2,246.0 319.6,246.0 331.9,245.4 344.3,267.1 356.6,270.1 369.0,267.7" stroke="#343f8c" stroke-width="2.7" stroke-linejoin="miter"/></g>
<rect x="282.5" y="204.0" width="86.5" height="86.80000000000001" fill="none" stroke="#111" stroke-width="1.3"/>
<rect x="282.5" y="204.0" width="28.9" height="10.6" fill="#fff" stroke="#111" stroke-width="1.3"/>
<text x="284.90" y="211.60" font-size="7.5" text-anchor="start" font-weight="normal" fill="#000" >n = 116</text>
<text x="325.75" y="198.70" font-size="9.7" text-anchor="middle" font-weight="normal" fill="#000" >Cluster B</text>
<line x1="279.5" y1="218.80" x2="282.5" y2="218.80" stroke="#111" stroke-width="1.1"/>
<text x="277.00" y="221.50" font-size="7.5" text-anchor="end" font-weight="normal" fill="#000" >2</text>
<line x1="279.5" y1="249.00" x2="282.5" y2="249.00" stroke="#111" stroke-width="1.1"/>
<text x="277.00" y="251.70" font-size="7.5" text-anchor="end" font-weight="normal" fill="#000" >1</text>
<line x1="279.5" y1="279.20" x2="282.5" y2="279.20" stroke="#111" stroke-width="1.1"/>
<text x="277.00" y="281.90" font-size="7.5" text-anchor="end" font-weight="normal" fill="#000" >0</text>
<line x1="282.50" y1="290.8" x2="282.50" y2="293.8" stroke="#111" stroke-width="1.1"/>
<text transform="translate(284.80,297.40) rotate(-90)" font-size="8.0" text-anchor="end" fill="#000" >Control Rep 1</text>
<line x1="294.86" y1="290.8" x2="294.86" y2="293.8" stroke="#111" stroke-width="1.1"/>
<text transform="translate(297.16,297.40) rotate(-90)" font-size="8.0" text-anchor="end" fill="#000" >Control Rep 2</text>
<line x1="307.21" y1="290.8" x2="307.21" y2="293.8" stroke="#111" stroke-width="1.1"/>
<text transform="translate(309.51,297.40) rotate(-90)" font-size="8.0" text-anchor="end" fill="#000" >EP Rep 2</text>
<line x1="319.57" y1="290.8" x2="319.57" y2="293.8" stroke="#111" stroke-width="1.1"/>
<text transform="translate(321.87,297.40) rotate(-90)" font-size="8.0" text-anchor="end" fill="#000" >EP Rep 1</text>
<line x1="331.93" y1="290.8" x2="331.93" y2="293.8" stroke="#111" stroke-width="1.1"/>
<text transform="translate(334.23,297.40) rotate(-90)" font-size="8.0" text-anchor="end" fill="#000" >EP Rep 3</text>
<line x1="344.29" y1="290.8" x2="344.29" y2="293.8" stroke="#111" stroke-width="1.1"/>
<text transform="translate(346.59,297.40) rotate(-90)" font-size="8.0" text-anchor="end" fill="#000" >TPO Rep 1</text>
<line x1="356.64" y1="290.8" x2="356.64" y2="293.8" stroke="#111" stroke-width="1.1"/>
<text transform="translate(358.94,297.40) rotate(-90)" font-size="8.0" text-anchor="end" fill="#000" >TPO Rep 2</text>
<line x1="369.00" y1="290.8" x2="369.00" y2="293.8" stroke="#111" stroke-width="1.1"/>
<text transform="translate(371.30,297.40) rotate(-90)" font-size="8.0" text-anchor="end" fill="#000" >TPO Rep 3</text>
<text transform="translate(255.10,247.40) rotate(-90)" font-size="8.8" text-anchor="middle" fill="#000">Log<tspan font-size="6.9" dy="2.2">2</tspan><tspan dy="-2.2"> row normalized</tspan></text>
<text transform="translate(265.70,247.40) rotate(-90)" font-size="8.8" text-anchor="middle" fill="#000">mean control signal</text>
<defs><clipPath id="cpD"><rect x="422.0" y="204.0" width="86.5" height="86.80000000000001"/></clipPath></defs>
<g clip-path="url(#cpD)" fill="none"><polyline points="422.0,256.2 434.4,254.2 446.7,267.4 459.1,253.2 471.4,248.0 483.8,223.4 496.1,220.5 508.5,209.2" stroke="#8892c8" stroke-opacity="0.16" stroke-width="0.6"/><polyline points="422.0,259.7 434.4,267.0 446.7,283.4 459.1,267.6 471.4,279.7 483.8,223.9 496.1,247.6 508.5,233.8" stroke="#8892c8" stroke-opacity="0.16" stroke-width="0.6"/><polyline points="422.0,256.4 434.4,250.8 446.7,273.0 459.1,249.9 471.4,277.2 483.8,233.7 496.1,225.0 508.5,224.5" stroke="#8892c8" stroke-opacity="0.16" stroke-width="0.6"/><polyline points="422.0,257.5 434.4,256.4 446.7,261.5 459.1,281.6 471.4,262.2 483.8,206.8 496.1,229.7 508.5,216.7" stroke="#8892c8" stroke-opacity="0.16" stroke-width="0.6"/><polyline points="422.0,254.3 434.4,261.9 446.7,262.1 459.1,264.9 471.4,275.8 483.8,232.8 496.1,223.4 508.5,222.7" stroke="#8892c8" stroke-opacity="0.16" stroke-width="0.6"/><polyline points="422.0,260.8 434.4,265.8 446.7,271.1 459.1,257.1 471.4,291.1 483.8,234.3 496.1,242.1 508.5,235.1" stroke="#8892c8" stroke-opacity="0.16" stroke-width="0.6"/><polyline points="422.0,255.5 434.4,257.4 446.7,262.5 459.1,262.4 471.4,282.3 483.8,235.1 496.1,245.7 508.5,235.4" stroke="#8892c8" stroke-opacity="0.16" stroke-width="0.6"/><polyline points="422.0,256.4 434.4,266.0 446.7,251.9 459.1,259.8 471.4,287.1 483.8,231.1 496.1,235.9 508.5,243.1" stroke="#8892c8" stroke-opacity="0.16" stroke-width="0.6"/><polyline points="422.0,255.0 434.4,248.4 446.7,242.2 459.1,249.8 471.4,260.6 483.8,223.3 496.1,230.4 508.5,222.4" stroke="#8892c8" stroke-opacity="0.16" stroke-width="0.6"/><polyline points="422.0,259.1 434.4,255.0 446.7,263.2 459.1,249.1 471.4,269.2 483.8,224.0 496.1,237.0 508.5,237.1" stroke="#8892c8" stroke-opacity="0.16" stroke-width="0.6"/><polyline points="422.0,250.4 434.4,245.3 446.7,253.4 459.1,246.1 471.4,268.8 483.8,219.8 496.1,210.6 508.5,208.8" stroke="#8892c8" stroke-opacity="0.16" stroke-width="0.6"/><polyline points="422.0,255.5 434.4,261.0 446.7,255.7 459.1,258.6 471.4,268.6 483.8,214.8 496.1,241.1 508.5,231.9" stroke="#8892c8" stroke-opacity="0.16" stroke-width="0.6"/><polyline points="422.0,252.9 434.4,242.5 446.7,243.2 459.1,247.9 471.4,257.6 483.8,210.7 496.1,221.8 508.5,234.6" stroke="#8892c8" stroke-opacity="0.16" stroke-width="0.6"/><polyline points="422.0,256.8 434.4,255.7 446.7,256.6 459.1,244.5 471.4,263.6 483.8,221.1 496.1,226.1 508.5,218.2" stroke="#8892c8" stroke-opacity="0.16" stroke-width="0.6"/><polyline points="422.0,249.1 434.4,248.2 446.7,250.7 459.1,239.7 471.4,245.9 483.8,201.2 496.1,219.2 508.5,206.9" stroke="#8892c8" stroke-opacity="0.16" stroke-width="0.6"/><polyline points="422.0,251.3 434.4,250.2 446.7,252.0 459.1,257.1 471.4,268.7 483.8,227.0 496.1,217.5 508.5,214.2" stroke="#8892c8" stroke-opacity="0.16" stroke-width="0.6"/><polyline points="422.0,255.6 434.4,257.1 446.7,259.3 459.1,264.8 471.4,257.2 483.8,223.4 496.1,221.4 508.5,223.5" stroke="#8892c8" stroke-opacity="0.16" stroke-width="0.6"/><polyline points="422.0,258.9 434.4,246.6 446.7,256.5 459.1,251.5 471.4,261.1 483.8,230.2 496.1,232.7 508.5,219.8" stroke="#8892c8" stroke-opacity="0.16" stroke-width="0.6"/><polyline points="422.0,256.6 434.4,263.1 446.7,277.5 459.1,250.6 471.4,253.4 483.8,225.3 496.1,239.8 508.5,232.7" stroke="#8892c8" stroke-opacity="0.16" stroke-width="0.6"/><polyline points="422.0,261.2 434.4,268.1 446.7,263.8 459.1,273.8 471.4,274.7 483.8,233.5 496.1,234.8 508.5,231.3" stroke="#8892c8" stroke-opacity="0.16" stroke-width="0.6"/><polyline points="422.0,260.3 434.4,263.8 446.7,266.8 459.1,250.3 471.4,271.4 483.8,242.8 496.1,234.7 508.5,234.1" stroke="#8892c8" stroke-opacity="0.16" stroke-width="0.6"/><polyline points="422.0,258.8 434.4,264.0 446.7,252.4 459.1,267.4 471.4,256.1 483.8,236.4 496.1,239.0 508.5,220.6" stroke="#8892c8" stroke-opacity="0.16" stroke-width="0.6"/><polyline points="422.0,253.7 434.4,258.3 446.7,264.5 459.1,266.5 471.4,265.1 483.8,219.9 496.1,226.6 508.5,220.6" stroke="#8892c8" stroke-opacity="0.16" stroke-width="0.6"/><polyline points="422.0,255.4 434.4,259.0 446.7,268.8 459.1,270.3 471.4,259.6 483.8,229.2 496.1,235.5 508.5,219.2" stroke="#8892c8" stroke-opacity="0.16" stroke-width="0.6"/><polyline points="422.0,260.5 434.4,266.9 446.7,261.6 459.1,287.9 471.4,288.2 483.8,221.8 496.1,255.7 508.5,250.8" stroke="#8892c8" stroke-opacity="0.16" stroke-width="0.6"/><polyline points="422.0,253.9 434.4,255.5 446.7,252.4 459.1,253.2 471.4,271.8 483.8,217.0 496.1,227.8 508.5,226.9" stroke="#8892c8" stroke-opacity="0.16" stroke-width="0.6"/><polyline points="422.0,257.7 434.4,266.2 446.7,251.4 459.1,267.8 471.4,279.0 483.8,218.7 496.1,240.2 508.5,222.0" stroke="#8892c8" stroke-opacity="0.16" stroke-width="0.6"/><polyline points="422.0,255.8 434.4,254.4 446.7,253.6 459.1,260.7 471.4,258.7 483.8,221.2 496.1,224.0 508.5,228.8" stroke="#8892c8" stroke-opacity="0.16" stroke-width="0.6"/><polyline points="422.0,258.4 434.4,270.1 446.7,270.1 459.1,269.5 471.4,290.9 483.8,236.4 496.1,224.0 508.5,238.3" stroke="#8892c8" stroke-opacity="0.16" stroke-width="0.6"/><polyline points="422.0,255.8 434.4,264.0 446.7,236.8 459.1,245.0 471.4,256.4 483.8,224.9 496.1,232.5 508.5,227.9" stroke="#8892c8" stroke-opacity="0.16" stroke-width="0.6"/><polyline points="422.0,261.8 434.4,263.8 446.7,248.7 459.1,255.2 471.4,276.6 483.8,237.2 496.1,229.5 508.5,224.7" stroke="#8892c8" stroke-opacity="0.16" stroke-width="0.6"/><polyline points="422.0,255.0 434.4,267.0 446.7,257.6 459.1,246.7 471.4,266.1 483.8,229.0 496.1,231.5 508.5,212.1" stroke="#8892c8" stroke-opacity="0.16" stroke-width="0.6"/><polyline points="422.0,263.0 434.4,269.7 446.7,283.5 459.1,279.7 471.4,297.9 483.8,239.4 496.1,234.7 508.5,233.4" stroke="#8892c8" stroke-opacity="0.16" stroke-width="0.6"/><polyline points="422.0,256.0 434.4,261.5 446.7,263.0 459.1,257.5 471.4,255.0 483.8,205.9 496.1,238.2 508.5,205.8" stroke="#8892c8" stroke-opacity="0.16" stroke-width="0.6"/><polyline points="422.0,254.0 434.4,263.2 446.7,270.1 459.1,250.4 471.4,253.1 483.8,228.5 496.1,221.6 508.5,214.4" stroke="#8892c8" stroke-opacity="0.16" stroke-width="0.6"/><polyline points="422.0,257.1 434.4,260.6 446.7,263.5 459.1,256.8 471.4,267.4 483.8,214.8 496.1,221.1 508.5,220.0" stroke="#8892c8" stroke-opacity="0.16" stroke-width="0.6"/><polyline points="422.0,256.6 434.4,246.5 446.7,255.4 459.1,237.8 471.4,262.1 483.8,208.6 496.1,213.0 508.5,210.1" stroke="#8892c8" stroke-opacity="0.16" stroke-width="0.6"/><polyline points="422.0,257.1 434.4,256.0 446.7,264.3 459.1,256.2 471.4,259.3 483.8,229.8 496.1,230.3 508.5,220.8" stroke="#8892c8" stroke-opacity="0.16" stroke-width="0.6"/><polyline points="422.0,257.9 434.4,258.8 446.7,271.0 459.1,281.4 471.4,267.1 483.8,238.1 496.1,229.2 508.5,226.7" stroke="#8892c8" stroke-opacity="0.16" stroke-width="0.6"/><polyline points="422.0,261.0 434.4,271.3 446.7,269.9 459.1,274.8 471.4,272.4 483.8,244.6 496.1,239.3 508.5,235.7" stroke="#8892c8" stroke-opacity="0.16" stroke-width="0.6"/><polyline points="422.0,254.1 434.4,258.1 446.7,271.1 459.1,263.5 471.4,272.4 483.8,224.4 496.1,223.5 508.5,236.3" stroke="#8892c8" stroke-opacity="0.16" stroke-width="0.6"/><polyline points="422.0,256.5 434.4,261.5 446.7,256.1 459.1,254.5 471.4,265.3 483.8,224.7 496.1,238.9 508.5,233.1" stroke="#8892c8" stroke-opacity="0.16" stroke-width="0.6"/><polyline points="422.0,250.8 434.4,255.0 446.7,258.7 459.1,249.7 471.4,280.5 483.8,236.4 496.1,230.4 508.5,230.7" stroke="#8892c8" stroke-opacity="0.16" stroke-width="0.6"/><polyline points="422.0,257.1 434.4,255.9 446.7,249.9 459.1,266.8 471.4,276.9 483.8,228.9 496.1,227.6 508.5,226.5" stroke="#8892c8" stroke-opacity="0.16" stroke-width="0.6"/><polyline points="422.0,262.1 434.4,260.2 446.7,268.7 459.1,257.1 471.4,270.6 483.8,238.6 496.1,235.8 508.5,240.5" stroke="#8892c8" stroke-opacity="0.16" stroke-width="0.6"/><polyline points="422.0,252.8 434.4,257.9 446.7,270.1 459.1,245.4 471.4,260.9 483.8,221.5 496.1,215.5 508.5,219.0" stroke="#8892c8" stroke-opacity="0.16" stroke-width="0.6"/><polyline points="422.0,258.3 434.4,264.2 446.7,260.7 459.1,251.6 471.4,260.3 483.8,240.1 496.1,226.7 508.5,230.0" stroke="#8892c8" stroke-opacity="0.16" stroke-width="0.6"/><polyline points="422.0,252.5 434.4,249.9 446.7,252.4 459.1,250.0 471.4,269.8 483.8,225.5 496.1,233.9 508.5,223.7" stroke="#8892c8" stroke-opacity="0.16" stroke-width="0.6"/><polyline points="422.0,259.8 434.4,257.1 446.7,255.9 459.1,257.2 471.4,269.8 483.8,220.9 496.1,232.5 508.5,224.6" stroke="#8892c8" stroke-opacity="0.16" stroke-width="0.6"/><polyline points="422.0,261.4 434.4,267.1 446.7,274.4 459.1,269.3 471.4,253.1 483.8,242.6 496.1,217.1 508.5,230.6" stroke="#8892c8" stroke-opacity="0.16" stroke-width="0.6"/><polyline points="422.0,255.7 434.4,254.3 446.7,262.8 459.1,258.8 471.4,252.7 483.8,226.7 496.1,235.0 508.5,215.2" stroke="#8892c8" stroke-opacity="0.16" stroke-width="0.6"/><polyline points="422.0,251.6 434.4,250.5 446.7,267.4 459.1,249.0 471.4,258.8 483.8,214.4 496.1,220.2 508.5,223.6" stroke="#8892c8" stroke-opacity="0.16" stroke-width="0.6"/><polyline points="422.0,260.5 434.4,270.8 446.7,279.6 459.1,258.8 471.4,286.9 483.8,242.0 496.1,255.5 508.5,238.4" stroke="#8892c8" stroke-opacity="0.16" stroke-width="0.6"/><polyline points="422.0,256.9 434.4,259.9 446.7,278.9 459.1,264.7 471.4,271.6 483.8,224.1 496.1,232.0 508.5,226.1" stroke="#8892c8" stroke-opacity="0.16" stroke-width="0.6"/><polyline points="422.0,254.0 434.4,257.2 446.7,251.6 459.1,262.0 471.4,283.4 483.8,220.6 496.1,223.8 508.5,233.3" stroke="#8892c8" stroke-opacity="0.16" stroke-width="0.6"/><polyline points="422.0,257.7 434.4,255.2 446.7,265.5 459.1,265.4 471.4,261.0 483.8,226.2 496.1,227.5 508.5,230.2" stroke="#8892c8" stroke-opacity="0.16" stroke-width="0.6"/><polyline points="422.0,255.4 434.4,254.9 446.7,252.6 459.1,261.8 471.4,274.1 483.8,227.9 496.1,231.7 508.5,210.8" stroke="#8892c8" stroke-opacity="0.16" stroke-width="0.6"/><polyline points="422.0,256.3 434.4,254.5 446.7,242.1 459.1,245.5 471.4,255.9 483.8,221.5 496.1,212.9 508.5,215.7" stroke="#8892c8" stroke-opacity="0.16" stroke-width="0.6"/><polyline points="422.0,256.9 434.4,252.1 446.7,239.2 459.1,261.5 471.4,286.9 483.8,227.0 496.1,231.7 508.5,225.6" stroke="#8892c8" stroke-opacity="0.16" stroke-width="0.6"/><polyline points="422.0,256.5 434.4,248.1 446.7,265.4 459.1,257.4 471.4,269.7 483.8,238.8 496.1,230.0 508.5,234.8" stroke="#8892c8" stroke-opacity="0.16" stroke-width="0.6"/><polyline points="422.0,256.7 434.4,255.3 446.7,256.4 459.1,267.1 471.4,270.6 483.8,220.6 496.1,237.7 508.5,230.3" stroke="#8892c8" stroke-opacity="0.16" stroke-width="0.6"/><polyline points="422.0,255.1 434.4,257.5 446.7,256.5 459.1,250.3 471.4,262.9 483.8,226.4 496.1,228.8 508.5,214.2" stroke="#8892c8" stroke-opacity="0.16" stroke-width="0.6"/><polyline points="422.0,257.7 434.4,264.6 446.7,261.5 459.1,271.3 471.4,254.0 483.8,217.7 496.1,237.0 508.5,227.7" stroke="#8892c8" stroke-opacity="0.16" stroke-width="0.6"/><polyline points="422.0,255.6 434.4,250.3 446.7,256.1 459.1,253.6 471.4,297.8 483.8,237.2 496.1,237.4 508.5,235.5" stroke="#8892c8" stroke-opacity="0.16" stroke-width="0.6"/><polyline points="422.0,255.7 434.4,262.8 446.7,254.8 459.1,250.5 471.4,266.1 483.8,217.6 496.1,219.9 508.5,232.9" stroke="#8892c8" stroke-opacity="0.16" stroke-width="0.6"/><polyline points="422.0,259.2 434.4,255.0 446.7,251.3 459.1,263.5 471.4,274.8 483.8,226.9 496.1,225.3 508.5,226.6" stroke="#8892c8" stroke-opacity="0.16" stroke-width="0.6"/><polyline points="422.0,254.4 434.4,260.8 446.7,272.8 459.1,249.8 471.4,281.2 483.8,230.7 496.1,227.4 508.5,234.1" stroke="#8892c8" stroke-opacity="0.16" stroke-width="0.6"/><polyline points="422.0,251.6 434.4,265.8 446.7,265.7 459.1,245.5 471.4,261.6 483.8,212.2 496.1,212.0 508.5,219.2" stroke="#8892c8" stroke-opacity="0.16" stroke-width="0.6"/><polyline points="422.0,255.3 434.4,265.7 446.7,259.6 459.1,248.7 471.4,285.8 483.8,235.6 496.1,218.4 508.5,234.6" stroke="#8892c8" stroke-opacity="0.16" stroke-width="0.6"/><polyline points="422.0,255.4 434.4,261.7 446.7,253.0 459.1,248.6 471.4,255.8 483.8,204.5 496.1,218.6 508.5,220.1" stroke="#8892c8" stroke-opacity="0.16" stroke-width="0.6"/><polyline points="422.0,255.3 434.4,255.4 446.7,265.6 459.1,258.8 471.4,268.8 483.8,238.7 496.1,240.7 508.5,231.5" stroke="#8892c8" stroke-opacity="0.16" stroke-width="0.6"/><polyline points="422.0,256.6 434.4,259.6 446.7,253.7 459.1,255.1 471.4,257.8 483.8,222.4 496.1,218.7 508.5,214.0" stroke="#8892c8" stroke-opacity="0.16" stroke-width="0.6"/><polyline points="422.0,257.2 434.4,259.9 446.7,253.7 459.1,236.4 471.4,273.7 483.8,221.9 496.1,231.5 508.5,224.2" stroke="#8892c8" stroke-opacity="0.16" stroke-width="0.6"/><polyline points="422.0,253.7 434.4,253.8 446.7,252.3 459.1,244.2 471.4,242.8 483.8,214.3 496.1,216.1 508.5,207.7" stroke="#8892c8" stroke-opacity="0.16" stroke-width="0.6"/><polyline points="422.0,258.1 434.4,253.4 446.7,257.0 459.1,258.5 471.4,279.9 483.8,245.1 496.1,229.5 508.5,227.6" stroke="#8892c8" stroke-opacity="0.16" stroke-width="0.6"/><polyline points="422.0,256.3 434.4,257.3 446.7,262.1 459.1,259.4 471.4,271.8 483.8,229.5 496.1,229.8 508.5,228.1" stroke="#343f8c" stroke-width="2.7" stroke-linejoin="miter"/></g>
<rect x="422.0" y="204.0" width="86.5" height="86.80000000000001" fill="none" stroke="#111" stroke-width="1.3"/>
<rect x="422.0" y="204.0" width="29.9" height="10.6" fill="#fff" stroke="#111" stroke-width="1.3"/>
<text x="426.10" y="211.60" font-size="7.5" text-anchor="start" font-weight="normal" fill="#000" >n = 78</text>
<text x="465.25" y="198.70" font-size="9.7" text-anchor="middle" font-weight="normal" fill="#000" >Cluster D</text>
<line x1="419.0" y1="221.90" x2="422.0" y2="221.90" stroke="#111" stroke-width="1.1"/>
<text x="416.50" y="224.60" font-size="7.5" text-anchor="end" font-weight="normal" fill="#000" >1</text>
<line x1="419.0" y1="256.30" x2="422.0" y2="256.30" stroke="#111" stroke-width="1.1"/>
<text x="416.50" y="259.00" font-size="7.5" text-anchor="end" font-weight="normal" fill="#000" >0</text>
<line x1="419.0" y1="290.70" x2="422.0" y2="290.70" stroke="#111" stroke-width="1.1"/>
<text x="416.50" y="293.40" font-size="7.5" text-anchor="end" font-weight="normal" fill="#000" >-1</text>
<line x1="422.00" y1="290.8" x2="422.00" y2="293.8" stroke="#111" stroke-width="1.1"/>
<text transform="translate(424.30,297.40) rotate(-90)" font-size="8.0" text-anchor="end" fill="#000" >Control Rep 1</text>
<line x1="434.36" y1="290.8" x2="434.36" y2="293.8" stroke="#111" stroke-width="1.1"/>
<text transform="translate(436.66,297.40) rotate(-90)" font-size="8.0" text-anchor="end" fill="#000" >Control Rep 2</text>
<line x1="446.71" y1="290.8" x2="446.71" y2="293.8" stroke="#111" stroke-width="1.1"/>
<text transform="translate(449.01,297.40) rotate(-90)" font-size="8.0" text-anchor="end" fill="#000" >EP Rep 2</text>
<line x1="459.07" y1="290.8" x2="459.07" y2="293.8" stroke="#111" stroke-width="1.1"/>
<text transform="translate(461.37,297.40) rotate(-90)" font-size="8.0" text-anchor="end" fill="#000" >EP Rep 1</text>
<line x1="471.43" y1="290.8" x2="471.43" y2="293.8" stroke="#111" stroke-width="1.1"/>
<text transform="translate(473.73,297.40) rotate(-90)" font-size="8.0" text-anchor="end" fill="#000" >EP Rep 3</text>
<line x1="483.79" y1="290.8" x2="483.79" y2="293.8" stroke="#111" stroke-width="1.1"/>
<text transform="translate(486.09,297.40) rotate(-90)" font-size="8.0" text-anchor="end" fill="#000" >TPO Rep 1</text>
<line x1="496.14" y1="290.8" x2="496.14" y2="293.8" stroke="#111" stroke-width="1.1"/>
<text transform="translate(498.44,297.40) rotate(-90)" font-size="8.0" text-anchor="end" fill="#000" >TPO Rep 2</text>
<line x1="508.50" y1="290.8" x2="508.50" y2="293.8" stroke="#111" stroke-width="1.1"/>
<text transform="translate(510.80,297.40) rotate(-90)" font-size="8.0" text-anchor="end" fill="#000" >TPO Rep 3</text>
<text transform="translate(392.70,247.40) rotate(-90)" font-size="8.8" text-anchor="middle" fill="#000">Log<tspan font-size="6.9" dy="2.2">2</tspan><tspan dy="-2.2"> row normalized</tspan></text>
<text transform="translate(403.30,247.40) rotate(-90)" font-size="8.8" text-anchor="middle" fill="#000">mean control signal</text>
<text x="124.70" y="386.70" font-size="9.8" text-anchor="middle" font-weight="normal" fill="#000" >REACTOME INTERFERON</text>
<text x="124.70" y="398.30" font-size="9.95" text-anchor="middle" font-weight="normal" fill="#000" >ALPHA BETA SIGNALING</text>
<line x1="51.8" y1="406.0" x2="197.6" y2="406.0" stroke="#f1f1f1" stroke-width="0.6"/><line x1="51.8" y1="414.1" x2="197.6" y2="414.1" stroke="#f1f1f1" stroke-width="0.6"/><line x1="51.8" y1="422.2" x2="197.6" y2="422.2" stroke="#f1f1f1" stroke-width="0.6"/><line x1="51.8" y1="430.4" x2="197.6" y2="430.4" stroke="#f1f1f1" stroke-width="0.6"/><line x1="51.8" y1="438.5" x2="197.6" y2="438.5" stroke="#f1f1f1" stroke-width="0.6"/><line x1="51.8" y1="446.6" x2="197.6" y2="446.6" stroke="#f1f1f1" stroke-width="0.6"/><line x1="51.8" y1="454.8" x2="197.6" y2="454.8" stroke="#f1f1f1" stroke-width="0.6"/><line x1="51.8" y1="462.9" x2="197.6" y2="462.9" stroke="#f1f1f1" stroke-width="0.6"/><line x1="51.8" y1="471.0" x2="197.6" y2="471.0" stroke="#f1f1f1" stroke-width="0.6"/><line x1="51.8" y1="479.1" x2="197.6" y2="479.1" stroke="#f1f1f1" stroke-width="0.6"/><line x1="82" y1="404.0" x2="82" y2="480.2" stroke="#f3f3f3" stroke-width="0.6"/><line x1="112" y1="404.0" x2="112" y2="480.2" stroke="#f3f3f3" stroke-width="0.6"/><line x1="142" y1="404.0" x2="142" y2="480.2" stroke="#f3f3f3" stroke-width="0.6"/><line x1="172" y1="404.0" x2="172" y2="480.2" stroke="#f3f3f3" stroke-width="0.6"/>
<line x1="51.8" y1="406.0" x2="197.6" y2="406.0" stroke="#c8c8c8" stroke-width="0.8"/>
<line x1="51.8" y1="480.2" x2="197.6" y2="480.2" stroke="#c8c8c8" stroke-width="0.8"/>
<line x1="63.0" y1="480.8" x2="63.0" y2="505.5" stroke="#555" stroke-width="0.92"/><line x1="81.0" y1="480.8" x2="81.0" y2="505.5" stroke="#555" stroke-width="0.92"/><line x1="90.2" y1="480.8" x2="90.2" y2="505.5" stroke="#666" stroke-width="0.80"/><line x1="97.1" y1="480.8" x2="97.1" y2="505.5" stroke="#777" stroke-width="0.80"/><line x1="109.6" y1="480.8" x2="109.6" y2="505.5" stroke="#555" stroke-width="0.80"/><line x1="111.5" y1="480.8" x2="111.5" y2="505.5" stroke="#888" stroke-width="0.69"/><line x1="122.7" y1="480.8" x2="122.7" y2="505.5" stroke="#555" stroke-width="0.92"/><line x1="125.5" y1="480.8" x2="125.5" y2="505.5" stroke="#777" stroke-width="0.69"/><line x1="146.0" y1="480.8" x2="146.0" y2="505.5" stroke="#666" stroke-width="0.69"/><line x1="158.6" y1="480.8" x2="158.6" y2="505.5" stroke="#888" stroke-width="0.69"/><line x1="170.8" y1="480.8" x2="170.8" y2="505.5" stroke="#999" stroke-width="0.80"/><line x1="172.5" y1="480.8" x2="172.5" y2="505.5" stroke="#777" stroke-width="0.80"/><line x1="175.5" y1="480.8" x2="175.5" y2="505.5" stroke="#444" stroke-width="1.03"/><line x1="177.0" y1="480.8" x2="177.0" y2="505.5" stroke="#333" stroke-width="1.03"/><line x1="178.5" y1="480.8" x2="178.5" y2="505.5" stroke="#222" stroke-width="1.15"/><line x1="180.0" y1="480.8" x2="180.0" y2="505.5" stroke="#111" stroke-width="1.26"/><line x1="181.5" y1="480.8" x2="181.5" y2="505.5" stroke="#222" stroke-width="1.15"/><line x1="183.0" y1="480.8" x2="183.0" y2="505.5" stroke="#333" stroke-width="1.15"/><line x1="184.5" y1="480.8" x2="184.5" y2="505.5" stroke="#222" stroke-width="0.92"/><line x1="186.0" y1="480.8" x2="186.0" y2="505.5" stroke="#444" stroke-width="0.92"/><line x1="187.5" y1="480.8" x2="187.5" y2="505.5" stroke="#111" stroke-width="1.15"/><line x1="189.2" y1="480.8" x2="189.2" y2="505.5" stroke="#111" stroke-width="1.26"/>
<defs><linearGradient id="g404r" x1="0" x2="1"><stop offset="0" stop-color="#cc4456"/><stop offset="1" stop-color="#de7888"/></linearGradient><linearGradient id="g404p" x1="0" x2="1"><stop offset="0" stop-color="#f0c0da"/><stop offset="0.45" stop-color="#efd4e8"/><stop offset="1" stop-color="#dcd6ee"/></linearGradient></defs>
<rect x="52.3" y="505.5" width="47.0" height="6.5" fill="url(#g404r)"/><rect x="99.2" y="505.5" width="54.9" height="6.5" fill="url(#g404p)"/><rect x="154" y="505.5" width="12.1" height="6.5" fill="#7466bc"/><rect x="166" y="505.5" width="23.7" height="6.5" fill="#5a4cb0"/>
<polyline points="52.0,406.0 57.0,409.5 59.0,410.5 60.0,409.8 62.0,411.5 70.0,415.5 80.0,421.0 90.0,426.5 100.0,432.0 110.0,437.8 120.0,443.5 130.0,449.5 140.0,455.5 150.0,461.5 160.0,467.5 168.0,472.5 172.0,474.8 176.0,476.8 178.0,477.3 179.5,476.2 181.3,473.7 183.0,472.0 184.2,470.8 185.5,469.0 186.6,467.2 187.7,460.1 188.7,450.7 189.5,435.4 189.9,417.7 190.1,406.5" fill="none" stroke="#88ad44" stroke-width="1.35" stroke-linejoin="round"/>
<rect x="51.8" y="404.0" width="145.8" height="108.0" fill="none" stroke="#111" stroke-width="1.4"/>
<line x1="49.0" y1="406.0" x2="51.8" y2="406.0" stroke="#111" stroke-width="1.15"/>
<text x="45.80" y="408.50" font-size="7.2" text-anchor="end" font-weight="normal" fill="#000" >0.0</text>
<line x1="49.0" y1="414.1" x2="51.8" y2="414.1" stroke="#111" stroke-width="1.15"/>
<line x1="49.0" y1="422.2" x2="51.8" y2="422.2" stroke="#111" stroke-width="1.15"/>
<text x="45.80" y="424.75" font-size="7.2" text-anchor="end" font-weight="normal" fill="#000" >-0.2</text>
<line x1="49.0" y1="430.4" x2="51.8" y2="430.4" stroke="#111" stroke-width="1.15"/>
<line x1="49.0" y1="438.5" x2="51.8" y2="438.5" stroke="#111" stroke-width="1.15"/>
<text x="45.80" y="441.00" font-size="7.2" text-anchor="end" font-weight="normal" fill="#000" >-0.4</text>
<line x1="49.0" y1="446.6" x2="51.8" y2="446.6" stroke="#111" stroke-width="1.15"/>
<line x1="49.0" y1="454.8" x2="51.8" y2="454.8" stroke="#111" stroke-width="1.15"/>
<text x="45.80" y="457.25" font-size="7.2" text-anchor="end" font-weight="normal" fill="#000" >-0.6</text>
<line x1="49.0" y1="462.9" x2="51.8" y2="462.9" stroke="#111" stroke-width="1.15"/>
<line x1="49.0" y1="471.0" x2="51.8" y2="471.0" stroke="#111" stroke-width="1.15"/>
<text x="45.80" y="473.50" font-size="7.2" text-anchor="end" font-weight="normal" fill="#000" >-0.8</text>
<text transform="translate(27.6,437.4) rotate(-90)" font-size="8.95" text-anchor="middle" fill="#000">Enrichment score</text>
<text x="53.50" y="521.80" font-size="7.5" text-anchor="start" font-weight="normal" fill="#000" >Positive</text>
<text x="52.40" y="530.50" font-size="7.5" text-anchor="start" font-weight="normal" fill="#000" >(Control)</text>
<text x="86.30" y="521.80" font-size="7.5" text-anchor="start" font-weight="normal" fill="#000" >Direction of Correlation</text>
<text x="198.20" y="521.80" font-size="7.5" text-anchor="end" font-weight="normal" fill="#000" >Negative</text>
<text x="183.60" y="530.50" font-size="7.5" text-anchor="middle" font-weight="normal" fill="#000" >(EP)</text>
<line x1="51.8" y1="547.5" x2="197.6" y2="547.5" stroke="#f1f1f1" stroke-width="0.6"/><line x1="51.8" y1="557.6" x2="197.6" y2="557.6" stroke="#f1f1f1" stroke-width="0.6"/><line x1="51.8" y1="567.8" x2="197.6" y2="567.8" stroke="#f1f1f1" stroke-width="0.6"/><line x1="51.8" y1="578.0" x2="197.6" y2="578.0" stroke="#f1f1f1" stroke-width="0.6"/><line x1="51.8" y1="588.1" x2="197.6" y2="588.1" stroke="#f1f1f1" stroke-width="0.6"/><line x1="51.8" y1="598.2" x2="197.6" y2="598.2" stroke="#f1f1f1" stroke-width="0.6"/><line x1="51.8" y1="608.4" x2="197.6" y2="608.4" stroke="#f1f1f1" stroke-width="0.6"/><line x1="82" y1="542.0" x2="82" y2="618.3" stroke="#f3f3f3" stroke-width="0.6"/><line x1="112" y1="542.0" x2="112" y2="618.3" stroke="#f3f3f3" stroke-width="0.6"/><line x1="142" y1="542.0" x2="142" y2="618.3" stroke="#f3f3f3" stroke-width="0.6"/><line x1="172" y1="542.0" x2="172" y2="618.3" stroke="#f3f3f3" stroke-width="0.6"/>
<line x1="51.8" y1="547.5" x2="197.6" y2="547.5" stroke="#c8c8c8" stroke-width="0.8"/>
<line x1="51.8" y1="618.3" x2="197.6" y2="618.3" stroke="#c8c8c8" stroke-width="0.8"/>
<line x1="56.8" y1="618.9" x2="56.8" y2="643.7" stroke="#666" stroke-width="0.80"/><line x1="65.6" y1="618.9" x2="65.6" y2="643.7" stroke="#666" stroke-width="0.80"/><line x1="77.2" y1="618.9" x2="77.2" y2="643.7" stroke="#555" stroke-width="0.80"/><line x1="86.4" y1="618.9" x2="86.4" y2="643.7" stroke="#666" stroke-width="0.80"/><line x1="91.9" y1="618.9" x2="91.9" y2="643.7" stroke="#444" stroke-width="1.15"/><line x1="105.7" y1="618.9" x2="105.7" y2="643.7" stroke="#666" stroke-width="0.80"/><line x1="117.5" y1="618.9" x2="117.5" y2="643.7" stroke="#555" stroke-width="0.92"/><line x1="119.6" y1="618.9" x2="119.6" y2="643.7" stroke="#666" stroke-width="0.92"/><line x1="121.3" y1="618.9" x2="121.3" y2="643.7" stroke="#888" stroke-width="0.69"/><line x1="124.8" y1="618.9" x2="124.8" y2="643.7" stroke="#777" stroke-width="0.69"/><line x1="127.8" y1="618.9" x2="127.8" y2="643.7" stroke="#888" stroke-width="0.69"/><line x1="132.1" y1="618.9" x2="132.1" y2="643.7" stroke="#666" stroke-width="0.69"/><line x1="147.7" y1="618.9" x2="147.7" y2="643.7" stroke="#555" stroke-width="0.92"/><line x1="149.3" y1="618.9" x2="149.3" y2="643.7" stroke="#777" stroke-width="0.80"/><line x1="151.0" y1="618.9" x2="151.0" y2="643.7" stroke="#555" stroke-width="0.92"/><line x1="159.8" y1="618.9" x2="159.8" y2="643.7" stroke="#444" stroke-width="0.92"/><line x1="165.0" y1="618.9" x2="165.0" y2="643.7" stroke="#666" stroke-width="0.80"/><line x1="168.4" y1="618.9" x2="168.4" y2="643.7" stroke="#333" stroke-width="1.03"/><line x1="171.9" y1="618.9" x2="171.9" y2="643.7" stroke="#555" stroke-width="0.80"/><line x1="175.4" y1="618.9" x2="175.4" y2="643.7" stroke="#444" stroke-width="0.92"/><line x1="177.0" y1="618.9" x2="177.0" y2="643.7" stroke="#666" stroke-width="0.92"/><line x1="179.7" y1="618.9" x2="179.7" y2="643.7" stroke="#222" stroke-width="1.03"/><line x1="181.4" y1="618.9" x2="181.4" y2="643.7" stroke="#333" stroke-width="1.03"/><line x1="183.2" y1="618.9" x2="183.2" y2="643.7" stroke="#222" stroke-width="1.15"/><line x1="184.8" y1="618.9" x2="184.8" y2="643.7" stroke="#333" stroke-width="1.15"/><line x1="186.4" y1="618.9" x2="186.4" y2="643.7" stroke="#222" stroke-width="1.15"/><line x1="190.0" y1="618.9" x2="190.0" y2="643.7" stroke="#999" stroke-width="0.69"/>
<defs><linearGradient id="g542r" x1="0" x2="1"><stop offset="0" stop-color="#cc4456"/><stop offset="1" stop-color="#de7888"/></linearGradient><linearGradient id="g542p" x1="0" x2="1"><stop offset="0" stop-color="#f0c0da"/><stop offset="0.45" stop-color="#efd4e8"/><stop offset="1" stop-color="#dcd6ee"/></linearGradient></defs>
<rect x="52.3" y="643.7" width="44.6" height="6.5" fill="url(#g542r)"/><rect x="96.8" y="643.7" width="57.3" height="6.5" fill="url(#g542p)"/><rect x="154" y="643.7" width="12.1" height="6.5" fill="#7466bc"/><rect x="166" y="643.7" width="23.7" height="6.5" fill="#5a4cb0"/>
<polyline points="52.0,547.5 53.5,548.5 55.0,546.2 56.5,545.6 60.0,547.8 63.0,549.8 65.2,550.8 66.0,550.4 70.0,553.2 77.3,558.3 80.0,559.8 86.0,564.2 90.0,566.5 93.5,568.8 100.0,573.0 110.0,579.5 120.0,586.0 130.0,592.3 140.0,599.5 146.5,605.2 150.0,606.6 151.8,606.8 155.9,609.6 160.0,612.0 161.8,612.4 166.5,614.3 169.5,611.0 171.8,610.9 174.2,612.3 177.7,607.9 178.9,608.4 181.3,601.5 183.0,599.0 184.2,592.0 185.4,581.5 187.7,569.0 190.1,570.1 190.7,546.5" fill="none" stroke="#88ad44" stroke-width="1.35" stroke-linejoin="round"/>
<rect x="51.8" y="542.0" width="145.8" height="108.2" fill="none" stroke="#111" stroke-width="1.4"/>
<line x1="49.0" y1="547.5" x2="51.8" y2="547.5" stroke="#111" stroke-width="1.15"/>
<text x="45.80" y="550.00" font-size="7.2" text-anchor="end" font-weight="normal" fill="#000" >0.0</text>
<line x1="49.0" y1="557.6" x2="51.8" y2="557.6" stroke="#111" stroke-width="1.15"/>
<line x1="49.0" y1="567.8" x2="51.8" y2="567.8" stroke="#111" stroke-width="1.15"/>
<text x="45.80" y="570.30" font-size="7.2" text-anchor="end" font-weight="normal" fill="#000" >-0.2</text>
<line x1="49.0" y1="578.0" x2="51.8" y2="578.0" stroke="#111" stroke-width="1.15"/>
<line x1="49.0" y1="588.1" x2="51.8" y2="588.1" stroke="#111" stroke-width="1.15"/>
<text x="45.80" y="590.60" font-size="7.2" text-anchor="end" font-weight="normal" fill="#000" >-0.4</text>
<line x1="49.0" y1="598.2" x2="51.8" y2="598.2" stroke="#111" stroke-width="1.15"/>
<line x1="49.0" y1="608.4" x2="51.8" y2="608.4" stroke="#111" stroke-width="1.15"/>
<text x="45.80" y="610.90" font-size="7.2" text-anchor="end" font-weight="normal" fill="#000" >-0.6</text>
<text transform="translate(27.6,577.4) rotate(-90)" font-size="8.95" text-anchor="middle" fill="#000">Enrichment score</text>
<text x="53.50" y="660.00" font-size="7.5" text-anchor="start" font-weight="normal" fill="#000" >Positive</text>
<text x="52.40" y="668.70" font-size="7.5" text-anchor="start" font-weight="normal" fill="#000" >(Control)</text>
<text x="86.30" y="660.00" font-size="7.5" text-anchor="start" font-weight="normal" fill="#000" >Direction of Correlation</text>
<text x="198.20" y="660.00" font-size="7.5" text-anchor="end" font-weight="normal" fill="#000" >Negative</text>
<text x="183.60" y="668.70" font-size="7.5" text-anchor="middle" font-weight="normal" fill="#000" >(TPO)</text>
<text x="268.40" y="385.00" font-size="7.5" text-anchor="middle" font-weight="normal" fill="#000" >Enriched Interferon Alpha</text>
<text x="268.70" y="394.10" font-size="7.5" text-anchor="middle" font-weight="normal" fill="#000" >Beta Signaling Genes</text>
<g><rect x="256.00" y="399.20" width="5.00" height="6.49" fill="#f8f6fa"/><rect x="260.95" y="399.20" width="5.00" height="6.49" fill="#f8f6fa"/><rect x="265.90" y="399.20" width="5.00" height="6.49" fill="#d42a2a"/><rect x="270.85" y="399.20" width="5.00" height="6.49" fill="#d83838"/><rect x="275.80" y="399.20" width="5.00" height="6.49" fill="#d42a2a"/><rect x="280.75" y="399.20" width="5.00" height="6.49" fill="#ecebf6"/><rect x="285.70" y="399.20" width="5.00" height="6.49" fill="#5060b0"/><rect x="290.65" y="399.20" width="5.00" height="6.49" fill="#d8d8f0"/><rect x="256.00" y="405.64" width="5.00" height="6.49" fill="#9aa0d0"/><rect x="260.95" y="405.64" width="5.00" height="6.49" fill="#f8f6fa"/><rect x="265.90" y="405.64" width="5.00" height="6.49" fill="#f0c0c0"/><rect x="270.85" y="405.64" width="5.00" height="6.49" fill="#f0b8b8"/><rect x="275.80" y="405.64" width="5.00" height="6.49" fill="#eeaaaa"/><rect x="280.75" y="405.64" width="5.00" height="6.49" fill="#f8f6fa"/><rect x="285.70" y="405.64" width="5.00" height="6.49" fill="#c8c8e8"/><rect x="290.65" y="405.64" width="5.00" height="6.49" fill="#8088c0"/><rect x="256.00" y="412.08" width="5.00" height="6.49" fill="#f8f6fa"/><rect x="260.95" y="412.08" width="5.00" height="6.49" fill="#3a50a8"/><rect x="265.90" y="412.08" width="5.00" height="6.49" fill="#dd1111"/><rect x="270.85" y="412.08" width="5.00" height="6.49" fill="#dd1111"/><rect x="275.80" y="412.08" width="5.00" height="6.49" fill="#dd1111"/><rect x="280.75" y="412.08" width="5.00" height="6.49" fill="#ecebf6"/><rect x="285.70" y="412.08" width="5.00" height="6.49" fill="#7080b8"/><rect x="290.65" y="412.08" width="5.00" height="6.49" fill="#5058a8"/><rect x="256.00" y="418.52" width="5.00" height="6.49" fill="#f8f6fa"/><rect x="260.95" y="418.52" width="5.00" height="6.49" fill="#3a50a8"/><rect x="265.90" y="418.52" width="5.00" height="6.49" fill="#dd1111"/><rect x="270.85" y="418.52" width="5.00" height="6.49" fill="#dd1111"/><rect x="275.80" y="418.52" width="5.00" height="6.49" fill="#dd1111"/><rect x="280.75" y="418.52" width="5.00" height="6.49" fill="#8890c0"/><rect x="285.70" y="418.52" width="5.00" height="6.49" fill="#f8f6fa"/><rect x="290.65" y="418.52" width="5.00" height="6.49" fill="#8088c0"/><rect x="256.00" y="424.96" width="5.00" height="6.49" fill="#f8f6fa"/><rect x="260.95" y="424.96" width="5.00" height="6.49" fill="#f8f6fa"/><rect x="265.90" y="424.96" width="5.00" height="6.49" fill="#e88070"/><rect x="270.85" y="424.96" width="5.00" height="6.49" fill="#dd1111"/><rect x="275.80" y="424.96" width="5.00" height="6.49" fill="#f0a0a0"/><rect x="280.75" y="424.96" width="5.00" height="6.49" fill="#f8f6fa"/><rect x="285.70" y="424.96" width="5.00" height="6.49" fill="#f8f6fa"/><rect x="290.65" y="424.96" width="5.00" height="6.49" fill="#f8f6fa"/><rect x="256.00" y="431.39" width="5.00" height="6.49" fill="#8088c8"/><rect x="260.95" y="431.39" width="5.00" height="6.49" fill="#b0b0e0"/><rect x="265.90" y="431.39" width="5.00" height="6.49" fill="#dd1111"/><rect x="270.85" y="431.39" width="5.00" height="6.49" fill="#dd4040"/><rect x="275.80" y="431.39" width="5.00" height="6.49" fill="#dd4444"/><rect x="280.75" y="431.39" width="5.00" height="6.49" fill="#f8f6fa"/><rect x="285.70" y="431.39" width="5.00" height="6.49" fill="#f8f6fa"/><rect x="290.65" y="431.39" width="5.00" height="6.49" fill="#e0e0f2"/><rect x="256.00" y="437.83" width="5.00" height="6.49" fill="#c0c0e8"/><rect x="260.95" y="437.83" width="5.00" height="6.49" fill="#5060b0"/><rect x="265.90" y="437.83" width="5.00" height="6.49" fill="#dd1111"/><rect x="270.85" y="437.83" width="5.00" height="6.49" fill="#f0c0c0"/><rect x="275.80" y="437.83" width="5.00" height="6.49" fill="#f4d0d0"/><rect x="280.75" y="437.83" width="5.00" height="6.49" fill="#ecebf6"/><rect x="285.70" y="437.83" width="5.00" height="6.49" fill="#4a50b0"/><rect x="290.65" y="437.83" width="5.00" height="6.49" fill="#8088c8"/><rect x="256.00" y="444.27" width="5.00" height="6.49" fill="#3a4aa8"/><rect x="260.95" y="444.27" width="5.00" height="6.49" fill="#4a58b0"/><rect x="265.90" y="444.27" width="5.00" height="6.49" fill="#f0b0b0"/><rect x="270.85" y="444.27" width="5.00" height="6.49" fill="#f0b8b8"/><rect x="275.80" y="444.27" width="5.00" height="6.49" fill="#e8c8d8"/><rect x="280.75" y="444.27" width="5.00" height="6.49" fill="#dcdcf0"/><rect x="285.70" y="444.27" width="5.00" height="6.49" fill="#4a58b0"/><rect x="290.65" y="444.27" width="5.00" height="6.49" fill="#ecebf6"/><rect x="256.00" y="450.71" width="5.00" height="6.49" fill="#a0a8d8"/><rect x="260.95" y="450.71" width="5.00" height="6.49" fill="#6070b8"/><rect x="265.90" y="450.71" width="5.00" height="6.49" fill="#f8f6fa"/><rect x="270.85" y="450.71" width="5.00" height="6.49" fill="#f8ecec"/><rect x="275.80" y="450.71" width="5.00" height="6.49" fill="#f8f6fa"/><rect x="280.75" y="450.71" width="5.00" height="6.49" fill="#f8f6fa"/><rect x="285.70" y="450.71" width="5.00" height="6.49" fill="#ecebf6"/><rect x="290.65" y="450.71" width="5.00" height="6.49" fill="#f8f6fa"/><rect x="256.00" y="457.15" width="5.00" height="6.49" fill="#5060b0"/><rect x="260.95" y="457.15" width="5.00" height="6.49" fill="#4a58b0"/><rect x="265.90" y="457.15" width="5.00" height="6.49" fill="#e8a090"/><rect x="270.85" y="457.15" width="5.00" height="6.49" fill="#e8a090"/><rect x="275.80" y="457.15" width="5.00" height="6.49" fill="#f8f6fa"/><rect x="280.75" y="457.15" width="5.00" height="6.49" fill="#f8f6fa"/><rect x="285.70" y="457.15" width="5.00" height="6.49" fill="#e0e0f2"/><rect x="290.65" y="457.15" width="5.00" height="6.49" fill="#f8f6fa"/><rect x="256.00" y="463.59" width="5.00" height="6.49" fill="#c8c8ec"/><rect x="260.95" y="463.59" width="5.00" height="6.49" fill="#c8c8ec"/><rect x="265.90" y="463.59" width="5.00" height="6.49" fill="#f8f6fa"/><rect x="270.85" y="463.59" width="5.00" height="6.49" fill="#f8f6fa"/><rect x="275.80" y="463.59" width="5.00" height="6.49" fill="#f8f6fa"/><rect x="280.75" y="463.59" width="5.00" height="6.49" fill="#f8eeee"/><rect x="285.70" y="463.59" width="5.00" height="6.49" fill="#eadcec"/><rect x="290.65" y="463.59" width="5.00" height="6.49" fill="#f8eeee"/><rect x="256.00" y="470.03" width="5.00" height="6.49" fill="#a0a0d8"/><rect x="260.95" y="470.03" width="5.00" height="6.49" fill="#c8c8ec"/><rect x="265.90" y="470.03" width="5.00" height="6.49" fill="#f8f6fa"/><rect x="270.85" y="470.03" width="5.00" height="6.49" fill="#f8f6fa"/><rect x="275.80" y="470.03" width="5.00" height="6.49" fill="#f8f6fa"/><rect x="280.75" y="470.03" width="5.00" height="6.49" fill="#f8eeee"/><rect x="285.70" y="470.03" width="5.00" height="6.49" fill="#f8f6fa"/><rect x="290.65" y="470.03" width="5.00" height="6.49" fill="#f8f6fa"/><rect x="256.00" y="476.47" width="5.00" height="6.49" fill="#a8a8dc"/><rect x="260.95" y="476.47" width="5.00" height="6.49" fill="#c8c8ec"/><rect x="265.90" y="476.47" width="5.00" height="6.49" fill="#f8f6fa"/><rect x="270.85" y="476.47" width="5.00" height="6.49" fill="#f8f6fa"/><rect x="275.80" y="476.47" width="5.00" height="6.49" fill="#f8f6fa"/><rect x="280.75" y="476.47" width="5.00" height="6.49" fill="#f8f6fa"/><rect x="285.70" y="476.47" width="5.00" height="6.49" fill="#f8f6fa"/><rect x="290.65" y="476.47" width="5.00" height="6.49" fill="#f8f6fa"/><rect x="256.00" y="482.91" width="5.00" height="6.49" fill="#2840a0"/><rect x="260.95" y="482.91" width="5.00" height="6.49" fill="#3a50a8"/><rect x="265.90" y="482.91" width="5.00" height="6.49" fill="#dd1111"/><rect x="270.85" y="482.91" width="5.00" height="6.49" fill="#f0b0b0"/><rect x="275.80" y="482.91" width="5.00" height="6.49" fill="#3a50a8"/><rect x="280.75" y="482.91" width="5.00" height="6.49" fill="#e07060"/><rect x="285.70" y="482.91" width="5.00" height="6.49" fill="#3a50a8"/><rect x="290.65" y="482.91" width="5.00" height="6.49" fill="#cc2020"/><rect x="256.00" y="489.34" width="5.00" height="6.49" fill="#f8f6fa"/><rect x="260.95" y="489.34" width="5.00" height="6.49" fill="#b8c0e0"/><rect x="265.90" y="489.34" width="5.00" height="6.49" fill="#f0d0d0"/><rect x="270.85" y="489.34" width="5.00" height="6.49" fill="#eadce6"/><rect x="275.80" y="489.34" width="5.00" height="6.49" fill="#ecebf6"/><rect x="280.75" y="489.34" width="5.00" height="6.49" fill="#f8f6fa"/><rect x="285.70" y="489.34" width="5.00" height="6.49" fill="#f8f6fa"/><rect x="290.65" y="489.34" width="5.00" height="6.49" fill="#f8eeee"/><rect x="256.00" y="495.78" width="5.00" height="6.49" fill="#c8d0ec"/><rect x="260.95" y="495.78" width="5.00" height="6.49" fill="#4058b0"/><rect x="265.90" y="495.78" width="5.00" height="6.49" fill="#e89080"/><rect x="270.85" y="495.78" width="5.00" height="6.49" fill="#dd1111"/><rect x="275.80" y="495.78" width="5.00" height="6.49" fill="#dd2222"/><rect x="280.75" y="495.78" width="5.00" height="6.49" fill="#f8f6fa"/><rect x="285.70" y="495.78" width="5.00" height="6.49" fill="#f8f6fa"/><rect x="290.65" y="495.78" width="5.00" height="6.49" fill="#f8f6fa"/><rect x="256.00" y="502.22" width="5.00" height="6.49" fill="#f8f6fa"/><rect x="260.95" y="502.22" width="5.00" height="6.49" fill="#3a50a8"/><rect x="265.90" y="502.22" width="5.00" height="6.49" fill="#f0c8c8"/><rect x="270.85" y="502.22" width="5.00" height="6.49" fill="#dd4444"/><rect x="275.80" y="502.22" width="5.00" height="6.49" fill="#e06060"/><rect x="280.75" y="502.22" width="5.00" height="6.49" fill="#e0e0f2"/><rect x="285.70" y="502.22" width="5.00" height="6.49" fill="#f8f6fa"/><rect x="290.65" y="502.22" width="5.00" height="6.49" fill="#f8f6fa"/><rect x="256.00" y="508.66" width="5.00" height="6.49" fill="#f8f6fa"/><rect x="260.95" y="508.66" width="5.00" height="6.49" fill="#a8b0e0"/><rect x="265.90" y="508.66" width="5.00" height="6.49" fill="#f8f6fa"/><rect x="270.85" y="508.66" width="5.00" height="6.49" fill="#f0b0b0"/><rect x="275.80" y="508.66" width="5.00" height="6.49" fill="#f4c8c8"/><rect x="280.75" y="508.66" width="5.00" height="6.49" fill="#ecebf6"/><rect x="285.70" y="508.66" width="5.00" height="6.49" fill="#f8f6fa"/><rect x="290.65" y="508.66" width="5.00" height="6.49" fill="#f8f6fa"/><rect x="256.00" y="515.10" width="5.00" height="6.49" fill="#f8f6fa"/><rect x="260.95" y="515.10" width="5.00" height="6.49" fill="#4050a8"/><rect x="265.90" y="515.10" width="5.00" height="6.49" fill="#e88878"/><rect x="270.85" y="515.10" width="5.00" height="6.49" fill="#dd2222"/><rect x="275.80" y="515.10" width="5.00" height="6.49" fill="#dd2222"/><rect x="280.75" y="515.10" width="5.00" height="6.49" fill="#ecebf6"/><rect x="285.70" y="515.10" width="5.00" height="6.49" fill="#f8f6fa"/><rect x="290.65" y="515.10" width="5.00" height="6.49" fill="#f8f6fa"/><rect x="256.00" y="521.54" width="5.00" height="6.49" fill="#f8f6fa"/><rect x="260.95" y="521.54" width="5.00" height="6.49" fill="#5060b0"/><rect x="265.90" y="521.54" width="5.00" height="6.49" fill="#f0a090"/><rect x="270.85" y="521.54" width="5.00" height="6.49" fill="#dd2222"/><rect x="275.80" y="521.54" width="5.00" height="6.49" fill="#dd2222"/><rect x="280.75" y="521.54" width="5.00" height="6.49" fill="#f8f6fa"/><rect x="285.70" y="521.54" width="5.00" height="6.49" fill="#f8f6fa"/><rect x="290.65" y="521.54" width="5.00" height="6.49" fill="#f8f6fa"/><rect x="256.00" y="527.98" width="5.00" height="6.49" fill="#9098d0"/><rect x="260.95" y="527.98" width="5.00" height="6.49" fill="#4a58b0"/><rect x="265.90" y="527.98" width="5.00" height="6.49" fill="#f8f6fa"/><rect x="270.85" y="527.98" width="5.00" height="6.49" fill="#f0b8b8"/><rect x="275.80" y="527.98" width="5.00" height="6.49" fill="#f0c0c0"/><rect x="280.75" y="527.98" width="5.00" height="6.49" fill="#ecebf6"/><rect x="285.70" y="527.98" width="5.00" height="6.49" fill="#f8f6fa"/><rect x="290.65" y="527.98" width="5.00" height="6.49" fill="#f8f6fa"/><rect x="256.00" y="534.42" width="5.00" height="6.49" fill="#c8d0ec"/><rect x="260.95" y="534.42" width="5.00" height="6.49" fill="#c0c8e8"/><rect x="265.90" y="534.42" width="5.00" height="6.49" fill="#f8f6fa"/><rect x="270.85" y="534.42" width="5.00" height="6.49" fill="#f8eeee"/><rect x="275.80" y="534.42" width="5.00" height="6.49" fill="#f8eeee"/><rect x="280.75" y="534.42" width="5.00" height="6.49" fill="#f8f6fa"/><rect x="285.70" y="534.42" width="5.00" height="6.49" fill="#f8f6fa"/><rect x="290.65" y="534.42" width="5.00" height="6.49" fill="#f8f6fa"/><rect x="256.00" y="540.86" width="5.00" height="6.49" fill="#8890c8"/><rect x="260.95" y="540.86" width="5.00" height="6.49" fill="#8890c8"/><rect x="265.90" y="540.86" width="5.00" height="6.49" fill="#f8f6fa"/><rect x="270.85" y="540.86" width="5.00" height="6.49" fill="#f6e0e0"/><rect x="275.80" y="540.86" width="5.00" height="6.49" fill="#ecebf6"/><rect x="280.75" y="540.86" width="5.00" height="6.49" fill="#d0d8f0"/><rect x="285.70" y="540.86" width="5.00" height="6.49" fill="#f8f6fa"/><rect x="290.65" y="540.86" width="5.00" height="6.49" fill="#f8f6fa"/><rect x="256.00" y="547.29" width="5.00" height="6.49" fill="#f8f6fa"/><rect x="260.95" y="547.29" width="5.00" height="6.49" fill="#4050a8"/><rect x="265.90" y="547.29" width="5.00" height="6.49" fill="#f8f6fa"/><rect x="270.85" y="547.29" width="5.00" height="6.49" fill="#e06060"/><rect x="275.80" y="547.29" width="5.00" height="6.49" fill="#e07070"/><rect x="280.75" y="547.29" width="5.00" height="6.49" fill="#8090c8"/><rect x="285.70" y="547.29" width="5.00" height="6.49" fill="#f8f6fa"/><rect x="290.65" y="547.29" width="5.00" height="6.49" fill="#f8f6fa"/><rect x="256.00" y="553.73" width="5.00" height="6.49" fill="#ecebf6"/><rect x="260.95" y="553.73" width="5.00" height="6.49" fill="#c8c8e8"/><rect x="265.90" y="553.73" width="5.00" height="6.49" fill="#f8f6fa"/><rect x="270.85" y="553.73" width="5.00" height="6.49" fill="#f0c0c0"/><rect x="275.80" y="553.73" width="5.00" height="6.49" fill="#f0b8b8"/><rect x="280.75" y="553.73" width="5.00" height="6.49" fill="#f8f6fa"/><rect x="285.70" y="553.73" width="5.00" height="6.49" fill="#f8f6fa"/><rect x="290.65" y="553.73" width="5.00" height="6.49" fill="#f8f6fa"/><rect x="256.00" y="560.17" width="5.00" height="6.49" fill="#c0c0e4"/><rect x="260.95" y="560.17" width="5.00" height="6.49" fill="#c8c0e0"/><rect x="265.90" y="560.17" width="5.00" height="6.49" fill="#e8c8d8"/><rect x="270.85" y="560.17" width="5.00" height="6.49" fill="#e07070"/><rect x="275.80" y="560.17" width="5.00" height="6.49" fill="#dd5050"/><rect x="280.75" y="560.17" width="5.00" height="6.49" fill="#d0d0ec"/><rect x="285.70" y="560.17" width="5.00" height="6.49" fill="#f8f6fa"/><rect x="290.65" y="560.17" width="5.00" height="6.49" fill="#ecebf6"/><rect x="256.00" y="566.61" width="5.00" height="6.49" fill="#ecebf6"/><rect x="260.95" y="566.61" width="5.00" height="6.49" fill="#c8c8e8"/><rect x="265.90" y="566.61" width="5.00" height="6.49" fill="#f8f6fa"/><rect x="270.85" y="566.61" width="5.00" height="6.49" fill="#f8eeee"/><rect x="275.80" y="566.61" width="5.00" height="6.49" fill="#f0b0b0"/><rect x="280.75" y="566.61" width="5.00" height="6.49" fill="#f8f6fa"/><rect x="285.70" y="566.61" width="5.00" height="6.49" fill="#f8eeee"/><rect x="290.65" y="566.61" width="5.00" height="6.49" fill="#f8f6fa"/><rect x="256.00" y="573.05" width="5.00" height="6.49" fill="#f8f6fa"/><rect x="260.95" y="573.05" width="5.00" height="6.49" fill="#ecebf6"/><rect x="265.90" y="573.05" width="5.00" height="6.49" fill="#f8eeee"/><rect x="270.85" y="573.05" width="5.00" height="6.49" fill="#f0c8c8"/><rect x="275.80" y="573.05" width="5.00" height="6.49" fill="#f0c0c0"/><rect x="280.75" y="573.05" width="5.00" height="6.49" fill="#f8f6fa"/><rect x="285.70" y="573.05" width="5.00" height="6.49" fill="#f8f6fa"/><rect x="290.65" y="573.05" width="5.00" height="6.49" fill="#f8f6fa"/><rect x="256.00" y="579.49" width="5.00" height="6.49" fill="#f8f6fa"/><rect x="260.95" y="579.49" width="5.00" height="6.49" fill="#4050a8"/><rect x="265.90" y="579.49" width="5.00" height="6.49" fill="#e04848"/><rect x="270.85" y="579.49" width="5.00" height="6.49" fill="#dd3030"/><rect x="275.80" y="579.49" width="5.00" height="6.49" fill="#dd1111"/><rect x="280.75" y="579.49" width="5.00" height="6.49" fill="#e0d0e0"/><rect x="285.70" y="579.49" width="5.00" height="6.49" fill="#f8f6fa"/><rect x="290.65" y="579.49" width="5.00" height="6.49" fill="#e0d0e0"/><rect x="256.00" y="585.93" width="5.00" height="6.49" fill="#f8f6fa"/><rect x="260.95" y="585.93" width="5.00" height="6.49" fill="#c0c8ec"/><rect x="265.90" y="585.93" width="5.00" height="6.49" fill="#e04848"/><rect x="270.85" y="585.93" width="5.00" height="6.49" fill="#dd3030"/><rect x="275.80" y="585.93" width="5.00" height="6.49" fill="#dd1a1a"/><rect x="280.75" y="585.93" width="5.00" height="6.49" fill="#f8f6fa"/><rect x="285.70" y="585.93" width="5.00" height="6.49" fill="#f8f6fa"/><rect x="290.65" y="585.93" width="5.00" height="6.49" fill="#f8f6fa"/><rect x="256.00" y="592.37" width="5.00" height="6.49" fill="#ecebf6"/><rect x="260.95" y="592.37" width="5.00" height="6.49" fill="#c8c8ec"/><rect x="265.90" y="592.37" width="5.00" height="6.49" fill="#e87070"/><rect x="270.85" y="592.37" width="5.00" height="6.49" fill="#e06060"/><rect x="275.80" y="592.37" width="5.00" height="6.49" fill="#e05858"/><rect x="280.75" y="592.37" width="5.00" height="6.49" fill="#f8f6fa"/><rect x="285.70" y="592.37" width="5.00" height="6.49" fill="#f8f6fa"/><rect x="290.65" y="592.37" width="5.00" height="6.49" fill="#f8f6fa"/><rect x="256.00" y="598.81" width="5.00" height="6.49" fill="#f8f6fa"/><rect x="260.95" y="598.81" width="5.00" height="6.49" fill="#2a3a98"/><rect x="265.90" y="598.81" width="5.00" height="6.49" fill="#f8f6fa"/><rect x="270.85" y="598.81" width="5.00" height="6.49" fill="#f0d0d0"/><rect x="275.80" y="598.81" width="5.00" height="6.49" fill="#f8f6fa"/><rect x="280.75" y="598.81" width="5.00" height="6.49" fill="#ecebf6"/><rect x="285.70" y="598.81" width="5.00" height="6.49" fill="#f8eeee"/><rect x="290.65" y="598.81" width="5.00" height="6.49" fill="#f8eeee"/><rect x="256.00" y="605.24" width="5.00" height="6.49" fill="#ecebf6"/><rect x="260.95" y="605.24" width="5.00" height="6.49" fill="#a8b0d8"/><rect x="265.90" y="605.24" width="5.00" height="6.49" fill="#f8f6fa"/><rect x="270.85" y="605.24" width="5.00" height="6.49" fill="#f8eeee"/><rect x="275.80" y="605.24" width="5.00" height="6.49" fill="#f8f6fa"/><rect x="280.75" y="605.24" width="5.00" height="6.49" fill="#ecebf6"/><rect x="285.70" y="605.24" width="5.00" height="6.49" fill="#f8f6fa"/><rect x="290.65" y="605.24" width="5.00" height="6.49" fill="#f8f6fa"/><rect x="256.00" y="611.68" width="5.00" height="6.49" fill="#ecebf6"/><rect x="260.95" y="611.68" width="5.00" height="6.49" fill="#9098d0"/><rect x="265.90" y="611.68" width="5.00" height="6.49" fill="#f8f6fa"/><rect x="270.85" y="611.68" width="5.00" height="6.49" fill="#f8eeee"/><rect x="275.80" y="611.68" width="5.00" height="6.49" fill="#f8f6fa"/><rect x="280.75" y="611.68" width="5.00" height="6.49" fill="#f8f6fa"/><rect x="285.70" y="611.68" width="5.00" height="6.49" fill="#f8f6fa"/><rect x="290.65" y="611.68" width="5.00" height="6.49" fill="#f0c0c0"/><rect x="256.00" y="618.12" width="5.00" height="6.49" fill="#d83030"/><rect x="260.95" y="618.12" width="5.00" height="6.49" fill="#d0d8f0"/><rect x="265.90" y="618.12" width="5.00" height="6.49" fill="#f8f6fa"/><rect x="270.85" y="618.12" width="5.00" height="6.49" fill="#dd1111"/><rect x="275.80" y="618.12" width="5.00" height="6.49" fill="#a0a0d0"/><rect x="280.75" y="618.12" width="5.00" height="6.49" fill="#f8f6fa"/><rect x="285.70" y="618.12" width="5.00" height="6.49" fill="#ecebf6"/><rect x="290.65" y="618.12" width="5.00" height="6.49" fill="#cc1a1a"/><rect x="256.00" y="624.56" width="5.00" height="6.49" fill="#f8f6fa"/><rect x="260.95" y="624.56" width="5.00" height="6.49" fill="#3a4a9a"/><rect x="265.90" y="624.56" width="5.00" height="6.49" fill="#f0b0b8"/><rect x="270.85" y="624.56" width="5.00" height="6.49" fill="#dd2020"/><rect x="275.80" y="624.56" width="5.00" height="6.49" fill="#4a50a0"/><rect x="280.75" y="624.56" width="5.00" height="6.49" fill="#ecebf6"/><rect x="285.70" y="624.56" width="5.00" height="6.49" fill="#3a4aa0"/><rect x="290.65" y="624.56" width="5.00" height="6.49" fill="#e89090"/></g>
<rect x="256.0" y="399.2" width="39.60" height="231.80" fill="none" stroke="#111" stroke-width="1.3"/>
<text x="233.40" y="403.45" font-size="5.1" text-anchor="start" font-weight="normal" fill="#000" style="stroke-width:0.05px">IFITM3</text>
<text x="233.40" y="409.95" font-size="5.1" text-anchor="start" font-weight="normal" fill="#000" style="stroke-width:0.05px">HLA-G</text>
<text x="233.40" y="416.46" font-size="5.1" text-anchor="start" font-weight="normal" fill="#000" style="stroke-width:0.05px">HLA-C</text>
<text x="233.40" y="422.96" font-size="5.1" text-anchor="start" font-weight="normal" fill="#000" style="stroke-width:0.05px">IRF9</text>
<text x="233.40" y="429.46" font-size="5.1" text-anchor="start" font-weight="normal" fill="#000" style="stroke-width:0.05px">MX2</text>
<text x="233.40" y="435.97" font-size="5.1" text-anchor="start" font-weight="normal" fill="#000" style="stroke-width:0.05px">IFI35</text>
<text x="233.40" y="442.47" font-size="5.1" text-anchor="start" font-weight="normal" fill="#000" style="stroke-width:0.05px">IFI6</text>
<text x="233.40" y="448.97" font-size="5.1" text-anchor="start" font-weight="normal" fill="#000" style="stroke-width:0.05px">STAT1</text>
<text x="233.40" y="455.47" font-size="5.1" text-anchor="start" font-weight="normal" fill="#000" style="stroke-width:0.05px">PSMB8</text>
<text x="233.40" y="461.98" font-size="5.1" text-anchor="start" font-weight="normal" fill="#000" style="stroke-width:0.05px">GBP2</text>
<text x="233.40" y="468.48" font-size="5.1" text-anchor="start" font-weight="normal" fill="#000" style="stroke-width:0.05px">OAS3</text>
<text x="233.40" y="474.98" font-size="5.1" text-anchor="start" font-weight="normal" fill="#000" style="stroke-width:0.05px">STAT2</text>
<text x="233.40" y="481.49" font-size="5.1" text-anchor="start" font-weight="normal" fill="#000" style="stroke-width:0.05px">OAS1</text>
<text x="233.40" y="487.99" font-size="5.1" text-anchor="start" font-weight="normal" fill="#000" style="stroke-width:0.05px">IRF7</text>
<text x="233.40" y="494.49" font-size="5.1" text-anchor="start" font-weight="normal" fill="#000" style="stroke-width:0.05px">ADAR</text>
<text x="233.40" y="501.00" font-size="5.1" text-anchor="start" font-weight="normal" fill="#000" style="stroke-width:0.05px">XAF1</text>
<text x="233.40" y="507.50" font-size="5.1" text-anchor="start" font-weight="normal" fill="#000" style="stroke-width:0.05px">ISG15</text>
<text x="233.40" y="514.00" font-size="5.1" text-anchor="start" font-weight="normal" fill="#000" style="stroke-width:0.05px">USP18</text>
<text x="233.40" y="520.50" font-size="5.1" text-anchor="start" font-weight="normal" fill="#000" style="stroke-width:0.05px">OAS2</text>
<text x="233.40" y="527.01" font-size="5.1" text-anchor="start" font-weight="normal" fill="#000" style="stroke-width:0.05px">MX1</text>
<text x="233.40" y="533.51" font-size="5.1" text-anchor="start" font-weight="normal" fill="#000" style="stroke-width:0.05px">IFIT1</text>
<text x="233.40" y="540.01" font-size="5.1" text-anchor="start" font-weight="normal" fill="#000" style="stroke-width:0.05px">IFITM2</text>
<text x="233.40" y="546.52" font-size="5.1" text-anchor="start" font-weight="normal" fill="#000" style="stroke-width:0.05px">EGR1</text>
<text x="233.40" y="553.02" font-size="5.1" text-anchor="start" font-weight="normal" fill="#000" style="stroke-width:0.05px">HLA-B</text>
<text x="233.40" y="559.52" font-size="5.1" text-anchor="start" font-weight="normal" fill="#000" style="stroke-width:0.05px">HLA-F</text>
<text x="233.40" y="566.02" font-size="5.1" text-anchor="start" font-weight="normal" fill="#000" style="stroke-width:0.05px">HLA-A</text>
<text x="233.40" y="572.53" font-size="5.1" text-anchor="start" font-weight="normal" fill="#000" style="stroke-width:0.05px">IFITM1</text>
<text x="233.40" y="579.03" font-size="5.1" text-anchor="start" font-weight="normal" fill="#000" style="stroke-width:0.05px">ISG20</text>
<text x="233.40" y="585.53" font-size="5.1" text-anchor="start" font-weight="normal" fill="#000" style="stroke-width:0.05px">SOCS3</text>
<text x="233.40" y="592.04" font-size="5.1" text-anchor="start" font-weight="normal" fill="#000" style="stroke-width:0.05px">IRF8</text>
<text x="233.40" y="598.54" font-size="5.1" text-anchor="start" font-weight="normal" fill="#000" style="stroke-width:0.05px">IRF1</text>
<text x="233.40" y="605.04" font-size="5.1" text-anchor="start" font-weight="normal" fill="#000" style="stroke-width:0.05px">IFIT2</text>
<text x="233.40" y="611.55" font-size="5.1" text-anchor="start" font-weight="normal" fill="#000" style="stroke-width:0.05px">IFIT3</text>
<text x="233.40" y="618.05" font-size="5.1" text-anchor="start" font-weight="normal" fill="#000" style="stroke-width:0.05px">IFI27</text>
<text x="233.40" y="624.55" font-size="5.1" text-anchor="start" font-weight="normal" fill="#000" style="stroke-width:0.05px">OASL</text>
<text x="233.40" y="631.06" font-size="5.1" text-anchor="start" font-weight="normal" fill="#000" style="stroke-width:0.05px">SOCS1</text>
<line x1="265.90" y1="631.0" x2="265.90" y2="633.5" stroke="#111" stroke-width="1"/>
<line x1="280.75" y1="631.0" x2="280.75" y2="633.5" stroke="#111" stroke-width="1"/>
<text transform="translate(262.60,637.60) rotate(-90)" font-size="5.3" text-anchor="end" fill="#000" style="stroke-width:0.12px">Control</text>
<text transform="translate(274.90,637.60) rotate(-90)" font-size="5.3" text-anchor="end" fill="#000" style="stroke-width:0.12px">EP</text>
<text transform="translate(288.50,637.60) rotate(-90)" font-size="5.3" text-anchor="end" fill="#000" style="stroke-width:0.12px">TPO</text>
<text x="402.20" y="385.40" font-size="7.58" text-anchor="middle" font-weight="normal" fill="#000" >Differential Genes Overlap</text>
<text x="375.30" y="397.70" font-size="7.6" text-anchor="middle" font-weight="normal" fill="#000" >Control vs TPO</text>
<text x="433.20" y="397.70" font-size="7.55" text-anchor="middle" font-weight="normal" fill="#000" >Control vs EP</text>
<defs><clipPath id="cr"><circle cx="375.4" cy="437.6" r="33.7"/></clipPath></defs>
<circle cx="375.4" cy="437.6" r="33.7" fill="#e2777f"/>
<circle cx="434.0" cy="437.6" r="38.0" fill="#a0a4d2"/>
<circle cx="434.0" cy="437.6" r="38.0" fill="#9670a0" clip-path="url(#cr)"/>
<circle cx="375.4" cy="437.6" r="33.7" fill="none" stroke="#1a1018" stroke-width="1.9"/>
<circle cx="434.0" cy="437.6" r="38.0" fill="none" stroke="#1a1018" stroke-width="1.9"/>
<text x="375.80" y="440.40" font-size="7.5" text-anchor="middle" font-weight="normal" fill="#222" style="stroke:#222">141</text>
<text x="402.00" y="440.40" font-size="7.5" text-anchor="middle" font-weight="normal" fill="#2a1a30" style="stroke:#2a1a30">19</text>
<text x="433.90" y="440.40" font-size="7.5" text-anchor="middle" font-weight="normal" fill="#222" style="stroke:#222">198</text>
<text x="417.20" y="495.00" font-size="7.57" text-anchor="middle" font-weight="normal" fill="#000" >Overlap Gene Members</text>
<line x1="340.8" y1="499.7" x2="473.0" y2="499.7" stroke="#000" stroke-width="1.7"/>
<text x="341.70" y="509.90" font-size="7.5" text-anchor="start" font-weight="normal" fill="#000" >AHRR</text>
<text x="341.70" y="519.13" font-size="7.5" text-anchor="start" font-weight="normal" fill="#000" >APOBEC3H</text>
<text x="341.70" y="528.36" font-size="7.5" text-anchor="start" font-weight="normal" fill="#000" >BCL2L11</text>
<text x="341.70" y="537.59" font-size="7.5" text-anchor="start" font-weight="normal" fill="#000" >C11orf63</text>
<text x="341.70" y="546.82" font-size="7.5" text-anchor="start" font-weight="normal" fill="#000" >CCNG2</text>
<text x="341.70" y="556.05" font-size="7.5" text-anchor="start" font-weight="normal" fill="#000" >CTSH</text>
<text x="341.70" y="565.28" font-size="7.5" text-anchor="start" font-weight="normal" fill="#000" >ERMAP</text>
<text x="387.90" y="509.90" font-size="7.5" text-anchor="start" font-weight="normal" fill="#000" >FBN1</text>
<text x="387.90" y="519.13" font-size="7.5" text-anchor="start" font-weight="normal" fill="#000" >GOLGA4</text>
<text x="387.90" y="528.36" font-size="7.5" text-anchor="start" font-weight="normal" fill="#000" >HIST1H2AC</text>
<text x="387.90" y="537.59" font-size="7.5" text-anchor="start" font-weight="normal" fill="#000" >HIST2H2BE</text>
<text x="387.90" y="546.82" font-size="7.5" text-anchor="start" font-weight="normal" fill="#000" >LRRC8A</text>
<text x="387.90" y="556.05" font-size="7.5" text-anchor="start" font-weight="normal" fill="#000" >MPI</text>
<text x="387.90" y="565.28" font-size="7.5" text-anchor="start" font-weight="normal" fill="#000" >RAB40B</text>
<text x="436.90" y="509.90" font-size="7.5" text-anchor="start" font-weight="normal" fill="#000" >SCL43A</text>
<text x="436.90" y="519.13" font-size="7.5" text-anchor="start" font-weight="normal" fill="#000" >SLC4A8</text>
<text x="436.90" y="528.36" font-size="7.5" text-anchor="start" font-weight="normal" fill="#000" >STX3</text>
<text x="436.90" y="537.59" font-size="7.5" text-anchor="start" font-weight="normal" fill="#000" >TMEM245</text>
<text x="436.90" y="546.82" font-size="7.5" text-anchor="start" font-weight="normal" fill="#000" >ZNF470</text>
<rect x="0" y="0" width="520" height="1" fill="#000"/>
<rect x="0" y="0" width="1.1" height="678" fill="#000"/>
<rect x="518" y="0" width="2" height="678" fill="#000"/>
<rect x="0" y="676" width="520" height="2" fill="#000"/>
</svg>
</body></html>
